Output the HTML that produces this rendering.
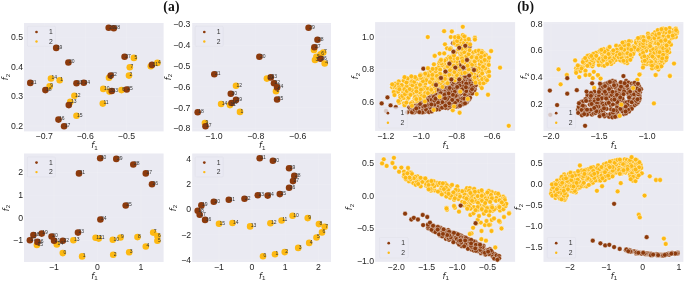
<!DOCTYPE html>
<html><head><meta charset="utf-8"><title>figure</title>
<style>
html,body{margin:0;padding:0;background:#fff;}
svg{display:block}
text{font-family:"Liberation Sans",sans-serif;fill:#262626}
.tk{font-size:8.7px}
.lg{font-size:6.8px;fill:#333}
.pl{font-size:5px;fill:#333}
.ax{font-family:"DejaVu Sans","Liberation Sans",sans-serif;font-style:italic;font-size:8.3px}
.sub{font-family:"Liberation Sans",sans-serif;font-style:normal;font-size:6.2px}
.ttl{font-family:"Liberation Serif",serif;font-weight:bold;font-size:13.6px;letter-spacing:0.15px;fill:#111}
</style></head><body>
<svg width="685" height="282" viewBox="0 0 685 282">
<rect width="685" height="282" fill="#fff"/>
<rect x="24" y="23" width="139.6" height="108.4" fill="#eaeaf2"/>
<line x1="44.2" y1="23" x2="44.2" y2="131.4" stroke="#fff" stroke-opacity="0.2" stroke-width="0.6"/>
<text class="tk" x="44.2" y="139.3" text-anchor="middle">−0.7</text>
<line x1="85.3" y1="23" x2="85.3" y2="131.4" stroke="#fff" stroke-opacity="0.2" stroke-width="0.6"/>
<text class="tk" x="85.3" y="139.3" text-anchor="middle">−0.6</text>
<line x1="126.4" y1="23" x2="126.4" y2="131.4" stroke="#fff" stroke-opacity="0.2" stroke-width="0.6"/>
<text class="tk" x="126.4" y="139.3" text-anchor="middle">−0.5</text>
<line x1="24" y1="37.2" x2="163.6" y2="37.2" stroke="#fff" stroke-opacity="0.2" stroke-width="0.6"/>
<text class="tk" x="23" y="40" text-anchor="end">0.5</text>
<line x1="24" y1="66.8" x2="163.6" y2="66.8" stroke="#fff" stroke-opacity="0.2" stroke-width="0.6"/>
<text class="tk" x="23" y="69.6" text-anchor="end">0.4</text>
<line x1="24" y1="96.4" x2="163.6" y2="96.4" stroke="#fff" stroke-opacity="0.2" stroke-width="0.6"/>
<text class="tk" x="23" y="99.2" text-anchor="end">0.3</text>
<line x1="24" y1="126" x2="163.6" y2="126" stroke="#fff" stroke-opacity="0.2" stroke-width="0.6"/>
<text class="tk" x="23" y="128.8" text-anchor="end">0.2</text>
<text class="ax" x="94.4" y="148.1" text-anchor="middle">f<tspan class="sub" dy="1.6">1</tspan></text>
<text class="ax" transform="translate(8 77) rotate(-90)" text-anchor="middle">f<tspan class="sub" dy="1.6">2</tspan></text>
<rect x="27.4" y="26.3" width="28" height="20" rx="1" fill="#eaeaf2" fill-opacity="0.8" stroke="#d8d8e2" stroke-opacity="0.7" stroke-width="0.4"/>
<circle cx="36.5" cy="32" r="1.35" fill="#8c3a0c"/>
<circle cx="36.5" cy="41.5" r="1.2" fill="#fdb913"/>
<text class="lg" x="49" y="33.9">1</text>
<text class="lg" x="49" y="43.5">2</text>
<circle cx="30.3" cy="82.9" r="3.3" fill="#8c3a0c"/>
<circle cx="51" cy="78.5" r="3.3" fill="#fdb913"/>
<circle cx="59.7" cy="80.2" r="3.3" fill="#fdb913"/>
<circle cx="49.6" cy="86.4" r="3.3" fill="#fdb913"/>
<circle cx="45.4" cy="90.1" r="3.3" fill="#8c3a0c"/>
<circle cx="76.5" cy="83.3" r="3.3" fill="#8c3a0c"/>
<circle cx="83.8" cy="82.7" r="3.3" fill="#8c3a0c"/>
<circle cx="74.4" cy="95.7" r="3.3" fill="#fdb913"/>
<circle cx="70.3" cy="101.9" r="3.3" fill="#fdb913"/>
<circle cx="68.8" cy="105.1" r="3.3" fill="#8c3a0c"/>
<circle cx="58.5" cy="119.6" r="3.3" fill="#8c3a0c"/>
<circle cx="64.1" cy="126.2" r="3.3" fill="#8c3a0c"/>
<circle cx="76.5" cy="115.8" r="3.3" fill="#fdb913"/>
<circle cx="102.8" cy="103.6" r="3.3" fill="#fdb913"/>
<circle cx="103.3" cy="88.9" r="3.3" fill="#fdb913"/>
<circle cx="109.5" cy="91.6" r="3.3" fill="#fdb913"/>
<circle cx="111.8" cy="91" r="3.3" fill="#8c3a0c"/>
<circle cx="121.5" cy="90.1" r="3.3" fill="#fdb913"/>
<circle cx="126.7" cy="89.5" r="3.3" fill="#8c3a0c"/>
<circle cx="109" cy="77.7" r="3.3" fill="#fdb913"/>
<circle cx="110.7" cy="75.6" r="3.3" fill="#8c3a0c"/>
<circle cx="129" cy="75.6" r="3.3" fill="#fdb913"/>
<circle cx="108.7" cy="27.8" r="3.3" fill="#8c3a0c"/>
<circle cx="113.8" cy="28.3" r="3.3" fill="#8c3a0c"/>
<circle cx="56.2" cy="47.9" r="3.3" fill="#8c3a0c"/>
<circle cx="68.4" cy="62.5" r="3.3" fill="#8c3a0c"/>
<circle cx="124.6" cy="56.7" r="3.3" fill="#8c3a0c"/>
<circle cx="133.9" cy="57.9" r="3.3" fill="#fdb913"/>
<circle cx="129.8" cy="67.2" r="3.3" fill="#fdb913"/>
<circle cx="150.8" cy="66.3" r="3.3" fill="#fdb913"/>
<circle cx="152" cy="64.9" r="3.3" fill="#8c3a0c"/>
<circle cx="157.4" cy="62.9" r="3.3" fill="#fdb913"/>
<text class="pl" x="30.9" y="83.7">21</text>
<text class="pl" x="51.6" y="79.3">14</text>
<text class="pl" x="60.3" y="81">1</text>
<text class="pl" x="50.2" y="87.2">9</text>
<text class="pl" x="46" y="90.9">18</text>
<text class="pl" x="77.1" y="84.1">23</text>
<text class="pl" x="84.4" y="83.5">24</text>
<text class="pl" x="75" y="96.5">12</text>
<text class="pl" x="70.9" y="102.7">13</text>
<text class="pl" x="69.4" y="105.9">7</text>
<text class="pl" x="59.1" y="120.4">16</text>
<text class="pl" x="64.7" y="127">17</text>
<text class="pl" x="77.1" y="116.6">15</text>
<text class="pl" x="103.4" y="104.4">11</text>
<text class="pl" x="103.9" y="89.7">10</text>
<text class="pl" x="110.1" y="92.4">3</text>
<text class="pl" x="112.4" y="91.8">33</text>
<text class="pl" x="122.1" y="90.9">6</text>
<text class="pl" x="127.3" y="90.3">25</text>
<text class="pl" x="109.6" y="78.5">8</text>
<text class="pl" x="111.3" y="76.4">22</text>
<text class="pl" x="129.6" y="76.4">2</text>
<text class="pl" x="109.3" y="28.6">29</text>
<text class="pl" x="114.4" y="29.1">28</text>
<text class="pl" x="56.8" y="48.7">19</text>
<text class="pl" x="69" y="63.3">20</text>
<text class="pl" x="125.2" y="57.5">27</text>
<text class="pl" x="134.5" y="58.7">5</text>
<text class="pl" x="130.4" y="68">7</text>
<text class="pl" x="152.6" y="65.7">31</text>
<text class="pl" x="158" y="63.7">4</text>
<rect x="192.2" y="23" width="138.8" height="108.4" fill="#eaeaf2"/>
<line x1="213.9" y1="23" x2="213.9" y2="131.4" stroke="#fff" stroke-opacity="0.2" stroke-width="0.6"/>
<text class="tk" x="213.9" y="139.3" text-anchor="middle">−1.0</text>
<line x1="255.8" y1="23" x2="255.8" y2="131.4" stroke="#fff" stroke-opacity="0.2" stroke-width="0.6"/>
<text class="tk" x="255.8" y="139.3" text-anchor="middle">−0.8</text>
<line x1="297.7" y1="23" x2="297.7" y2="131.4" stroke="#fff" stroke-opacity="0.2" stroke-width="0.6"/>
<text class="tk" x="297.7" y="139.3" text-anchor="middle">−0.6</text>
<line x1="192.2" y1="24.5" x2="331" y2="24.5" stroke="#fff" stroke-opacity="0.2" stroke-width="0.6"/>
<text class="tk" x="190.4" y="27.3" text-anchor="end">−0.3</text>
<line x1="192.2" y1="45.3" x2="331" y2="45.3" stroke="#fff" stroke-opacity="0.2" stroke-width="0.6"/>
<text class="tk" x="190.4" y="48.1" text-anchor="end">−0.4</text>
<line x1="192.2" y1="66.1" x2="331" y2="66.1" stroke="#fff" stroke-opacity="0.2" stroke-width="0.6"/>
<text class="tk" x="190.4" y="68.9" text-anchor="end">−0.5</text>
<line x1="192.2" y1="86.9" x2="331" y2="86.9" stroke="#fff" stroke-opacity="0.2" stroke-width="0.6"/>
<text class="tk" x="190.4" y="89.7" text-anchor="end">−0.6</text>
<line x1="192.2" y1="107.7" x2="331" y2="107.7" stroke="#fff" stroke-opacity="0.2" stroke-width="0.6"/>
<text class="tk" x="190.4" y="110.5" text-anchor="end">−0.7</text>
<line x1="192.2" y1="128.5" x2="331" y2="128.5" stroke="#fff" stroke-opacity="0.2" stroke-width="0.6"/>
<text class="tk" x="190.4" y="131.3" text-anchor="end">−0.8</text>
<text class="ax" x="262.2" y="148.1" text-anchor="middle">f<tspan class="sub" dy="1.6">1</tspan></text>
<text class="ax" transform="translate(170.6 77) rotate(-90)" text-anchor="middle">f<tspan class="sub" dy="1.6">2</tspan></text>
<rect x="195.2" y="26.3" width="28" height="20" rx="1" fill="#eaeaf2" fill-opacity="0.8" stroke="#d8d8e2" stroke-opacity="0.7" stroke-width="0.4"/>
<circle cx="204.3" cy="32" r="1.35" fill="#8c3a0c"/>
<circle cx="204.3" cy="41.5" r="1.2" fill="#fdb913"/>
<text class="lg" x="216.8" y="33.9">1</text>
<text class="lg" x="216.8" y="43.5">2</text>
<circle cx="308.6" cy="27.8" r="3.3" fill="#8c3a0c"/>
<circle cx="317.5" cy="39.7" r="3.3" fill="#8c3a0c"/>
<circle cx="314" cy="50" r="3.3" fill="#fdb913"/>
<circle cx="314.4" cy="47.3" r="3.3" fill="#8c3a0c"/>
<circle cx="323.3" cy="52.5" r="3.3" fill="#fdb913"/>
<circle cx="320.6" cy="54.2" r="3.3" fill="#fdb913"/>
<circle cx="316.4" cy="56.7" r="3.3" fill="#fdb913"/>
<circle cx="315" cy="60" r="3.3" fill="#fdb913"/>
<circle cx="320.6" cy="58.7" r="3.3" fill="#8c3a0c"/>
<circle cx="324.7" cy="63.5" r="3.3" fill="#fdb913"/>
<circle cx="259.4" cy="56.7" r="3.3" fill="#8c3a0c"/>
<circle cx="214.3" cy="74.2" r="3.3" fill="#8c3a0c"/>
<circle cx="266.9" cy="78.6" r="3.3" fill="#fdb913"/>
<circle cx="270.8" cy="77.4" r="3.3" fill="#8c3a0c"/>
<circle cx="236" cy="85.8" r="3.3" fill="#fdb913"/>
<circle cx="230.8" cy="93.7" r="3.3" fill="#8c3a0c"/>
<circle cx="236" cy="99.9" r="3.3" fill="#8c3a0c"/>
<circle cx="230" cy="105.1" r="3.3" fill="#fdb913"/>
<circle cx="231.5" cy="103" r="3.3" fill="#8c3a0c"/>
<circle cx="221.1" cy="104" r="3.3" fill="#fdb913"/>
<circle cx="240" cy="111.9" r="3.3" fill="#fdb913"/>
<circle cx="197.7" cy="112.3" r="3.3" fill="#8c3a0c"/>
<circle cx="204.9" cy="123.1" r="3.3" fill="#fdb913"/>
<circle cx="205.5" cy="126.2" r="3.3" fill="#8c3a0c"/>
<circle cx="274" cy="83.3" r="3.3" fill="#8c3a0c"/>
<circle cx="276" cy="91.2" r="3.3" fill="#fdb913"/>
<circle cx="277.1" cy="87.4" r="3.3" fill="#8c3a0c"/>
<circle cx="277.1" cy="99.5" r="3.3" fill="#8c3a0c"/>
<text class="pl" x="309.2" y="28.6">29</text>
<text class="pl" x="318.1" y="40.5">28</text>
<text class="pl" x="315" y="48.1">27</text>
<text class="pl" x="323.9" y="53.3">7</text>
<text class="pl" x="321.2" y="55">6</text>
<text class="pl" x="317" y="57.5">5</text>
<text class="pl" x="315.6" y="60.8">3</text>
<text class="pl" x="321.2" y="59.5">26</text>
<text class="pl" x="325.3" y="64.3">4</text>
<text class="pl" x="260" y="57.5">20</text>
<text class="pl" x="214.9" y="75">21</text>
<text class="pl" x="267.5" y="79.4">10</text>
<text class="pl" x="271.4" y="78.2">23</text>
<text class="pl" x="236.6" y="86.6">12</text>
<text class="pl" x="231.4" y="94.5">30</text>
<text class="pl" x="236.6" y="100.7">19</text>
<text class="pl" x="230.6" y="105.9">11</text>
<text class="pl" x="232.1" y="103.8">16</text>
<text class="pl" x="221.7" y="104.8">14</text>
<text class="pl" x="240.6" y="112.7">1</text>
<text class="pl" x="198.3" y="113.1">18</text>
<text class="pl" x="205.5" y="123.9">9</text>
<text class="pl" x="206.1" y="127">17</text>
<text class="pl" x="274.6" y="84.1">22</text>
<text class="pl" x="276.6" y="92">2</text>
<text class="pl" x="277.7" y="88.2">24</text>
<text class="pl" x="277.7" y="100.3">25</text>
<rect x="24" y="153.5" width="139.6" height="108.5" fill="#eaeaf2"/>
<line x1="54" y1="153.5" x2="54" y2="262" stroke="#fff" stroke-opacity="0.2" stroke-width="0.6"/>
<text class="tk" x="54" y="269.9" text-anchor="middle">−1</text>
<line x1="97.5" y1="153.5" x2="97.5" y2="262" stroke="#fff" stroke-opacity="0.2" stroke-width="0.6"/>
<text class="tk" x="97.5" y="269.9" text-anchor="middle">0</text>
<line x1="141" y1="153.5" x2="141" y2="262" stroke="#fff" stroke-opacity="0.2" stroke-width="0.6"/>
<text class="tk" x="141" y="269.9" text-anchor="middle">1</text>
<line x1="24" y1="172.5" x2="163.6" y2="172.5" stroke="#fff" stroke-opacity="0.2" stroke-width="0.6"/>
<text class="tk" x="23" y="175.3" text-anchor="end">2</text>
<line x1="24" y1="195.2" x2="163.6" y2="195.2" stroke="#fff" stroke-opacity="0.2" stroke-width="0.6"/>
<text class="tk" x="23" y="198" text-anchor="end">1</text>
<line x1="24" y1="217.8" x2="163.6" y2="217.8" stroke="#fff" stroke-opacity="0.2" stroke-width="0.6"/>
<text class="tk" x="23" y="220.6" text-anchor="end">0</text>
<line x1="24" y1="240.5" x2="163.6" y2="240.5" stroke="#fff" stroke-opacity="0.2" stroke-width="0.6"/>
<text class="tk" x="23" y="243.3" text-anchor="end">−1</text>
<text class="ax" x="94.4" y="278.7" text-anchor="middle">f<tspan class="sub" dy="1.6">1</tspan></text>
<text class="ax" transform="translate(8.6 208) rotate(-90)" text-anchor="middle">f<tspan class="sub" dy="1.6">2</tspan></text>
<rect x="27.4" y="156.9" width="28" height="20" rx="1" fill="#eaeaf2" fill-opacity="0.8" stroke="#d8d8e2" stroke-opacity="0.7" stroke-width="0.4"/>
<circle cx="36.5" cy="162.6" r="1.35" fill="#8c3a0c"/>
<circle cx="36.5" cy="172.1" r="1.2" fill="#fdb913"/>
<text class="lg" x="49" y="164.5">1</text>
<text class="lg" x="49" y="174.1">2</text>
<circle cx="100.2" cy="158.3" r="3.3" fill="#8c3a0c"/>
<circle cx="116.3" cy="158.9" r="3.3" fill="#8c3a0c"/>
<circle cx="133.3" cy="164.5" r="3.3" fill="#8c3a0c"/>
<circle cx="145.8" cy="173.4" r="3.3" fill="#8c3a0c"/>
<circle cx="152" cy="184.2" r="3.3" fill="#8c3a0c"/>
<circle cx="79" cy="173.4" r="3.3" fill="#8c3a0c"/>
<circle cx="125.7" cy="205.5" r="3.3" fill="#8c3a0c"/>
<circle cx="100.4" cy="219.5" r="3.3" fill="#8c3a0c"/>
<circle cx="78" cy="232.6" r="3.3" fill="#8c3a0c"/>
<circle cx="36.9" cy="245" r="3.3" fill="#fdb913"/>
<circle cx="56.8" cy="244.4" r="3.3" fill="#fdb913"/>
<circle cx="73.4" cy="240.2" r="3.3" fill="#fdb913"/>
<circle cx="62.8" cy="240.7" r="3.3" fill="#8c3a0c"/>
<circle cx="54.1" cy="240.7" r="3.3" fill="#8c3a0c"/>
<circle cx="51.6" cy="236.5" r="3.3" fill="#8c3a0c"/>
<circle cx="41.7" cy="233.6" r="3.3" fill="#8c3a0c"/>
<circle cx="33.4" cy="235.1" r="3.3" fill="#8c3a0c"/>
<circle cx="29.9" cy="240.2" r="3.3" fill="#8c3a0c"/>
<circle cx="37.5" cy="241.9" r="3.3" fill="#8c3a0c"/>
<circle cx="62.8" cy="253.1" r="3.3" fill="#fdb913"/>
<circle cx="82.1" cy="256.4" r="3.3" fill="#fdb913"/>
<circle cx="95.6" cy="237.8" r="3.3" fill="#fdb913"/>
<circle cx="98.7" cy="238.6" r="3.3" fill="#fdb913"/>
<circle cx="112.8" cy="239.8" r="3.3" fill="#fdb913"/>
<circle cx="120.5" cy="237.5" r="3.3" fill="#fdb913"/>
<circle cx="137.5" cy="237.1" r="3.3" fill="#fdb913"/>
<circle cx="153.2" cy="232.6" r="3.3" fill="#fdb913"/>
<circle cx="157.4" cy="236.1" r="3.3" fill="#fdb913"/>
<circle cx="157.4" cy="240.7" r="3.3" fill="#fdb913"/>
<circle cx="145.8" cy="246.5" r="3.3" fill="#fdb913"/>
<circle cx="129.2" cy="252.3" r="3.3" fill="#fdb913"/>
<circle cx="113.2" cy="254.8" r="3.3" fill="#fdb913"/>
<text class="pl" x="100.8" y="159.1">30</text>
<text class="pl" x="116.9" y="159.7">29</text>
<text class="pl" x="133.9" y="165.3">28</text>
<text class="pl" x="146.4" y="174.2">27</text>
<text class="pl" x="152.6" y="185">26</text>
<text class="pl" x="79.6" y="174.2">31</text>
<text class="pl" x="126.3" y="206.3">25</text>
<text class="pl" x="101" y="220.3">24</text>
<text class="pl" x="78.6" y="233.4">23</text>
<text class="pl" x="37.5" y="245.8">15</text>
<text class="pl" x="57.4" y="245.2">14</text>
<text class="pl" x="74" y="241">13</text>
<text class="pl" x="63.4" y="241.5">22</text>
<text class="pl" x="54.7" y="241.5">21</text>
<text class="pl" x="52.2" y="237.3">20</text>
<text class="pl" x="42.3" y="234.4">19</text>
<text class="pl" x="34" y="235.9">18</text>
<text class="pl" x="30.5" y="241">17</text>
<text class="pl" x="38.1" y="242.7">16</text>
<text class="pl" x="63.4" y="253.9">0</text>
<text class="pl" x="82.7" y="257.2">1</text>
<text class="pl" x="96.2" y="238.6">12</text>
<text class="pl" x="99.3" y="239.4">11</text>
<text class="pl" x="113.4" y="240.6">10</text>
<text class="pl" x="121.1" y="238.3">9</text>
<text class="pl" x="138.1" y="237.9">8</text>
<text class="pl" x="153.8" y="233.4">7</text>
<text class="pl" x="158" y="236.9">6</text>
<text class="pl" x="158" y="241.5">5</text>
<text class="pl" x="146.4" y="247.3">4</text>
<text class="pl" x="129.8" y="253.1">3</text>
<text class="pl" x="113.8" y="255.6">2</text>
<rect x="192.2" y="153.5" width="138.8" height="108.5" fill="#eaeaf2"/>
<line x1="219" y1="153.5" x2="219" y2="262" stroke="#fff" stroke-opacity="0.2" stroke-width="0.6"/>
<text class="tk" x="219" y="269.9" text-anchor="middle">−1</text>
<line x1="252" y1="153.5" x2="252" y2="262" stroke="#fff" stroke-opacity="0.2" stroke-width="0.6"/>
<text class="tk" x="252" y="269.9" text-anchor="middle">0</text>
<line x1="285.2" y1="153.5" x2="285.2" y2="262" stroke="#fff" stroke-opacity="0.2" stroke-width="0.6"/>
<text class="tk" x="285.2" y="269.9" text-anchor="middle">1</text>
<line x1="318.4" y1="153.5" x2="318.4" y2="262" stroke="#fff" stroke-opacity="0.2" stroke-width="0.6"/>
<text class="tk" x="318.4" y="269.9" text-anchor="middle">2</text>
<line x1="192.2" y1="159.2" x2="331" y2="159.2" stroke="#fff" stroke-opacity="0.2" stroke-width="0.6"/>
<text class="tk" x="191.2" y="162" text-anchor="end">4</text>
<line x1="192.2" y1="184.4" x2="331" y2="184.4" stroke="#fff" stroke-opacity="0.2" stroke-width="0.6"/>
<text class="tk" x="191.2" y="187.2" text-anchor="end">2</text>
<line x1="192.2" y1="209.6" x2="331" y2="209.6" stroke="#fff" stroke-opacity="0.2" stroke-width="0.6"/>
<text class="tk" x="191.2" y="212.4" text-anchor="end">0</text>
<line x1="192.2" y1="234.8" x2="331" y2="234.8" stroke="#fff" stroke-opacity="0.2" stroke-width="0.6"/>
<text class="tk" x="191.2" y="237.6" text-anchor="end">−2</text>
<line x1="192.2" y1="260" x2="331" y2="260" stroke="#fff" stroke-opacity="0.2" stroke-width="0.6"/>
<text class="tk" x="191.2" y="262.8" text-anchor="end">−4</text>
<text class="ax" x="262.2" y="278.7" text-anchor="middle">f<tspan class="sub" dy="1.6">1</tspan></text>
<text class="ax" transform="translate(175.6 208) rotate(-90)" text-anchor="middle">f<tspan class="sub" dy="1.6">2</tspan></text>
<rect x="195.2" y="156.9" width="28" height="20" rx="1" fill="#eaeaf2" fill-opacity="0.8" stroke="#d8d8e2" stroke-opacity="0.7" stroke-width="0.4"/>
<circle cx="204.3" cy="162.6" r="1.35" fill="#8c3a0c"/>
<circle cx="204.3" cy="172.1" r="1.2" fill="#fdb913"/>
<text class="lg" x="216.8" y="164.5">1</text>
<text class="lg" x="216.8" y="174.1">2</text>
<circle cx="259.7" cy="158.3" r="3.3" fill="#8c3a0c"/>
<circle cx="272.9" cy="160.7" r="3.3" fill="#8c3a0c"/>
<circle cx="289.1" cy="168.2" r="3.3" fill="#8c3a0c"/>
<circle cx="294.3" cy="175.9" r="3.3" fill="#8c3a0c"/>
<circle cx="293" cy="181.1" r="3.3" fill="#8c3a0c"/>
<circle cx="289.1" cy="187.7" r="3.3" fill="#8c3a0c"/>
<circle cx="279.8" cy="194.1" r="3.3" fill="#8c3a0c"/>
<circle cx="267.7" cy="195.6" r="3.3" fill="#8c3a0c"/>
<circle cx="257.8" cy="195.2" r="3.3" fill="#8c3a0c"/>
<circle cx="244.5" cy="198.7" r="3.3" fill="#8c3a0c"/>
<circle cx="228.8" cy="199.7" r="3.3" fill="#8c3a0c"/>
<circle cx="213.8" cy="201.8" r="3.3" fill="#8c3a0c"/>
<circle cx="201.4" cy="205.4" r="3.3" fill="#8c3a0c"/>
<circle cx="197.7" cy="210.8" r="3.3" fill="#8c3a0c"/>
<circle cx="199.7" cy="214.7" r="3.3" fill="#8c3a0c"/>
<circle cx="205.1" cy="219.9" r="3.3" fill="#8c3a0c"/>
<circle cx="219" cy="223.7" r="3.3" fill="#fdb913"/>
<circle cx="232.5" cy="223" r="3.3" fill="#fdb913"/>
<circle cx="250.1" cy="226.4" r="3.3" fill="#fdb913"/>
<circle cx="270.4" cy="223.2" r="3.3" fill="#fdb913"/>
<circle cx="281.6" cy="220.5" r="3.3" fill="#fdb913"/>
<circle cx="292.6" cy="215.8" r="3.3" fill="#fdb913"/>
<circle cx="307.7" cy="218.1" r="3.3" fill="#fdb913"/>
<circle cx="318.9" cy="224.1" r="3.3" fill="#fdb913"/>
<circle cx="324.7" cy="226.8" r="3.3" fill="#fdb913"/>
<circle cx="322" cy="232.4" r="3.3" fill="#fdb913"/>
<circle cx="316.5" cy="237.5" r="3.3" fill="#fdb913"/>
<circle cx="309.2" cy="242.9" r="3.3" fill="#fdb913"/>
<circle cx="298.2" cy="247.9" r="3.3" fill="#fdb913"/>
<circle cx="284.7" cy="252.1" r="3.3" fill="#fdb913"/>
<circle cx="275" cy="254.3" r="3.3" fill="#fdb913"/>
<circle cx="263" cy="256.2" r="3.3" fill="#fdb913"/>
<text class="pl" x="260.3" y="159.1">31</text>
<text class="pl" x="273.5" y="161.5">30</text>
<text class="pl" x="289.7" y="169">29</text>
<text class="pl" x="294.9" y="176.7">28</text>
<text class="pl" x="293.6" y="181.9">27</text>
<text class="pl" x="289.7" y="188.5">26</text>
<text class="pl" x="280.4" y="194.9">25</text>
<text class="pl" x="268.3" y="196.4">24</text>
<text class="pl" x="258.4" y="196">23</text>
<text class="pl" x="245.1" y="199.5">22</text>
<text class="pl" x="229.4" y="200.5">21</text>
<text class="pl" x="214.4" y="202.6">20</text>
<text class="pl" x="202" y="206.2">19</text>
<text class="pl" x="198.3" y="211.6">18</text>
<text class="pl" x="200.3" y="215.5">17</text>
<text class="pl" x="205.7" y="220.7">16</text>
<text class="pl" x="219.6" y="224.5">15</text>
<text class="pl" x="233.1" y="223.8">14</text>
<text class="pl" x="250.7" y="227.2">13</text>
<text class="pl" x="271" y="224">12</text>
<text class="pl" x="282.2" y="221.3">11</text>
<text class="pl" x="293.2" y="216.6">10</text>
<text class="pl" x="308.3" y="218.9">9</text>
<text class="pl" x="319.5" y="224.9">8</text>
<text class="pl" x="325.3" y="227.6">7</text>
<text class="pl" x="322.6" y="233.2">6</text>
<text class="pl" x="317.1" y="238.3">5</text>
<text class="pl" x="309.8" y="243.7">4</text>
<text class="pl" x="298.8" y="248.7">3</text>
<text class="pl" x="285.3" y="252.9">2</text>
<text class="pl" x="275.6" y="255.1">1</text>
<text class="pl" x="263.6" y="257">0</text>
<text class="ttl" x="163.3" y="11.2">(a)</text>
<text class="ttl" x="517.2" y="11.2">(b)</text>
<rect x="375.1" y="22.1" width="140" height="108.8" fill="#eaeaf2"/>
<line x1="385.8" y1="22.1" x2="385.8" y2="130.9" stroke="#fff" stroke-opacity="0.2" stroke-width="0.6"/>
<text class="tk" x="385.8" y="138.5" text-anchor="middle">−1.2</text>
<line x1="421.2" y1="22.1" x2="421.2" y2="130.9" stroke="#fff" stroke-opacity="0.2" stroke-width="0.6"/>
<text class="tk" x="421.2" y="138.5" text-anchor="middle">−1.0</text>
<line x1="456.6" y1="22.1" x2="456.6" y2="130.9" stroke="#fff" stroke-opacity="0.2" stroke-width="0.6"/>
<text class="tk" x="456.6" y="138.5" text-anchor="middle">−0.8</text>
<line x1="492" y1="22.1" x2="492" y2="130.9" stroke="#fff" stroke-opacity="0.2" stroke-width="0.6"/>
<text class="tk" x="492" y="138.5" text-anchor="middle">−0.6</text>
<line x1="375.1" y1="37" x2="515.1" y2="37" stroke="#fff" stroke-opacity="0.2" stroke-width="0.6"/>
<text class="tk" x="374.1" y="39.8" text-anchor="end">1.0</text>
<line x1="375.1" y1="69.5" x2="515.1" y2="69.5" stroke="#fff" stroke-opacity="0.2" stroke-width="0.6"/>
<text class="tk" x="374.1" y="72.3" text-anchor="end">0.8</text>
<line x1="375.1" y1="102" x2="515.1" y2="102" stroke="#fff" stroke-opacity="0.2" stroke-width="0.6"/>
<text class="tk" x="374.1" y="104.8" text-anchor="end">0.6</text>
<text class="ax" x="445.7" y="147.6" text-anchor="middle">f<tspan class="sub" dy="1.6">1</tspan></text>
<text class="ax" transform="translate(358 76) rotate(-90)" text-anchor="middle">f<tspan class="sub" dy="1.6">2</tspan></text>
<circle cx="438.67" cy="88.79" r="2.4" fill="#8c3a0c" stroke="#fff" stroke-width="0.4"/>
<circle cx="471.69" cy="83.61" r="2.4" fill="#8c3a0c" stroke="#fff" stroke-width="0.4"/>
<circle cx="442.55" cy="90.31" r="2.4" fill="#8c3a0c" stroke="#fff" stroke-width="0.4"/>
<circle cx="451.09" cy="101.61" r="2.4" fill="#8c3a0c" stroke="#fff" stroke-width="0.4"/>
<circle cx="452.77" cy="91.86" r="2.4" fill="#8c3a0c" stroke="#fff" stroke-width="0.4"/>
<circle cx="437.84" cy="104.33" r="2.4" fill="#8c3a0c" stroke="#fff" stroke-width="0.4"/>
<circle cx="443.34" cy="93.22" r="2.4" fill="#8c3a0c" stroke="#fff" stroke-width="0.4"/>
<circle cx="441.98" cy="94.43" r="2.4" fill="#8c3a0c" stroke="#fff" stroke-width="0.4"/>
<circle cx="465.82" cy="96.93" r="2.4" fill="#8c3a0c" stroke="#fff" stroke-width="0.4"/>
<circle cx="460.64" cy="80.02" r="2.4" fill="#8c3a0c" stroke="#fff" stroke-width="0.4"/>
<circle cx="466.26" cy="79.26" r="2.4" fill="#8c3a0c" stroke="#fff" stroke-width="0.4"/>
<circle cx="475.63" cy="79.86" r="2.4" fill="#8c3a0c" stroke="#fff" stroke-width="0.4"/>
<circle cx="461.5" cy="72.84" r="2.4" fill="#8c3a0c" stroke="#fff" stroke-width="0.4"/>
<circle cx="462.79" cy="67.77" r="2.4" fill="#8c3a0c" stroke="#fff" stroke-width="0.4"/>
<circle cx="446.15" cy="82.61" r="2.4" fill="#8c3a0c" stroke="#fff" stroke-width="0.4"/>
<circle cx="420.35" cy="98.25" r="2.4" fill="#8c3a0c" stroke="#fff" stroke-width="0.4"/>
<circle cx="428.29" cy="106.67" r="2.4" fill="#8c3a0c" stroke="#fff" stroke-width="0.4"/>
<circle cx="466.81" cy="93.3" r="2.4" fill="#8c3a0c" stroke="#fff" stroke-width="0.4"/>
<circle cx="414.02" cy="112.41" r="2.4" fill="#8c3a0c" stroke="#fff" stroke-width="0.4"/>
<circle cx="461.09" cy="76.09" r="2.4" fill="#8c3a0c" stroke="#fff" stroke-width="0.4"/>
<circle cx="474.14" cy="84.6" r="2.4" fill="#8c3a0c" stroke="#fff" stroke-width="0.4"/>
<circle cx="447.22" cy="105.66" r="2.4" fill="#8c3a0c" stroke="#fff" stroke-width="0.4"/>
<circle cx="420.76" cy="110.26" r="2.4" fill="#8c3a0c" stroke="#fff" stroke-width="0.4"/>
<circle cx="468.75" cy="91.19" r="2.4" fill="#8c3a0c" stroke="#fff" stroke-width="0.4"/>
<circle cx="409.71" cy="110.95" r="2.4" fill="#8c3a0c" stroke="#fff" stroke-width="0.4"/>
<circle cx="423.69" cy="96.75" r="2.4" fill="#8c3a0c" stroke="#fff" stroke-width="0.4"/>
<circle cx="424.99" cy="103.3" r="2.4" fill="#8c3a0c" stroke="#fff" stroke-width="0.4"/>
<circle cx="448.75" cy="74.14" r="2.4" fill="#8c3a0c" stroke="#fff" stroke-width="0.4"/>
<circle cx="471.22" cy="69.22" r="2.4" fill="#8c3a0c" stroke="#fff" stroke-width="0.4"/>
<circle cx="432.35" cy="107" r="2.4" fill="#8c3a0c" stroke="#fff" stroke-width="0.4"/>
<circle cx="455.39" cy="90.14" r="2.4" fill="#8c3a0c" stroke="#fff" stroke-width="0.4"/>
<circle cx="440.76" cy="98.18" r="2.4" fill="#8c3a0c" stroke="#fff" stroke-width="0.4"/>
<circle cx="458.6" cy="96.7" r="2.4" fill="#8c3a0c" stroke="#fff" stroke-width="0.4"/>
<circle cx="431.63" cy="95.68" r="2.4" fill="#8c3a0c" stroke="#fff" stroke-width="0.4"/>
<circle cx="436.2" cy="101.48" r="2.4" fill="#8c3a0c" stroke="#fff" stroke-width="0.4"/>
<circle cx="467.44" cy="89.5" r="2.4" fill="#8c3a0c" stroke="#fff" stroke-width="0.4"/>
<circle cx="450.75" cy="79.03" r="2.4" fill="#8c3a0c" stroke="#fff" stroke-width="0.4"/>
<circle cx="447.79" cy="91.49" r="2.4" fill="#8c3a0c" stroke="#fff" stroke-width="0.4"/>
<circle cx="457.97" cy="79.36" r="2.4" fill="#8c3a0c" stroke="#fff" stroke-width="0.4"/>
<circle cx="458.45" cy="89.95" r="2.4" fill="#8c3a0c" stroke="#fff" stroke-width="0.4"/>
<circle cx="455.88" cy="85.35" r="2.4" fill="#8c3a0c" stroke="#fff" stroke-width="0.4"/>
<circle cx="428.07" cy="95.3" r="2.4" fill="#8c3a0c" stroke="#fff" stroke-width="0.4"/>
<circle cx="470.4" cy="94.3" r="2.4" fill="#8c3a0c" stroke="#fff" stroke-width="0.4"/>
<circle cx="437.94" cy="107.04" r="2.4" fill="#8c3a0c" stroke="#fff" stroke-width="0.4"/>
<circle cx="429.89" cy="94.62" r="2.4" fill="#8c3a0c" stroke="#fff" stroke-width="0.4"/>
<circle cx="468.62" cy="79.14" r="2.4" fill="#8c3a0c" stroke="#fff" stroke-width="0.4"/>
<circle cx="450.8" cy="85.16" r="2.4" fill="#8c3a0c" stroke="#fff" stroke-width="0.4"/>
<circle cx="429.08" cy="104.15" r="2.4" fill="#8c3a0c" stroke="#fff" stroke-width="0.4"/>
<circle cx="475.74" cy="82.89" r="2.4" fill="#8c3a0c" stroke="#fff" stroke-width="0.4"/>
<circle cx="468.1" cy="60.28" r="2.4" fill="#8c3a0c" stroke="#fff" stroke-width="0.4"/>
<circle cx="428.63" cy="101.53" r="2.4" fill="#8c3a0c" stroke="#fff" stroke-width="0.4"/>
<circle cx="465.08" cy="71.06" r="2.4" fill="#8c3a0c" stroke="#fff" stroke-width="0.4"/>
<circle cx="451.04" cy="82.56" r="2.4" fill="#8c3a0c" stroke="#fff" stroke-width="0.4"/>
<circle cx="451.1" cy="94.03" r="2.4" fill="#8c3a0c" stroke="#fff" stroke-width="0.4"/>
<circle cx="454.91" cy="68.96" r="2.4" fill="#8c3a0c" stroke="#fff" stroke-width="0.4"/>
<circle cx="456.99" cy="67.85" r="2.4" fill="#8c3a0c" stroke="#fff" stroke-width="0.4"/>
<circle cx="450.01" cy="99.59" r="2.4" fill="#8c3a0c" stroke="#fff" stroke-width="0.4"/>
<circle cx="470.44" cy="62.8" r="2.4" fill="#8c3a0c" stroke="#fff" stroke-width="0.4"/>
<circle cx="433.38" cy="89.28" r="2.4" fill="#8c3a0c" stroke="#fff" stroke-width="0.4"/>
<circle cx="452.59" cy="69.27" r="2.4" fill="#8c3a0c" stroke="#fff" stroke-width="0.4"/>
<circle cx="457.54" cy="103.01" r="2.4" fill="#8c3a0c" stroke="#fff" stroke-width="0.4"/>
<circle cx="451.91" cy="97.47" r="2.4" fill="#8c3a0c" stroke="#fff" stroke-width="0.4"/>
<circle cx="421.93" cy="107.5" r="2.4" fill="#8c3a0c" stroke="#fff" stroke-width="0.4"/>
<circle cx="444.59" cy="101.49" r="2.4" fill="#8c3a0c" stroke="#fff" stroke-width="0.4"/>
<circle cx="429.43" cy="108.05" r="2.4" fill="#8c3a0c" stroke="#fff" stroke-width="0.4"/>
<circle cx="466.9" cy="77.17" r="2.4" fill="#8c3a0c" stroke="#fff" stroke-width="0.4"/>
<circle cx="463.64" cy="61.52" r="2.4" fill="#8c3a0c" stroke="#fff" stroke-width="0.4"/>
<circle cx="430.45" cy="101.33" r="2.4" fill="#8c3a0c" stroke="#fff" stroke-width="0.4"/>
<circle cx="443.16" cy="97.8" r="2.4" fill="#8c3a0c" stroke="#fff" stroke-width="0.4"/>
<circle cx="473.44" cy="62.73" r="2.4" fill="#8c3a0c" stroke="#fff" stroke-width="0.4"/>
<circle cx="427.31" cy="98.09" r="2.4" fill="#8c3a0c" stroke="#fff" stroke-width="0.4"/>
<circle cx="451.72" cy="86.75" r="2.4" fill="#8c3a0c" stroke="#fff" stroke-width="0.4"/>
<circle cx="421.58" cy="104.79" r="2.4" fill="#8c3a0c" stroke="#fff" stroke-width="0.4"/>
<circle cx="474.79" cy="86.83" r="2.4" fill="#8c3a0c" stroke="#fff" stroke-width="0.4"/>
<circle cx="444.51" cy="85.67" r="2.4" fill="#8c3a0c" stroke="#fff" stroke-width="0.4"/>
<circle cx="446.4" cy="85.01" r="2.4" fill="#8c3a0c" stroke="#fff" stroke-width="0.4"/>
<circle cx="444.71" cy="80.76" r="2.4" fill="#8c3a0c" stroke="#fff" stroke-width="0.4"/>
<circle cx="471.77" cy="65.12" r="2.4" fill="#8c3a0c" stroke="#fff" stroke-width="0.4"/>
<circle cx="455.09" cy="75.71" r="2.4" fill="#8c3a0c" stroke="#fff" stroke-width="0.4"/>
<circle cx="431.87" cy="92.09" r="2.4" fill="#8c3a0c" stroke="#fff" stroke-width="0.4"/>
<circle cx="466.97" cy="70.8" r="2.4" fill="#8c3a0c" stroke="#fff" stroke-width="0.4"/>
<circle cx="470.19" cy="75.37" r="2.4" fill="#8c3a0c" stroke="#fff" stroke-width="0.4"/>
<circle cx="469.13" cy="65.37" r="2.4" fill="#8c3a0c" stroke="#fff" stroke-width="0.4"/>
<circle cx="465.25" cy="81.19" r="2.4" fill="#8c3a0c" stroke="#fff" stroke-width="0.4"/>
<circle cx="462.3" cy="64.93" r="2.4" fill="#8c3a0c" stroke="#fff" stroke-width="0.4"/>
<circle cx="435.19" cy="95.69" r="2.4" fill="#8c3a0c" stroke="#fff" stroke-width="0.4"/>
<circle cx="442.4" cy="99.7" r="2.4" fill="#8c3a0c" stroke="#fff" stroke-width="0.4"/>
<circle cx="411.34" cy="110.33" r="2.4" fill="#8c3a0c" stroke="#fff" stroke-width="0.4"/>
<circle cx="439.34" cy="100.06" r="2.4" fill="#8c3a0c" stroke="#fff" stroke-width="0.4"/>
<circle cx="443.07" cy="81.65" r="2.4" fill="#8c3a0c" stroke="#fff" stroke-width="0.4"/>
<circle cx="456.07" cy="104.43" r="2.4" fill="#8c3a0c" stroke="#fff" stroke-width="0.4"/>
<circle cx="448.97" cy="85.74" r="2.4" fill="#8c3a0c" stroke="#fff" stroke-width="0.4"/>
<circle cx="425.08" cy="108.12" r="2.4" fill="#8c3a0c" stroke="#fff" stroke-width="0.4"/>
<circle cx="459.11" cy="100.79" r="2.4" fill="#8c3a0c" stroke="#fff" stroke-width="0.4"/>
<circle cx="455.64" cy="100.2" r="2.4" fill="#8c3a0c" stroke="#fff" stroke-width="0.4"/>
<circle cx="423.25" cy="109.96" r="2.4" fill="#8c3a0c" stroke="#fff" stroke-width="0.4"/>
<circle cx="453.63" cy="76.58" r="2.4" fill="#8c3a0c" stroke="#fff" stroke-width="0.4"/>
<circle cx="453.18" cy="89.33" r="2.4" fill="#8c3a0c" stroke="#fff" stroke-width="0.4"/>
<circle cx="474.7" cy="89.24" r="2.4" fill="#8c3a0c" stroke="#fff" stroke-width="0.4"/>
<circle cx="473.17" cy="81.14" r="2.4" fill="#8c3a0c" stroke="#fff" stroke-width="0.4"/>
<circle cx="434.3" cy="107.36" r="2.4" fill="#8c3a0c" stroke="#fff" stroke-width="0.4"/>
<circle cx="412.15" cy="107.81" r="2.4" fill="#8c3a0c" stroke="#fff" stroke-width="0.4"/>
<circle cx="437.07" cy="84.27" r="2.4" fill="#8c3a0c" stroke="#fff" stroke-width="0.4"/>
<circle cx="475.12" cy="71.4" r="2.4" fill="#8c3a0c" stroke="#fff" stroke-width="0.4"/>
<circle cx="457.59" cy="83.76" r="2.4" fill="#8c3a0c" stroke="#fff" stroke-width="0.4"/>
<circle cx="438" cy="94.73" r="2.4" fill="#8c3a0c" stroke="#fff" stroke-width="0.4"/>
<circle cx="447.76" cy="81.07" r="2.4" fill="#8c3a0c" stroke="#fff" stroke-width="0.4"/>
<circle cx="461.46" cy="87.19" r="2.4" fill="#8c3a0c" stroke="#fff" stroke-width="0.4"/>
<circle cx="458.4" cy="71.11" r="2.4" fill="#8c3a0c" stroke="#fff" stroke-width="0.4"/>
<circle cx="414.97" cy="107.1" r="2.4" fill="#8c3a0c" stroke="#fff" stroke-width="0.4"/>
<circle cx="461.9" cy="92.37" r="2.4" fill="#8c3a0c" stroke="#fff" stroke-width="0.4"/>
<circle cx="459.73" cy="68.44" r="2.4" fill="#8c3a0c" stroke="#fff" stroke-width="0.4"/>
<circle cx="424.43" cy="111.88" r="2.4" fill="#8c3a0c" stroke="#fff" stroke-width="0.4"/>
<circle cx="445.54" cy="92.71" r="2.4" fill="#8c3a0c" stroke="#fff" stroke-width="0.4"/>
<circle cx="459.14" cy="104.12" r="2.4" fill="#8c3a0c" stroke="#fff" stroke-width="0.4"/>
<circle cx="463.64" cy="92.31" r="2.4" fill="#8c3a0c" stroke="#fff" stroke-width="0.4"/>
<circle cx="463.69" cy="78.29" r="2.4" fill="#8c3a0c" stroke="#fff" stroke-width="0.4"/>
<circle cx="461.29" cy="62.18" r="2.4" fill="#8c3a0c" stroke="#fff" stroke-width="0.4"/>
<circle cx="432.05" cy="97.93" r="2.4" fill="#8c3a0c" stroke="#fff" stroke-width="0.4"/>
<circle cx="463.21" cy="74.76" r="2.4" fill="#8c3a0c" stroke="#fff" stroke-width="0.4"/>
<circle cx="465.55" cy="88.95" r="2.4" fill="#8c3a0c" stroke="#fff" stroke-width="0.4"/>
<circle cx="419.36" cy="99.74" r="2.4" fill="#8c3a0c" stroke="#fff" stroke-width="0.4"/>
<circle cx="468.66" cy="73.48" r="2.4" fill="#8c3a0c" stroke="#fff" stroke-width="0.4"/>
<circle cx="445.09" cy="89.21" r="2.4" fill="#8c3a0c" stroke="#fff" stroke-width="0.4"/>
<circle cx="452.43" cy="71.5" r="2.4" fill="#8c3a0c" stroke="#fff" stroke-width="0.4"/>
<circle cx="422.43" cy="100.09" r="2.4" fill="#8c3a0c" stroke="#fff" stroke-width="0.4"/>
<circle cx="441.56" cy="87.55" r="2.4" fill="#8c3a0c" stroke="#fff" stroke-width="0.4"/>
<circle cx="471.05" cy="80.58" r="2.4" fill="#8c3a0c" stroke="#fff" stroke-width="0.4"/>
<circle cx="464.84" cy="94.67" r="2.4" fill="#8c3a0c" stroke="#fff" stroke-width="0.4"/>
<circle cx="466.75" cy="102.32" r="2.4" fill="#8c3a0c" stroke="#fff" stroke-width="0.4"/>
<circle cx="463.16" cy="81.19" r="2.4" fill="#8c3a0c" stroke="#fff" stroke-width="0.4"/>
<circle cx="427.44" cy="111.34" r="2.4" fill="#8c3a0c" stroke="#fff" stroke-width="0.4"/>
<circle cx="447.88" cy="108.01" r="2.4" fill="#8c3a0c" stroke="#fff" stroke-width="0.4"/>
<circle cx="464.2" cy="84.37" r="2.4" fill="#8c3a0c" stroke="#fff" stroke-width="0.4"/>
<circle cx="433.01" cy="101.82" r="2.4" fill="#8c3a0c" stroke="#fff" stroke-width="0.4"/>
<circle cx="456.93" cy="91.33" r="2.4" fill="#8c3a0c" stroke="#fff" stroke-width="0.4"/>
<circle cx="467.85" cy="86.39" r="2.4" fill="#8c3a0c" stroke="#fff" stroke-width="0.4"/>
<circle cx="417.55" cy="100.37" r="2.4" fill="#8c3a0c" stroke="#fff" stroke-width="0.4"/>
<circle cx="457.16" cy="63.34" r="2.4" fill="#8c3a0c" stroke="#fff" stroke-width="0.4"/>
<circle cx="440.61" cy="83.78" r="2.4" fill="#8c3a0c" stroke="#fff" stroke-width="0.4"/>
<circle cx="467.01" cy="74.7" r="2.4" fill="#8c3a0c" stroke="#fff" stroke-width="0.4"/>
<circle cx="418.03" cy="103.76" r="2.4" fill="#8c3a0c" stroke="#fff" stroke-width="0.4"/>
<circle cx="456.7" cy="71.06" r="2.4" fill="#8c3a0c" stroke="#fff" stroke-width="0.4"/>
<circle cx="458.2" cy="76.12" r="2.4" fill="#8c3a0c" stroke="#fff" stroke-width="0.4"/>
<circle cx="464.88" cy="63.08" r="2.4" fill="#8c3a0c" stroke="#fff" stroke-width="0.4"/>
<circle cx="454.44" cy="96.96" r="2.4" fill="#8c3a0c" stroke="#fff" stroke-width="0.4"/>
<circle cx="460.68" cy="103.16" r="2.4" fill="#8c3a0c" stroke="#fff" stroke-width="0.4"/>
<circle cx="470.21" cy="88.15" r="2.4" fill="#8c3a0c" stroke="#fff" stroke-width="0.4"/>
<circle cx="450.9" cy="68.88" r="2.4" fill="#8c3a0c" stroke="#fff" stroke-width="0.4"/>
<circle cx="447.35" cy="96.34" r="2.4" fill="#8c3a0c" stroke="#fff" stroke-width="0.4"/>
<circle cx="415.68" cy="111.55" r="2.4" fill="#8c3a0c" stroke="#fff" stroke-width="0.4"/>
<circle cx="415.59" cy="103.36" r="2.4" fill="#8c3a0c" stroke="#fff" stroke-width="0.4"/>
<circle cx="465.15" cy="68.21" r="2.4" fill="#8c3a0c" stroke="#fff" stroke-width="0.4"/>
<circle cx="453.09" cy="74.92" r="2.4" fill="#8c3a0c" stroke="#fff" stroke-width="0.4"/>
<circle cx="446.76" cy="76.27" r="2.4" fill="#8c3a0c" stroke="#fff" stroke-width="0.4"/>
<circle cx="453.97" cy="65.96" r="2.4" fill="#8c3a0c" stroke="#fff" stroke-width="0.4"/>
<circle cx="474.15" cy="91.01" r="2.4" fill="#8c3a0c" stroke="#fff" stroke-width="0.4"/>
<circle cx="439.89" cy="80.63" r="2.4" fill="#8c3a0c" stroke="#fff" stroke-width="0.4"/>
<circle cx="450.67" cy="95.91" r="2.4" fill="#8c3a0c" stroke="#fff" stroke-width="0.4"/>
<circle cx="460.06" cy="99.34" r="2.4" fill="#8c3a0c" stroke="#fff" stroke-width="0.4"/>
<circle cx="459.63" cy="74.76" r="2.4" fill="#8c3a0c" stroke="#fff" stroke-width="0.4"/>
<circle cx="442.18" cy="79.82" r="2.4" fill="#8c3a0c" stroke="#fff" stroke-width="0.4"/>
<circle cx="453.6" cy="105.66" r="2.4" fill="#8c3a0c" stroke="#fff" stroke-width="0.4"/>
<circle cx="409.18" cy="107.42" r="2.4" fill="#8c3a0c" stroke="#fff" stroke-width="0.4"/>
<circle cx="427.67" cy="108.75" r="2.4" fill="#8c3a0c" stroke="#fff" stroke-width="0.4"/>
<circle cx="420.41" cy="106.41" r="2.4" fill="#8c3a0c" stroke="#fff" stroke-width="0.4"/>
<circle cx="456.92" cy="65.42" r="2.4" fill="#8c3a0c" stroke="#fff" stroke-width="0.4"/>
<circle cx="453.52" cy="101.48" r="2.4" fill="#8c3a0c" stroke="#fff" stroke-width="0.4"/>
<circle cx="433.08" cy="94.41" r="2.4" fill="#8c3a0c" stroke="#fff" stroke-width="0.4"/>
<circle cx="437.82" cy="87.06" r="2.4" fill="#8c3a0c" stroke="#fff" stroke-width="0.4"/>
<circle cx="433.93" cy="109.11" r="2.4" fill="#8c3a0c" stroke="#fff" stroke-width="0.4"/>
<circle cx="442.39" cy="104.5" r="2.4" fill="#8c3a0c" stroke="#fff" stroke-width="0.4"/>
<circle cx="473.61" cy="67.57" r="2.4" fill="#8c3a0c" stroke="#fff" stroke-width="0.4"/>
<circle cx="449.57" cy="70.94" r="2.4" fill="#8c3a0c" stroke="#fff" stroke-width="0.4"/>
<circle cx="462.06" cy="101.51" r="2.4" fill="#8c3a0c" stroke="#fff" stroke-width="0.4"/>
<circle cx="448.78" cy="97.31" r="2.4" fill="#8c3a0c" stroke="#fff" stroke-width="0.4"/>
<circle cx="446.82" cy="87.88" r="2.4" fill="#8c3a0c" stroke="#fff" stroke-width="0.4"/>
<circle cx="462.41" cy="71.09" r="2.4" fill="#8c3a0c" stroke="#fff" stroke-width="0.4"/>
<circle cx="465.16" cy="101.27" r="2.4" fill="#8c3a0c" stroke="#fff" stroke-width="0.4"/>
<circle cx="439.31" cy="109.28" r="2.4" fill="#8c3a0c" stroke="#fff" stroke-width="0.4"/>
<circle cx="469.05" cy="83.44" r="2.4" fill="#8c3a0c" stroke="#fff" stroke-width="0.4"/>
<circle cx="434.51" cy="104.37" r="2.4" fill="#8c3a0c" stroke="#fff" stroke-width="0.4"/>
<circle cx="455.39" cy="77.95" r="2.4" fill="#8c3a0c" stroke="#fff" stroke-width="0.4"/>
<circle cx="457.06" cy="72.77" r="2.4" fill="#8c3a0c" stroke="#fff" stroke-width="0.4"/>
<circle cx="472.56" cy="77.79" r="2.4" fill="#8c3a0c" stroke="#fff" stroke-width="0.4"/>
<circle cx="457.78" cy="94.64" r="2.4" fill="#8c3a0c" stroke="#fff" stroke-width="0.4"/>
<circle cx="446.62" cy="102.48" r="2.4" fill="#8c3a0c" stroke="#fff" stroke-width="0.4"/>
<circle cx="475.29" cy="74.4" r="2.4" fill="#8c3a0c" stroke="#fff" stroke-width="0.4"/>
<circle cx="456.1" cy="88.43" r="2.4" fill="#8c3a0c" stroke="#fff" stroke-width="0.4"/>
<circle cx="448.01" cy="83.79" r="2.4" fill="#8c3a0c" stroke="#fff" stroke-width="0.4"/>
<circle cx="425.33" cy="94.74" r="2.4" fill="#8c3a0c" stroke="#fff" stroke-width="0.4"/>
<circle cx="450.91" cy="92.14" r="2.4" fill="#8c3a0c" stroke="#fff" stroke-width="0.4"/>
<circle cx="454.61" cy="70.9" r="2.4" fill="#8c3a0c" stroke="#fff" stroke-width="0.4"/>
<circle cx="474.82" cy="76.34" r="2.4" fill="#8c3a0c" stroke="#fff" stroke-width="0.4"/>
<circle cx="428.94" cy="97.38" r="2.4" fill="#8c3a0c" stroke="#fff" stroke-width="0.4"/>
<circle cx="455.68" cy="95.76" r="2.4" fill="#8c3a0c" stroke="#fff" stroke-width="0.4"/>
<circle cx="459.43" cy="87.37" r="2.4" fill="#8c3a0c" stroke="#fff" stroke-width="0.4"/>
<circle cx="461.05" cy="84.44" r="2.4" fill="#8c3a0c" stroke="#fff" stroke-width="0.4"/>
<circle cx="418.38" cy="105.65" r="2.4" fill="#8c3a0c" stroke="#fff" stroke-width="0.4"/>
<circle cx="455.13" cy="81.06" r="2.4" fill="#8c3a0c" stroke="#fff" stroke-width="0.4"/>
<circle cx="463.03" cy="104.13" r="2.4" fill="#8c3a0c" stroke="#fff" stroke-width="0.4"/>
<circle cx="472.35" cy="71.83" r="2.4" fill="#8c3a0c" stroke="#fff" stroke-width="0.4"/>
<circle cx="450.77" cy="73.07" r="2.4" fill="#8c3a0c" stroke="#fff" stroke-width="0.4"/>
<circle cx="462.46" cy="98.45" r="2.4" fill="#8c3a0c" stroke="#fff" stroke-width="0.4"/>
<circle cx="429.46" cy="99.48" r="2.4" fill="#8c3a0c" stroke="#fff" stroke-width="0.4"/>
<circle cx="450.14" cy="106.82" r="2.4" fill="#8c3a0c" stroke="#fff" stroke-width="0.4"/>
<circle cx="455.29" cy="82.93" r="2.4" fill="#8c3a0c" stroke="#fff" stroke-width="0.4"/>
<circle cx="449.05" cy="89.5" r="2.4" fill="#8c3a0c" stroke="#fff" stroke-width="0.4"/>
<circle cx="462.84" cy="86.14" r="2.4" fill="#8c3a0c" stroke="#fff" stroke-width="0.4"/>
<circle cx="467.91" cy="97.14" r="2.4" fill="#8c3a0c" stroke="#fff" stroke-width="0.4"/>
<circle cx="467.59" cy="68.78" r="2.4" fill="#8c3a0c" stroke="#fff" stroke-width="0.4"/>
<circle cx="426.57" cy="93.4" r="2.4" fill="#8c3a0c" stroke="#fff" stroke-width="0.4"/>
<circle cx="466.85" cy="100.39" r="2.4" fill="#8c3a0c" stroke="#fff" stroke-width="0.4"/>
<circle cx="445.45" cy="107.81" r="2.4" fill="#8c3a0c" stroke="#fff" stroke-width="0.4"/>
<circle cx="412.03" cy="112.33" r="2.4" fill="#8c3a0c" stroke="#fff" stroke-width="0.4"/>
<circle cx="427.05" cy="105" r="2.4" fill="#8c3a0c" stroke="#fff" stroke-width="0.4"/>
<circle cx="469.68" cy="71.84" r="2.4" fill="#8c3a0c" stroke="#fff" stroke-width="0.4"/>
<circle cx="422.26" cy="112.44" r="2.4" fill="#8c3a0c" stroke="#fff" stroke-width="0.4"/>
<circle cx="458.93" cy="62.59" r="2.4" fill="#8c3a0c" stroke="#fff" stroke-width="0.4"/>
<circle cx="466.55" cy="63.74" r="2.4" fill="#8c3a0c" stroke="#fff" stroke-width="0.4"/>
<circle cx="466.51" cy="66.52" r="2.4" fill="#8c3a0c" stroke="#fff" stroke-width="0.4"/>
<circle cx="435.45" cy="91.67" r="2.4" fill="#8c3a0c" stroke="#fff" stroke-width="0.4"/>
<circle cx="452.01" cy="104.62" r="2.4" fill="#8c3a0c" stroke="#fff" stroke-width="0.4"/>
<circle cx="442.07" cy="107.71" r="2.4" fill="#8c3a0c" stroke="#fff" stroke-width="0.4"/>
<circle cx="465.21" cy="76.05" r="2.4" fill="#8c3a0c" stroke="#fff" stroke-width="0.4"/>
<circle cx="458.58" cy="81.01" r="2.4" fill="#8c3a0c" stroke="#fff" stroke-width="0.4"/>
<circle cx="461.7" cy="82.23" r="2.4" fill="#8c3a0c" stroke="#fff" stroke-width="0.4"/>
<circle cx="438.34" cy="82.03" r="2.4" fill="#8c3a0c" stroke="#fff" stroke-width="0.4"/>
<circle cx="444.54" cy="104.16" r="2.4" fill="#8c3a0c" stroke="#fff" stroke-width="0.4"/>
<circle cx="425.29" cy="98.17" r="2.4" fill="#8c3a0c" stroke="#fff" stroke-width="0.4"/>
<circle cx="447.25" cy="72.14" r="2.4" fill="#8c3a0c" stroke="#fff" stroke-width="0.4"/>
<circle cx="437.29" cy="91.97" r="2.4" fill="#8c3a0c" stroke="#fff" stroke-width="0.4"/>
<circle cx="460.54" cy="90.03" r="2.4" fill="#8c3a0c" stroke="#fff" stroke-width="0.4"/>
<circle cx="449.66" cy="87.91" r="2.4" fill="#8c3a0c" stroke="#fff" stroke-width="0.4"/>
<circle cx="414.72" cy="109.73" r="2.4" fill="#8c3a0c" stroke="#fff" stroke-width="0.4"/>
<circle cx="443.87" cy="77.48" r="2.4" fill="#8c3a0c" stroke="#fff" stroke-width="0.4"/>
<circle cx="423.41" cy="106.5" r="2.4" fill="#8c3a0c" stroke="#fff" stroke-width="0.4"/>
<circle cx="440.31" cy="103.01" r="2.4" fill="#8c3a0c" stroke="#fff" stroke-width="0.4"/>
<circle cx="430.93" cy="109.19" r="2.4" fill="#8c3a0c" stroke="#fff" stroke-width="0.4"/>
<circle cx="473.45" cy="82.96" r="2.4" fill="#8c3a0c" stroke="#fff" stroke-width="0.4"/>
<circle cx="426.11" cy="109.64" r="2.4" fill="#8c3a0c" stroke="#fff" stroke-width="0.4"/>
<circle cx="471.69" cy="85.71" r="2.4" fill="#8c3a0c" stroke="#fff" stroke-width="0.4"/>
<circle cx="446.79" cy="74.19" r="2.4" fill="#8c3a0c" stroke="#fff" stroke-width="0.4"/>
<circle cx="439.18" cy="91.17" r="2.4" fill="#8c3a0c" stroke="#fff" stroke-width="0.4"/>
<circle cx="466.22" cy="83.58" r="2.4" fill="#8c3a0c" stroke="#fff" stroke-width="0.4"/>
<circle cx="422.38" cy="101.95" r="2.4" fill="#8c3a0c" stroke="#fff" stroke-width="0.4"/>
<circle cx="436.19" cy="87.71" r="2.4" fill="#8c3a0c" stroke="#fff" stroke-width="0.4"/>
<circle cx="473.32" cy="73.62" r="2.4" fill="#8c3a0c" stroke="#fff" stroke-width="0.4"/>
<circle cx="431.3" cy="88.76" r="2.4" fill="#8c3a0c" stroke="#fff" stroke-width="0.4"/>
<circle cx="440.73" cy="93.27" r="2.4" fill="#8c3a0c" stroke="#fff" stroke-width="0.4"/>
<circle cx="472.28" cy="93.44" r="2.4" fill="#8c3a0c" stroke="#fff" stroke-width="0.4"/>
<circle cx="474.13" cy="64.71" r="2.4" fill="#8c3a0c" stroke="#fff" stroke-width="0.4"/>
<circle cx="460.69" cy="93.62" r="2.4" fill="#8c3a0c" stroke="#fff" stroke-width="0.4"/>
<circle cx="447.12" cy="98.93" r="2.4" fill="#8c3a0c" stroke="#fff" stroke-width="0.4"/>
<circle cx="435.21" cy="93.73" r="2.4" fill="#8c3a0c" stroke="#fff" stroke-width="0.4"/>
<circle cx="454.69" cy="91.86" r="2.4" fill="#8c3a0c" stroke="#fff" stroke-width="0.4"/>
<circle cx="429.09" cy="112.1" r="2.4" fill="#8c3a0c" stroke="#fff" stroke-width="0.4"/>
<circle cx="425.02" cy="101.52" r="2.4" fill="#8c3a0c" stroke="#fff" stroke-width="0.4"/>
<circle cx="438.86" cy="84.05" r="2.4" fill="#8c3a0c" stroke="#fff" stroke-width="0.4"/>
<circle cx="452.9" cy="94.78" r="2.4" fill="#8c3a0c" stroke="#fff" stroke-width="0.4"/>
<circle cx="431.68" cy="99.74" r="2.4" fill="#8c3a0c" stroke="#fff" stroke-width="0.4"/>
<circle cx="417.52" cy="111.03" r="2.4" fill="#8c3a0c" stroke="#fff" stroke-width="0.4"/>
<circle cx="449.01" cy="105.43" r="2.4" fill="#8c3a0c" stroke="#fff" stroke-width="0.4"/>
<circle cx="469.1" cy="99.47" r="2.4" fill="#8c3a0c" stroke="#fff" stroke-width="0.4"/>
<circle cx="444.02" cy="87.32" r="2.4" fill="#8c3a0c" stroke="#fff" stroke-width="0.4"/>
<circle cx="459.12" cy="83" r="2.4" fill="#8c3a0c" stroke="#fff" stroke-width="0.4"/>
<circle cx="437.49" cy="99.93" r="2.4" fill="#8c3a0c" stroke="#fff" stroke-width="0.4"/>
<circle cx="446.42" cy="79.06" r="2.4" fill="#8c3a0c" stroke="#fff" stroke-width="0.4"/>
<circle cx="433.88" cy="87.2" r="2.4" fill="#8c3a0c" stroke="#fff" stroke-width="0.4"/>
<circle cx="412.47" cy="105.56" r="2.4" fill="#8c3a0c" stroke="#fff" stroke-width="0.4"/>
<circle cx="466.25" cy="91.09" r="2.4" fill="#8c3a0c" stroke="#fff" stroke-width="0.4"/>
<circle cx="433.84" cy="96.94" r="2.4" fill="#8c3a0c" stroke="#fff" stroke-width="0.4"/>
<circle cx="429.6" cy="91.38" r="2.4" fill="#8c3a0c" stroke="#fff" stroke-width="0.4"/>
<circle cx="449.24" cy="103.33" r="2.4" fill="#8c3a0c" stroke="#fff" stroke-width="0.4"/>
<circle cx="427.09" cy="100.59" r="2.4" fill="#8c3a0c" stroke="#fff" stroke-width="0.4"/>
<circle cx="442.66" cy="86.07" r="2.4" fill="#8c3a0c" stroke="#fff" stroke-width="0.4"/>
<circle cx="442.4" cy="102.22" r="2.4" fill="#8c3a0c" stroke="#fff" stroke-width="0.4"/>
<circle cx="452.64" cy="83.85" r="2.4" fill="#8c3a0c" stroke="#fff" stroke-width="0.4"/>
<circle cx="431.75" cy="111.47" r="2.4" fill="#8c3a0c" stroke="#fff" stroke-width="0.4"/>
<circle cx="407.21" cy="112.29" r="2.4" fill="#8c3a0c" stroke="#fff" stroke-width="0.4"/>
<circle cx="457.4" cy="100.69" r="2.4" fill="#8c3a0c" stroke="#fff" stroke-width="0.4"/>
<circle cx="459.59" cy="85.67" r="2.4" fill="#8c3a0c" stroke="#fff" stroke-width="0.4"/>
<circle cx="459.64" cy="91.89" r="2.4" fill="#8c3a0c" stroke="#fff" stroke-width="0.4"/>
<circle cx="458.34" cy="106.34" r="2.4" fill="#8c3a0c" stroke="#fff" stroke-width="0.4"/>
<circle cx="449.44" cy="77.23" r="2.4" fill="#8c3a0c" stroke="#fff" stroke-width="0.4"/>
<circle cx="465.85" cy="60.3" r="2.4" fill="#8c3a0c" stroke="#fff" stroke-width="0.4"/>
<circle cx="470" cy="97.79" r="2.4" fill="#8c3a0c" stroke="#fff" stroke-width="0.4"/>
<circle cx="457.2" cy="86.99" r="2.4" fill="#8c3a0c" stroke="#fff" stroke-width="0.4"/>
<circle cx="437.91" cy="102.44" r="2.4" fill="#8c3a0c" stroke="#fff" stroke-width="0.4"/>
<circle cx="472.93" cy="69.47" r="2.4" fill="#8c3a0c" stroke="#fff" stroke-width="0.4"/>
<circle cx="448.57" cy="93.39" r="2.4" fill="#8c3a0c" stroke="#fff" stroke-width="0.4"/>
<circle cx="464.25" cy="98.67" r="2.4" fill="#8c3a0c" stroke="#fff" stroke-width="0.4"/>
<circle cx="462.23" cy="89.34" r="2.4" fill="#8c3a0c" stroke="#fff" stroke-width="0.4"/>
<circle cx="425.07" cy="105.82" r="2.4" fill="#8c3a0c" stroke="#fff" stroke-width="0.4"/>
<circle cx="439.48" cy="95.87" r="2.4" fill="#8c3a0c" stroke="#fff" stroke-width="0.4"/>
<circle cx="422.07" cy="98.33" r="2.4" fill="#8c3a0c" stroke="#fff" stroke-width="0.4"/>
<circle cx="475.75" cy="85.25" r="2.4" fill="#8c3a0c" stroke="#fff" stroke-width="0.4"/>
<circle cx="469.2" cy="67.75" r="2.4" fill="#8c3a0c" stroke="#fff" stroke-width="0.4"/>
<circle cx="445.32" cy="105.7" r="2.4" fill="#8c3a0c" stroke="#fff" stroke-width="0.4"/>
<circle cx="464.29" cy="73.16" r="2.4" fill="#8c3a0c" stroke="#fff" stroke-width="0.4"/>
<circle cx="476.69" cy="76.34" r="2.4" fill="#8c3a0c" stroke="#fff" stroke-width="0.4"/>
<circle cx="434.39" cy="100.5" r="2.4" fill="#8c3a0c" stroke="#fff" stroke-width="0.4"/>
<circle cx="458.72" cy="66.58" r="2.4" fill="#8c3a0c" stroke="#fff" stroke-width="0.4"/>
<circle cx="474.52" cy="78.23" r="2.4" fill="#8c3a0c" stroke="#fff" stroke-width="0.4"/>
<circle cx="460.71" cy="70.88" r="2.4" fill="#8c3a0c" stroke="#fff" stroke-width="0.4"/>
<circle cx="452.19" cy="80.61" r="2.4" fill="#8c3a0c" stroke="#fff" stroke-width="0.4"/>
<circle cx="465.94" cy="87.23" r="2.4" fill="#8c3a0c" stroke="#fff" stroke-width="0.4"/>
<circle cx="449.5" cy="81.61" r="2.4" fill="#8c3a0c" stroke="#fff" stroke-width="0.4"/>
<circle cx="455.78" cy="106.72" r="2.4" fill="#8c3a0c" stroke="#fff" stroke-width="0.4"/>
<circle cx="436.38" cy="109.53" r="2.4" fill="#8c3a0c" stroke="#fff" stroke-width="0.4"/>
<circle cx="431.35" cy="104.48" r="2.4" fill="#8c3a0c" stroke="#fff" stroke-width="0.4"/>
<circle cx="444.45" cy="94.85" r="2.4" fill="#8c3a0c" stroke="#fff" stroke-width="0.4"/>
<circle cx="445.11" cy="98.3" r="2.4" fill="#8c3a0c" stroke="#fff" stroke-width="0.4"/>
<circle cx="472.87" cy="87.67" r="2.4" fill="#8c3a0c" stroke="#fff" stroke-width="0.4"/>
<circle cx="419.27" cy="101.88" r="2.4" fill="#8c3a0c" stroke="#fff" stroke-width="0.4"/>
<circle cx="453.68" cy="82.11" r="2.4" fill="#8c3a0c" stroke="#fff" stroke-width="0.4"/>
<circle cx="460.14" cy="64.59" r="2.4" fill="#8c3a0c" stroke="#fff" stroke-width="0.4"/>
<circle cx="454.99" cy="102.81" r="2.4" fill="#8c3a0c" stroke="#fff" stroke-width="0.4"/>
<circle cx="436.9" cy="89.8" r="2.4" fill="#8c3a0c" stroke="#fff" stroke-width="0.4"/>
<circle cx="466.39" cy="72.77" r="2.4" fill="#8c3a0c" stroke="#fff" stroke-width="0.4"/>
<circle cx="451.1" cy="76.84" r="2.4" fill="#8c3a0c" stroke="#fff" stroke-width="0.4"/>
<circle cx="418.19" cy="107.94" r="2.4" fill="#8c3a0c" stroke="#fff" stroke-width="0.4"/>
<circle cx="464.14" cy="59.28" r="2.4" fill="#8c3a0c" stroke="#fff" stroke-width="0.4"/>
<circle cx="458.95" cy="77.65" r="2.4" fill="#8c3a0c" stroke="#fff" stroke-width="0.4"/>
<circle cx="452.36" cy="67.19" r="2.4" fill="#8c3a0c" stroke="#fff" stroke-width="0.4"/>
<circle cx="452.26" cy="99.89" r="2.4" fill="#8c3a0c" stroke="#fff" stroke-width="0.4"/>
<circle cx="474.96" cy="66.45" r="2.4" fill="#8c3a0c" stroke="#fff" stroke-width="0.4"/>
<circle cx="416.22" cy="108.44" r="2.4" fill="#8c3a0c" stroke="#fff" stroke-width="0.4"/>
<circle cx="453.64" cy="78.57" r="2.4" fill="#8c3a0c" stroke="#fff" stroke-width="0.4"/>
<circle cx="470.86" cy="90.87" r="2.4" fill="#8c3a0c" stroke="#fff" stroke-width="0.4"/>
<circle cx="410.96" cy="106.54" r="2.4" fill="#8c3a0c" stroke="#fff" stroke-width="0.4"/>
<circle cx="465.02" cy="103.4" r="2.4" fill="#8c3a0c" stroke="#fff" stroke-width="0.4"/>
<circle cx="413.65" cy="103.66" r="2.4" fill="#8c3a0c" stroke="#fff" stroke-width="0.4"/>
<circle cx="435.57" cy="98.73" r="2.4" fill="#8c3a0c" stroke="#fff" stroke-width="0.4"/>
<circle cx="470.98" cy="66.85" r="2.4" fill="#8c3a0c" stroke="#fff" stroke-width="0.4"/>
<circle cx="471.98" cy="89.18" r="2.4" fill="#8c3a0c" stroke="#fff" stroke-width="0.4"/>
<circle cx="419.36" cy="112.17" r="2.4" fill="#8c3a0c" stroke="#fff" stroke-width="0.4"/>
<circle cx="475.49" cy="68.79" r="2.4" fill="#8c3a0c" stroke="#fff" stroke-width="0.4"/>
<circle cx="460.05" cy="105.79" r="2.4" fill="#8c3a0c" stroke="#fff" stroke-width="0.4"/>
<circle cx="420.01" cy="104.01" r="2.4" fill="#8c3a0c" stroke="#fff" stroke-width="0.4"/>
<circle cx="423.34" cy="68.71" r="2.4" fill="#8c3a0c" stroke="#fff" stroke-width="0.4"/>
<circle cx="381.67" cy="103.44" r="2.4" fill="#8c3a0c" stroke="#fff" stroke-width="0.4"/>
<circle cx="387.47" cy="97.42" r="2.4" fill="#8c3a0c" stroke="#fff" stroke-width="0.4"/>
<circle cx="390.58" cy="105.51" r="2.4" fill="#8c3a0c" stroke="#fff" stroke-width="0.4"/>
<circle cx="395.77" cy="107.17" r="2.4" fill="#8c3a0c" stroke="#fff" stroke-width="0.4"/>
<circle cx="386.02" cy="110.9" r="2.4" fill="#8c3a0c" stroke="#fff" stroke-width="0.4"/>
<circle cx="459.12" cy="40.25" r="2.4" fill="#8c3a0c" stroke="#fff" stroke-width="0.4"/>
<circle cx="464.96" cy="46.82" r="2.4" fill="#8c3a0c" stroke="#fff" stroke-width="0.4"/>
<circle cx="455.47" cy="52.22" r="2.4" fill="#8c3a0c" stroke="#fff" stroke-width="0.4"/>
<circle cx="460.58" cy="54.41" r="2.4" fill="#8c3a0c" stroke="#fff" stroke-width="0.4"/>
<circle cx="453.1" cy="43.19" r="2.4" fill="#8c3a0c" stroke="#fff" stroke-width="0.4"/>
<circle cx="463.23" cy="44.78" r="2.4" fill="#8c3a0c" stroke="#fff" stroke-width="0.4"/>
<circle cx="468.74" cy="40.34" r="2.4" fill="#8c3a0c" stroke="#fff" stroke-width="0.4"/>
<circle cx="469.74" cy="46.4" r="2.4" fill="#8c3a0c" stroke="#fff" stroke-width="0.4"/>
<circle cx="457.39" cy="38.71" r="2.4" fill="#8c3a0c" stroke="#fff" stroke-width="0.4"/>
<circle cx="483.14" cy="70.57" r="2.4" fill="#fdb913" stroke="#fff" stroke-width="0.4"/>
<circle cx="445.06" cy="74.06" r="2.4" fill="#fdb913" stroke="#fff" stroke-width="0.4"/>
<circle cx="431.46" cy="70.59" r="2.4" fill="#fdb913" stroke="#fff" stroke-width="0.4"/>
<circle cx="423.25" cy="87.2" r="2.4" fill="#fdb913" stroke="#fff" stroke-width="0.4"/>
<circle cx="472.27" cy="62.64" r="2.4" fill="#fdb913" stroke="#fff" stroke-width="0.4"/>
<circle cx="413.42" cy="79.89" r="2.4" fill="#fdb913" stroke="#fff" stroke-width="0.4"/>
<circle cx="479.99" cy="69.6" r="2.4" fill="#fdb913" stroke="#fff" stroke-width="0.4"/>
<circle cx="431.33" cy="87.01" r="2.4" fill="#fdb913" stroke="#fff" stroke-width="0.4"/>
<circle cx="459.82" cy="70.13" r="2.4" fill="#fdb913" stroke="#fff" stroke-width="0.4"/>
<circle cx="409.67" cy="78.8" r="2.4" fill="#fdb913" stroke="#fff" stroke-width="0.4"/>
<circle cx="477.16" cy="79.91" r="2.4" fill="#fdb913" stroke="#fff" stroke-width="0.4"/>
<circle cx="445.11" cy="62.32" r="2.4" fill="#fdb913" stroke="#fff" stroke-width="0.4"/>
<circle cx="421.96" cy="76.43" r="2.4" fill="#fdb913" stroke="#fff" stroke-width="0.4"/>
<circle cx="484.79" cy="65.21" r="2.4" fill="#fdb913" stroke="#fff" stroke-width="0.4"/>
<circle cx="414.48" cy="91.48" r="2.4" fill="#fdb913" stroke="#fff" stroke-width="0.4"/>
<circle cx="484.39" cy="63.2" r="2.4" fill="#fdb913" stroke="#fff" stroke-width="0.4"/>
<circle cx="446.33" cy="63.77" r="2.4" fill="#fdb913" stroke="#fff" stroke-width="0.4"/>
<circle cx="415" cy="95.11" r="2.4" fill="#fdb913" stroke="#fff" stroke-width="0.4"/>
<circle cx="439.45" cy="81.59" r="2.4" fill="#fdb913" stroke="#fff" stroke-width="0.4"/>
<circle cx="403.04" cy="91.46" r="2.4" fill="#fdb913" stroke="#fff" stroke-width="0.4"/>
<circle cx="441.39" cy="80.79" r="2.4" fill="#fdb913" stroke="#fff" stroke-width="0.4"/>
<circle cx="488.29" cy="61.03" r="2.4" fill="#fdb913" stroke="#fff" stroke-width="0.4"/>
<circle cx="423.78" cy="82.58" r="2.4" fill="#fdb913" stroke="#fff" stroke-width="0.4"/>
<circle cx="456.93" cy="67.11" r="2.4" fill="#fdb913" stroke="#fff" stroke-width="0.4"/>
<circle cx="430.89" cy="77.92" r="2.4" fill="#fdb913" stroke="#fff" stroke-width="0.4"/>
<circle cx="483.58" cy="52.78" r="2.4" fill="#fdb913" stroke="#fff" stroke-width="0.4"/>
<circle cx="479.69" cy="81.2" r="2.4" fill="#fdb913" stroke="#fff" stroke-width="0.4"/>
<circle cx="482.25" cy="71.86" r="2.4" fill="#fdb913" stroke="#fff" stroke-width="0.4"/>
<circle cx="413.91" cy="86.34" r="2.4" fill="#fdb913" stroke="#fff" stroke-width="0.4"/>
<circle cx="424.46" cy="79" r="2.4" fill="#fdb913" stroke="#fff" stroke-width="0.4"/>
<circle cx="433.88" cy="73.22" r="2.4" fill="#fdb913" stroke="#fff" stroke-width="0.4"/>
<circle cx="399.16" cy="102.69" r="2.4" fill="#fdb913" stroke="#fff" stroke-width="0.4"/>
<circle cx="443.3" cy="66.05" r="2.4" fill="#fdb913" stroke="#fff" stroke-width="0.4"/>
<circle cx="445.97" cy="83.12" r="2.4" fill="#fdb913" stroke="#fff" stroke-width="0.4"/>
<circle cx="408.02" cy="89.43" r="2.4" fill="#fdb913" stroke="#fff" stroke-width="0.4"/>
<circle cx="392.19" cy="87.24" r="2.4" fill="#fdb913" stroke="#fff" stroke-width="0.4"/>
<circle cx="470.71" cy="58.73" r="2.4" fill="#fdb913" stroke="#fff" stroke-width="0.4"/>
<circle cx="438.35" cy="85.24" r="2.4" fill="#fdb913" stroke="#fff" stroke-width="0.4"/>
<circle cx="398.76" cy="81.49" r="2.4" fill="#fdb913" stroke="#fff" stroke-width="0.4"/>
<circle cx="482.16" cy="54.9" r="2.4" fill="#fdb913" stroke="#fff" stroke-width="0.4"/>
<circle cx="438.74" cy="74.64" r="2.4" fill="#fdb913" stroke="#fff" stroke-width="0.4"/>
<circle cx="451.28" cy="68.92" r="2.4" fill="#fdb913" stroke="#fff" stroke-width="0.4"/>
<circle cx="434.84" cy="78.85" r="2.4" fill="#fdb913" stroke="#fff" stroke-width="0.4"/>
<circle cx="427.42" cy="77.14" r="2.4" fill="#fdb913" stroke="#fff" stroke-width="0.4"/>
<circle cx="448.91" cy="56.94" r="2.4" fill="#fdb913" stroke="#fff" stroke-width="0.4"/>
<circle cx="456.97" cy="63.85" r="2.4" fill="#fdb913" stroke="#fff" stroke-width="0.4"/>
<circle cx="438.71" cy="66.89" r="2.4" fill="#fdb913" stroke="#fff" stroke-width="0.4"/>
<circle cx="468.32" cy="72.39" r="2.4" fill="#fdb913" stroke="#fff" stroke-width="0.4"/>
<circle cx="400.45" cy="99.8" r="2.4" fill="#fdb913" stroke="#fff" stroke-width="0.4"/>
<circle cx="460.91" cy="57.3" r="2.4" fill="#fdb913" stroke="#fff" stroke-width="0.4"/>
<circle cx="451.6" cy="74.89" r="2.4" fill="#fdb913" stroke="#fff" stroke-width="0.4"/>
<circle cx="403.96" cy="103.47" r="2.4" fill="#fdb913" stroke="#fff" stroke-width="0.4"/>
<circle cx="460.29" cy="53.13" r="2.4" fill="#fdb913" stroke="#fff" stroke-width="0.4"/>
<circle cx="480.61" cy="86.12" r="2.4" fill="#fdb913" stroke="#fff" stroke-width="0.4"/>
<circle cx="408.98" cy="95.42" r="2.4" fill="#fdb913" stroke="#fff" stroke-width="0.4"/>
<circle cx="485.32" cy="82.11" r="2.4" fill="#fdb913" stroke="#fff" stroke-width="0.4"/>
<circle cx="443.31" cy="74.68" r="2.4" fill="#fdb913" stroke="#fff" stroke-width="0.4"/>
<circle cx="475.84" cy="51.51" r="2.4" fill="#fdb913" stroke="#fff" stroke-width="0.4"/>
<circle cx="411.52" cy="79.62" r="2.4" fill="#fdb913" stroke="#fff" stroke-width="0.4"/>
<circle cx="394.5" cy="87.45" r="2.4" fill="#fdb913" stroke="#fff" stroke-width="0.4"/>
<circle cx="402.02" cy="88.96" r="2.4" fill="#fdb913" stroke="#fff" stroke-width="0.4"/>
<circle cx="477.57" cy="53.42" r="2.4" fill="#fdb913" stroke="#fff" stroke-width="0.4"/>
<circle cx="440.33" cy="77.18" r="2.4" fill="#fdb913" stroke="#fff" stroke-width="0.4"/>
<circle cx="461.98" cy="73.26" r="2.4" fill="#fdb913" stroke="#fff" stroke-width="0.4"/>
<circle cx="474.17" cy="79.61" r="2.4" fill="#fdb913" stroke="#fff" stroke-width="0.4"/>
<circle cx="395.88" cy="91.61" r="2.4" fill="#fdb913" stroke="#fff" stroke-width="0.4"/>
<circle cx="433.08" cy="76.38" r="2.4" fill="#fdb913" stroke="#fff" stroke-width="0.4"/>
<circle cx="434.48" cy="91.21" r="2.4" fill="#fdb913" stroke="#fff" stroke-width="0.4"/>
<circle cx="480.38" cy="75.65" r="2.4" fill="#fdb913" stroke="#fff" stroke-width="0.4"/>
<circle cx="407.49" cy="99.01" r="2.4" fill="#fdb913" stroke="#fff" stroke-width="0.4"/>
<circle cx="473.04" cy="61.2" r="2.4" fill="#fdb913" stroke="#fff" stroke-width="0.4"/>
<circle cx="426.29" cy="94.18" r="2.4" fill="#fdb913" stroke="#fff" stroke-width="0.4"/>
<circle cx="473.78" cy="72.37" r="2.4" fill="#fdb913" stroke="#fff" stroke-width="0.4"/>
<circle cx="432.65" cy="88.97" r="2.4" fill="#fdb913" stroke="#fff" stroke-width="0.4"/>
<circle cx="410.44" cy="84.24" r="2.4" fill="#fdb913" stroke="#fff" stroke-width="0.4"/>
<circle cx="462.91" cy="62.46" r="2.4" fill="#fdb913" stroke="#fff" stroke-width="0.4"/>
<circle cx="448.4" cy="79.47" r="2.4" fill="#fdb913" stroke="#fff" stroke-width="0.4"/>
<circle cx="455.8" cy="58.99" r="2.4" fill="#fdb913" stroke="#fff" stroke-width="0.4"/>
<circle cx="476.61" cy="73.19" r="2.4" fill="#fdb913" stroke="#fff" stroke-width="0.4"/>
<circle cx="396.85" cy="87.82" r="2.4" fill="#fdb913" stroke="#fff" stroke-width="0.4"/>
<circle cx="440.46" cy="84.93" r="2.4" fill="#fdb913" stroke="#fff" stroke-width="0.4"/>
<circle cx="403.22" cy="86.36" r="2.4" fill="#fdb913" stroke="#fff" stroke-width="0.4"/>
<circle cx="453.61" cy="54.03" r="2.4" fill="#fdb913" stroke="#fff" stroke-width="0.4"/>
<circle cx="466.37" cy="55.01" r="2.4" fill="#fdb913" stroke="#fff" stroke-width="0.4"/>
<circle cx="469.04" cy="66.7" r="2.4" fill="#fdb913" stroke="#fff" stroke-width="0.4"/>
<circle cx="454.92" cy="80.32" r="2.4" fill="#fdb913" stroke="#fff" stroke-width="0.4"/>
<circle cx="440.72" cy="83.35" r="2.4" fill="#fdb913" stroke="#fff" stroke-width="0.4"/>
<circle cx="435.82" cy="71.2" r="2.4" fill="#fdb913" stroke="#fff" stroke-width="0.4"/>
<circle cx="470.87" cy="56.17" r="2.4" fill="#fdb913" stroke="#fff" stroke-width="0.4"/>
<circle cx="425.31" cy="83.66" r="2.4" fill="#fdb913" stroke="#fff" stroke-width="0.4"/>
<circle cx="429.95" cy="71.5" r="2.4" fill="#fdb913" stroke="#fff" stroke-width="0.4"/>
<circle cx="440.69" cy="75.24" r="2.4" fill="#fdb913" stroke="#fff" stroke-width="0.4"/>
<circle cx="394.83" cy="93.21" r="2.4" fill="#fdb913" stroke="#fff" stroke-width="0.4"/>
<circle cx="426.29" cy="80.19" r="2.4" fill="#fdb913" stroke="#fff" stroke-width="0.4"/>
<circle cx="466.47" cy="72.44" r="2.4" fill="#fdb913" stroke="#fff" stroke-width="0.4"/>
<circle cx="445.2" cy="68.05" r="2.4" fill="#fdb913" stroke="#fff" stroke-width="0.4"/>
<circle cx="475.91" cy="67.37" r="2.4" fill="#fdb913" stroke="#fff" stroke-width="0.4"/>
<circle cx="481.78" cy="51.2" r="2.4" fill="#fdb913" stroke="#fff" stroke-width="0.4"/>
<circle cx="487.55" cy="69.29" r="2.4" fill="#fdb913" stroke="#fff" stroke-width="0.4"/>
<circle cx="395.25" cy="83.75" r="2.4" fill="#fdb913" stroke="#fff" stroke-width="0.4"/>
<circle cx="437.96" cy="82.51" r="2.4" fill="#fdb913" stroke="#fff" stroke-width="0.4"/>
<circle cx="466.28" cy="63.79" r="2.4" fill="#fdb913" stroke="#fff" stroke-width="0.4"/>
<circle cx="474.74" cy="58.96" r="2.4" fill="#fdb913" stroke="#fff" stroke-width="0.4"/>
<circle cx="447.9" cy="64.05" r="2.4" fill="#fdb913" stroke="#fff" stroke-width="0.4"/>
<circle cx="442.47" cy="86.95" r="2.4" fill="#fdb913" stroke="#fff" stroke-width="0.4"/>
<circle cx="432.18" cy="92.08" r="2.4" fill="#fdb913" stroke="#fff" stroke-width="0.4"/>
<circle cx="451.8" cy="64.27" r="2.4" fill="#fdb913" stroke="#fff" stroke-width="0.4"/>
<circle cx="471.16" cy="70.67" r="2.4" fill="#fdb913" stroke="#fff" stroke-width="0.4"/>
<circle cx="418.8" cy="93.95" r="2.4" fill="#fdb913" stroke="#fff" stroke-width="0.4"/>
<circle cx="479.31" cy="51.7" r="2.4" fill="#fdb913" stroke="#fff" stroke-width="0.4"/>
<circle cx="451.35" cy="58.6" r="2.4" fill="#fdb913" stroke="#fff" stroke-width="0.4"/>
<circle cx="445.6" cy="65.72" r="2.4" fill="#fdb913" stroke="#fff" stroke-width="0.4"/>
<circle cx="488.02" cy="76.13" r="2.4" fill="#fdb913" stroke="#fff" stroke-width="0.4"/>
<circle cx="475.56" cy="82.67" r="2.4" fill="#fdb913" stroke="#fff" stroke-width="0.4"/>
<circle cx="438.08" cy="79.69" r="2.4" fill="#fdb913" stroke="#fff" stroke-width="0.4"/>
<circle cx="423.46" cy="97.78" r="2.4" fill="#fdb913" stroke="#fff" stroke-width="0.4"/>
<circle cx="404.56" cy="105.4" r="2.4" fill="#fdb913" stroke="#fff" stroke-width="0.4"/>
<circle cx="425.42" cy="74.63" r="2.4" fill="#fdb913" stroke="#fff" stroke-width="0.4"/>
<circle cx="451.97" cy="67.42" r="2.4" fill="#fdb913" stroke="#fff" stroke-width="0.4"/>
<circle cx="477.65" cy="55.89" r="2.4" fill="#fdb913" stroke="#fff" stroke-width="0.4"/>
<circle cx="410.39" cy="81.81" r="2.4" fill="#fdb913" stroke="#fff" stroke-width="0.4"/>
<circle cx="398.08" cy="91.75" r="2.4" fill="#fdb913" stroke="#fff" stroke-width="0.4"/>
<circle cx="469.61" cy="61.79" r="2.4" fill="#fdb913" stroke="#fff" stroke-width="0.4"/>
<circle cx="397.9" cy="84.31" r="2.4" fill="#fdb913" stroke="#fff" stroke-width="0.4"/>
<circle cx="478.55" cy="59.99" r="2.4" fill="#fdb913" stroke="#fff" stroke-width="0.4"/>
<circle cx="481.4" cy="65.29" r="2.4" fill="#fdb913" stroke="#fff" stroke-width="0.4"/>
<circle cx="466.55" cy="60.78" r="2.4" fill="#fdb913" stroke="#fff" stroke-width="0.4"/>
<circle cx="400.16" cy="95.72" r="2.4" fill="#fdb913" stroke="#fff" stroke-width="0.4"/>
<circle cx="437.47" cy="77.76" r="2.4" fill="#fdb913" stroke="#fff" stroke-width="0.4"/>
<circle cx="480.14" cy="83.28" r="2.4" fill="#fdb913" stroke="#fff" stroke-width="0.4"/>
<circle cx="464.98" cy="62.37" r="2.4" fill="#fdb913" stroke="#fff" stroke-width="0.4"/>
<circle cx="429.78" cy="75.98" r="2.4" fill="#fdb913" stroke="#fff" stroke-width="0.4"/>
<circle cx="400.5" cy="97.48" r="2.4" fill="#fdb913" stroke="#fff" stroke-width="0.4"/>
<circle cx="486.15" cy="70.24" r="2.4" fill="#fdb913" stroke="#fff" stroke-width="0.4"/>
<circle cx="424.7" cy="91.65" r="2.4" fill="#fdb913" stroke="#fff" stroke-width="0.4"/>
<circle cx="447.5" cy="83.15" r="2.4" fill="#fdb913" stroke="#fff" stroke-width="0.4"/>
<circle cx="442.92" cy="80.79" r="2.4" fill="#fdb913" stroke="#fff" stroke-width="0.4"/>
<circle cx="436.05" cy="68.79" r="2.4" fill="#fdb913" stroke="#fff" stroke-width="0.4"/>
<circle cx="454.96" cy="52.47" r="2.4" fill="#fdb913" stroke="#fff" stroke-width="0.4"/>
<circle cx="462.9" cy="55.69" r="2.4" fill="#fdb913" stroke="#fff" stroke-width="0.4"/>
<circle cx="412.89" cy="93.26" r="2.4" fill="#fdb913" stroke="#fff" stroke-width="0.4"/>
<circle cx="484.33" cy="77.67" r="2.4" fill="#fdb913" stroke="#fff" stroke-width="0.4"/>
<circle cx="434.85" cy="83.02" r="2.4" fill="#fdb913" stroke="#fff" stroke-width="0.4"/>
<circle cx="445.2" cy="76.17" r="2.4" fill="#fdb913" stroke="#fff" stroke-width="0.4"/>
<circle cx="468.78" cy="64.08" r="2.4" fill="#fdb913" stroke="#fff" stroke-width="0.4"/>
<circle cx="434.85" cy="87.84" r="2.4" fill="#fdb913" stroke="#fff" stroke-width="0.4"/>
<circle cx="479.74" cy="64.25" r="2.4" fill="#fdb913" stroke="#fff" stroke-width="0.4"/>
<circle cx="418.38" cy="78.69" r="2.4" fill="#fdb913" stroke="#fff" stroke-width="0.4"/>
<circle cx="440.16" cy="69.66" r="2.4" fill="#fdb913" stroke="#fff" stroke-width="0.4"/>
<circle cx="403.62" cy="80.76" r="2.4" fill="#fdb913" stroke="#fff" stroke-width="0.4"/>
<circle cx="475.2" cy="71.38" r="2.4" fill="#fdb913" stroke="#fff" stroke-width="0.4"/>
<circle cx="417.1" cy="96.41" r="2.4" fill="#fdb913" stroke="#fff" stroke-width="0.4"/>
<circle cx="407.5" cy="81.55" r="2.4" fill="#fdb913" stroke="#fff" stroke-width="0.4"/>
<circle cx="420.86" cy="83.52" r="2.4" fill="#fdb913" stroke="#fff" stroke-width="0.4"/>
<circle cx="425.15" cy="87.46" r="2.4" fill="#fdb913" stroke="#fff" stroke-width="0.4"/>
<circle cx="468.22" cy="56.94" r="2.4" fill="#fdb913" stroke="#fff" stroke-width="0.4"/>
<circle cx="418.57" cy="87.41" r="2.4" fill="#fdb913" stroke="#fff" stroke-width="0.4"/>
<circle cx="433.57" cy="86.23" r="2.4" fill="#fdb913" stroke="#fff" stroke-width="0.4"/>
<circle cx="446.53" cy="59.25" r="2.4" fill="#fdb913" stroke="#fff" stroke-width="0.4"/>
<circle cx="457.95" cy="78.21" r="2.4" fill="#fdb913" stroke="#fff" stroke-width="0.4"/>
<circle cx="481.47" cy="68.34" r="2.4" fill="#fdb913" stroke="#fff" stroke-width="0.4"/>
<circle cx="438.7" cy="76.34" r="2.4" fill="#fdb913" stroke="#fff" stroke-width="0.4"/>
<circle cx="406.71" cy="86.37" r="2.4" fill="#fdb913" stroke="#fff" stroke-width="0.4"/>
<circle cx="451.84" cy="56.74" r="2.4" fill="#fdb913" stroke="#fff" stroke-width="0.4"/>
<circle cx="474.54" cy="63.78" r="2.4" fill="#fdb913" stroke="#fff" stroke-width="0.4"/>
<circle cx="430.2" cy="88.4" r="2.4" fill="#fdb913" stroke="#fff" stroke-width="0.4"/>
<circle cx="467.8" cy="59.9" r="2.4" fill="#fdb913" stroke="#fff" stroke-width="0.4"/>
<circle cx="473.21" cy="52.41" r="2.4" fill="#fdb913" stroke="#fff" stroke-width="0.4"/>
<circle cx="432.61" cy="82.58" r="2.4" fill="#fdb913" stroke="#fff" stroke-width="0.4"/>
<circle cx="393.72" cy="92.01" r="2.4" fill="#fdb913" stroke="#fff" stroke-width="0.4"/>
<circle cx="419.76" cy="97.03" r="2.4" fill="#fdb913" stroke="#fff" stroke-width="0.4"/>
<circle cx="456.66" cy="61.48" r="2.4" fill="#fdb913" stroke="#fff" stroke-width="0.4"/>
<circle cx="487.59" cy="72.22" r="2.4" fill="#fdb913" stroke="#fff" stroke-width="0.4"/>
<circle cx="422.79" cy="89.3" r="2.4" fill="#fdb913" stroke="#fff" stroke-width="0.4"/>
<circle cx="449.45" cy="75.04" r="2.4" fill="#fdb913" stroke="#fff" stroke-width="0.4"/>
<circle cx="466.7" cy="58.02" r="2.4" fill="#fdb913" stroke="#fff" stroke-width="0.4"/>
<circle cx="443.05" cy="61.55" r="2.4" fill="#fdb913" stroke="#fff" stroke-width="0.4"/>
<circle cx="483.64" cy="61.54" r="2.4" fill="#fdb913" stroke="#fff" stroke-width="0.4"/>
<circle cx="414.78" cy="89.47" r="2.4" fill="#fdb913" stroke="#fff" stroke-width="0.4"/>
<circle cx="453.28" cy="70.3" r="2.4" fill="#fdb913" stroke="#fff" stroke-width="0.4"/>
<circle cx="481.4" cy="70.19" r="2.4" fill="#fdb913" stroke="#fff" stroke-width="0.4"/>
<circle cx="481.73" cy="61.6" r="2.4" fill="#fdb913" stroke="#fff" stroke-width="0.4"/>
<circle cx="408.7" cy="92.34" r="2.4" fill="#fdb913" stroke="#fff" stroke-width="0.4"/>
<circle cx="468.65" cy="69.4" r="2.4" fill="#fdb913" stroke="#fff" stroke-width="0.4"/>
<circle cx="482.28" cy="57.76" r="2.4" fill="#fdb913" stroke="#fff" stroke-width="0.4"/>
<circle cx="416.2" cy="83.72" r="2.4" fill="#fdb913" stroke="#fff" stroke-width="0.4"/>
<circle cx="422.8" cy="81.21" r="2.4" fill="#fdb913" stroke="#fff" stroke-width="0.4"/>
<circle cx="444.99" cy="78.88" r="2.4" fill="#fdb913" stroke="#fff" stroke-width="0.4"/>
<circle cx="453.64" cy="60.95" r="2.4" fill="#fdb913" stroke="#fff" stroke-width="0.4"/>
<circle cx="423.77" cy="94.28" r="2.4" fill="#fdb913" stroke="#fff" stroke-width="0.4"/>
<circle cx="426.53" cy="91.71" r="2.4" fill="#fdb913" stroke="#fff" stroke-width="0.4"/>
<circle cx="432.63" cy="68.94" r="2.4" fill="#fdb913" stroke="#fff" stroke-width="0.4"/>
<circle cx="464.8" cy="56.84" r="2.4" fill="#fdb913" stroke="#fff" stroke-width="0.4"/>
<circle cx="461.39" cy="54.79" r="2.4" fill="#fdb913" stroke="#fff" stroke-width="0.4"/>
<circle cx="479.18" cy="54.67" r="2.4" fill="#fdb913" stroke="#fff" stroke-width="0.4"/>
<circle cx="474.13" cy="73.84" r="2.4" fill="#fdb913" stroke="#fff" stroke-width="0.4"/>
<circle cx="456.29" cy="77.08" r="2.4" fill="#fdb913" stroke="#fff" stroke-width="0.4"/>
<circle cx="414.87" cy="101.32" r="2.4" fill="#fdb913" stroke="#fff" stroke-width="0.4"/>
<circle cx="483.57" cy="83.19" r="2.4" fill="#fdb913" stroke="#fff" stroke-width="0.4"/>
<circle cx="412.15" cy="81.29" r="2.4" fill="#fdb913" stroke="#fff" stroke-width="0.4"/>
<circle cx="457.8" cy="73.62" r="2.4" fill="#fdb913" stroke="#fff" stroke-width="0.4"/>
<circle cx="403.56" cy="97.93" r="2.4" fill="#fdb913" stroke="#fff" stroke-width="0.4"/>
<circle cx="444.07" cy="63.96" r="2.4" fill="#fdb913" stroke="#fff" stroke-width="0.4"/>
<circle cx="394.5" cy="95.09" r="2.4" fill="#fdb913" stroke="#fff" stroke-width="0.4"/>
<circle cx="412.4" cy="102.13" r="2.4" fill="#fdb913" stroke="#fff" stroke-width="0.4"/>
<circle cx="470.24" cy="63.46" r="2.4" fill="#fdb913" stroke="#fff" stroke-width="0.4"/>
<circle cx="444.52" cy="60.53" r="2.4" fill="#fdb913" stroke="#fff" stroke-width="0.4"/>
<circle cx="415.18" cy="85.06" r="2.4" fill="#fdb913" stroke="#fff" stroke-width="0.4"/>
<circle cx="407.52" cy="78.46" r="2.4" fill="#fdb913" stroke="#fff" stroke-width="0.4"/>
<circle cx="412.34" cy="85.38" r="2.4" fill="#fdb913" stroke="#fff" stroke-width="0.4"/>
<circle cx="427.41" cy="73.56" r="2.4" fill="#fdb913" stroke="#fff" stroke-width="0.4"/>
<circle cx="453.77" cy="65.72" r="2.4" fill="#fdb913" stroke="#fff" stroke-width="0.4"/>
<circle cx="429.74" cy="92.01" r="2.4" fill="#fdb913" stroke="#fff" stroke-width="0.4"/>
<circle cx="417.01" cy="100.78" r="2.4" fill="#fdb913" stroke="#fff" stroke-width="0.4"/>
<circle cx="420.01" cy="84.81" r="2.4" fill="#fdb913" stroke="#fff" stroke-width="0.4"/>
<circle cx="394.18" cy="85.73" r="2.4" fill="#fdb913" stroke="#fff" stroke-width="0.4"/>
<circle cx="416.22" cy="88.14" r="2.4" fill="#fdb913" stroke="#fff" stroke-width="0.4"/>
<circle cx="407.52" cy="96.38" r="2.4" fill="#fdb913" stroke="#fff" stroke-width="0.4"/>
<circle cx="472.09" cy="64.68" r="2.4" fill="#fdb913" stroke="#fff" stroke-width="0.4"/>
<circle cx="419.95" cy="92.39" r="2.4" fill="#fdb913" stroke="#fff" stroke-width="0.4"/>
<circle cx="440.03" cy="73.71" r="2.4" fill="#fdb913" stroke="#fff" stroke-width="0.4"/>
<circle cx="401.67" cy="85.08" r="2.4" fill="#fdb913" stroke="#fff" stroke-width="0.4"/>
<circle cx="399.11" cy="87.41" r="2.4" fill="#fdb913" stroke="#fff" stroke-width="0.4"/>
<circle cx="398.42" cy="101.13" r="2.4" fill="#fdb913" stroke="#fff" stroke-width="0.4"/>
<circle cx="471.59" cy="75.8" r="2.4" fill="#fdb913" stroke="#fff" stroke-width="0.4"/>
<circle cx="427.88" cy="88.92" r="2.4" fill="#fdb913" stroke="#fff" stroke-width="0.4"/>
<circle cx="428.23" cy="75.25" r="2.4" fill="#fdb913" stroke="#fff" stroke-width="0.4"/>
<circle cx="474.69" cy="77.35" r="2.4" fill="#fdb913" stroke="#fff" stroke-width="0.4"/>
<circle cx="450.89" cy="61.55" r="2.4" fill="#fdb913" stroke="#fff" stroke-width="0.4"/>
<circle cx="442.07" cy="65.04" r="2.4" fill="#fdb913" stroke="#fff" stroke-width="0.4"/>
<circle cx="406.4" cy="82.61" r="2.4" fill="#fdb913" stroke="#fff" stroke-width="0.4"/>
<circle cx="432.23" cy="78.82" r="2.4" fill="#fdb913" stroke="#fff" stroke-width="0.4"/>
<circle cx="399.39" cy="89.24" r="2.4" fill="#fdb913" stroke="#fff" stroke-width="0.4"/>
<circle cx="436.89" cy="75.9" r="2.4" fill="#fdb913" stroke="#fff" stroke-width="0.4"/>
<circle cx="414.24" cy="81.85" r="2.4" fill="#fdb913" stroke="#fff" stroke-width="0.4"/>
<circle cx="425.2" cy="93.15" r="2.4" fill="#fdb913" stroke="#fff" stroke-width="0.4"/>
<circle cx="415.13" cy="77.8" r="2.4" fill="#fdb913" stroke="#fff" stroke-width="0.4"/>
<circle cx="467.54" cy="65.7" r="2.4" fill="#fdb913" stroke="#fff" stroke-width="0.4"/>
<circle cx="411.77" cy="90.07" r="2.4" fill="#fdb913" stroke="#fff" stroke-width="0.4"/>
<circle cx="407.25" cy="93.96" r="2.4" fill="#fdb913" stroke="#fff" stroke-width="0.4"/>
<circle cx="439.22" cy="63.22" r="2.4" fill="#fdb913" stroke="#fff" stroke-width="0.4"/>
<circle cx="416.46" cy="78.63" r="2.4" fill="#fdb913" stroke="#fff" stroke-width="0.4"/>
<circle cx="474.29" cy="69.65" r="2.4" fill="#fdb913" stroke="#fff" stroke-width="0.4"/>
<circle cx="451.78" cy="78.63" r="2.4" fill="#fdb913" stroke="#fff" stroke-width="0.4"/>
<circle cx="472.67" cy="56.39" r="2.4" fill="#fdb913" stroke="#fff" stroke-width="0.4"/>
<circle cx="485.16" cy="68.34" r="2.4" fill="#fdb913" stroke="#fff" stroke-width="0.4"/>
<circle cx="404.5" cy="89.23" r="2.4" fill="#fdb913" stroke="#fff" stroke-width="0.4"/>
<circle cx="454.77" cy="72.81" r="2.4" fill="#fdb913" stroke="#fff" stroke-width="0.4"/>
<circle cx="488.74" cy="64.92" r="2.4" fill="#fdb913" stroke="#fff" stroke-width="0.4"/>
<circle cx="402.33" cy="95.97" r="2.4" fill="#fdb913" stroke="#fff" stroke-width="0.4"/>
<circle cx="410.84" cy="103.39" r="2.4" fill="#fdb913" stroke="#fff" stroke-width="0.4"/>
<circle cx="432.37" cy="74.83" r="2.4" fill="#fdb913" stroke="#fff" stroke-width="0.4"/>
<circle cx="441.37" cy="63.32" r="2.4" fill="#fdb913" stroke="#fff" stroke-width="0.4"/>
<circle cx="482.25" cy="79.05" r="2.4" fill="#fdb913" stroke="#fff" stroke-width="0.4"/>
<circle cx="414.53" cy="98.6" r="2.4" fill="#fdb913" stroke="#fff" stroke-width="0.4"/>
<circle cx="421.87" cy="95.96" r="2.4" fill="#fdb913" stroke="#fff" stroke-width="0.4"/>
<circle cx="478.39" cy="71.25" r="2.4" fill="#fdb913" stroke="#fff" stroke-width="0.4"/>
<circle cx="447.8" cy="66.57" r="2.4" fill="#fdb913" stroke="#fff" stroke-width="0.4"/>
<circle cx="482.21" cy="73.44" r="2.4" fill="#fdb913" stroke="#fff" stroke-width="0.4"/>
<circle cx="406.38" cy="102.62" r="2.4" fill="#fdb913" stroke="#fff" stroke-width="0.4"/>
<circle cx="471.34" cy="73.83" r="2.4" fill="#fdb913" stroke="#fff" stroke-width="0.4"/>
<circle cx="456.83" cy="75.14" r="2.4" fill="#fdb913" stroke="#fff" stroke-width="0.4"/>
<circle cx="432.94" cy="84.26" r="2.4" fill="#fdb913" stroke="#fff" stroke-width="0.4"/>
<circle cx="421.02" cy="89.64" r="2.4" fill="#fdb913" stroke="#fff" stroke-width="0.4"/>
<circle cx="408.58" cy="97.64" r="2.4" fill="#fdb913" stroke="#fff" stroke-width="0.4"/>
<circle cx="439.37" cy="78.64" r="2.4" fill="#fdb913" stroke="#fff" stroke-width="0.4"/>
<circle cx="485.77" cy="54.9" r="2.4" fill="#fdb913" stroke="#fff" stroke-width="0.4"/>
<circle cx="461.43" cy="50.72" r="2.4" fill="#fdb913" stroke="#fff" stroke-width="0.4"/>
<circle cx="488.97" cy="71.63" r="2.4" fill="#fdb913" stroke="#fff" stroke-width="0.4"/>
<circle cx="429.94" cy="82.27" r="2.4" fill="#fdb913" stroke="#fff" stroke-width="0.4"/>
<circle cx="404.9" cy="94.15" r="2.4" fill="#fdb913" stroke="#fff" stroke-width="0.4"/>
<circle cx="410.55" cy="94.85" r="2.4" fill="#fdb913" stroke="#fff" stroke-width="0.4"/>
<circle cx="406.81" cy="91.05" r="2.4" fill="#fdb913" stroke="#fff" stroke-width="0.4"/>
<circle cx="427.88" cy="93.15" r="2.4" fill="#fdb913" stroke="#fff" stroke-width="0.4"/>
<circle cx="416.41" cy="91.43" r="2.4" fill="#fdb913" stroke="#fff" stroke-width="0.4"/>
<circle cx="462.29" cy="52.82" r="2.4" fill="#fdb913" stroke="#fff" stroke-width="0.4"/>
<circle cx="465.57" cy="50.33" r="2.4" fill="#fdb913" stroke="#fff" stroke-width="0.4"/>
<circle cx="450.4" cy="79.3" r="2.4" fill="#fdb913" stroke="#fff" stroke-width="0.4"/>
<circle cx="449.97" cy="70.26" r="2.4" fill="#fdb913" stroke="#fff" stroke-width="0.4"/>
<circle cx="478.87" cy="68.42" r="2.4" fill="#fdb913" stroke="#fff" stroke-width="0.4"/>
<circle cx="409.68" cy="89.08" r="2.4" fill="#fdb913" stroke="#fff" stroke-width="0.4"/>
<circle cx="464.82" cy="72.81" r="2.4" fill="#fdb913" stroke="#fff" stroke-width="0.4"/>
<circle cx="415.03" cy="97.04" r="2.4" fill="#fdb913" stroke="#fff" stroke-width="0.4"/>
<circle cx="486.58" cy="60.25" r="2.4" fill="#fdb913" stroke="#fff" stroke-width="0.4"/>
<circle cx="431.3" cy="89.78" r="2.4" fill="#fdb913" stroke="#fff" stroke-width="0.4"/>
<circle cx="419.91" cy="98.82" r="2.4" fill="#fdb913" stroke="#fff" stroke-width="0.4"/>
<circle cx="476.36" cy="70.22" r="2.4" fill="#fdb913" stroke="#fff" stroke-width="0.4"/>
<circle cx="424.21" cy="96.32" r="2.4" fill="#fdb913" stroke="#fff" stroke-width="0.4"/>
<circle cx="484.06" cy="55.51" r="2.4" fill="#fdb913" stroke="#fff" stroke-width="0.4"/>
<circle cx="416.28" cy="99.08" r="2.4" fill="#fdb913" stroke="#fff" stroke-width="0.4"/>
<circle cx="453.75" cy="57.97" r="2.4" fill="#fdb913" stroke="#fff" stroke-width="0.4"/>
<circle cx="474.76" cy="61.44" r="2.4" fill="#fdb913" stroke="#fff" stroke-width="0.4"/>
<circle cx="420.93" cy="77.75" r="2.4" fill="#fdb913" stroke="#fff" stroke-width="0.4"/>
<circle cx="485.61" cy="79.11" r="2.4" fill="#fdb913" stroke="#fff" stroke-width="0.4"/>
<circle cx="483.14" cy="66.77" r="2.4" fill="#fdb913" stroke="#fff" stroke-width="0.4"/>
<circle cx="462.77" cy="26.82" r="2.4" fill="#fdb913" stroke="#fff" stroke-width="0.4"/>
<circle cx="444.09" cy="31.2" r="2.4" fill="#fdb913" stroke="#fff" stroke-width="0.4"/>
<circle cx="451.82" cy="31.49" r="2.4" fill="#fdb913" stroke="#fff" stroke-width="0.4"/>
<circle cx="427.74" cy="37.04" r="2.4" fill="#fdb913" stroke="#fff" stroke-width="0.4"/>
<circle cx="450.8" cy="37.04" r="2.4" fill="#fdb913" stroke="#fff" stroke-width="0.4"/>
<circle cx="458.1" cy="36.16" r="2.4" fill="#fdb913" stroke="#fff" stroke-width="0.4"/>
<circle cx="462.77" cy="35.14" r="2.4" fill="#fdb913" stroke="#fff" stroke-width="0.4"/>
<circle cx="464.96" cy="36.6" r="2.4" fill="#fdb913" stroke="#fff" stroke-width="0.4"/>
<circle cx="474.89" cy="37.77" r="2.4" fill="#fdb913" stroke="#fff" stroke-width="0.4"/>
<circle cx="474.89" cy="39.52" r="2.4" fill="#fdb913" stroke="#fff" stroke-width="0.4"/>
<circle cx="455.18" cy="40.98" r="2.4" fill="#fdb913" stroke="#fff" stroke-width="0.4"/>
<circle cx="464.23" cy="40.69" r="2.4" fill="#fdb913" stroke="#fff" stroke-width="0.4"/>
<circle cx="468.61" cy="43.46" r="2.4" fill="#fdb913" stroke="#fff" stroke-width="0.4"/>
<circle cx="444.96" cy="44.34" r="2.4" fill="#fdb913" stroke="#fff" stroke-width="0.4"/>
<circle cx="456.2" cy="44.92" r="2.4" fill="#fdb913" stroke="#fff" stroke-width="0.4"/>
<circle cx="460.58" cy="44.63" r="2.4" fill="#fdb913" stroke="#fff" stroke-width="0.4"/>
<circle cx="447.01" cy="48.28" r="2.4" fill="#fdb913" stroke="#fff" stroke-width="0.4"/>
<circle cx="450.66" cy="48.28" r="2.4" fill="#fdb913" stroke="#fff" stroke-width="0.4"/>
<circle cx="458.39" cy="49.3" r="2.4" fill="#fdb913" stroke="#fff" stroke-width="0.4"/>
<circle cx="462.77" cy="49.01" r="2.4" fill="#fdb913" stroke="#fff" stroke-width="0.4"/>
<circle cx="464.23" cy="52.22" r="2.4" fill="#fdb913" stroke="#fff" stroke-width="0.4"/>
<circle cx="434.6" cy="56.01" r="2.4" fill="#fdb913" stroke="#fff" stroke-width="0.4"/>
<circle cx="441.31" cy="59.96" r="2.4" fill="#fdb913" stroke="#fff" stroke-width="0.4"/>
<circle cx="450.36" cy="57.77" r="2.4" fill="#fdb913" stroke="#fff" stroke-width="0.4"/>
<circle cx="475.91" cy="51.2" r="2.4" fill="#fdb913" stroke="#fff" stroke-width="0.4"/>
<circle cx="478.83" cy="50.76" r="2.4" fill="#fdb913" stroke="#fff" stroke-width="0.4"/>
<circle cx="481.75" cy="52.66" r="2.4" fill="#fdb913" stroke="#fff" stroke-width="0.4"/>
<circle cx="490.95" cy="50.91" r="2.4" fill="#fdb913" stroke="#fff" stroke-width="0.4"/>
<circle cx="489.05" cy="57.77" r="2.4" fill="#fdb913" stroke="#fff" stroke-width="0.4"/>
<circle cx="471.53" cy="57.04" r="2.4" fill="#fdb913" stroke="#fff" stroke-width="0.4"/>
<circle cx="476.64" cy="57.77" r="2.4" fill="#fdb913" stroke="#fff" stroke-width="0.4"/>
<circle cx="481.02" cy="57.04" r="2.4" fill="#fdb913" stroke="#fff" stroke-width="0.4"/>
<circle cx="484.67" cy="59.96" r="2.4" fill="#fdb913" stroke="#fff" stroke-width="0.4"/>
<circle cx="466.42" cy="56.31" r="2.4" fill="#fdb913" stroke="#fff" stroke-width="0.4"/>
<circle cx="468.61" cy="54.12" r="2.4" fill="#fdb913" stroke="#fff" stroke-width="0.4"/>
<circle cx="454.01" cy="55.58" r="2.4" fill="#fdb913" stroke="#fff" stroke-width="0.4"/>
<circle cx="457.66" cy="58.5" r="2.4" fill="#fdb913" stroke="#fff" stroke-width="0.4"/>
<circle cx="462.04" cy="58.5" r="2.4" fill="#fdb913" stroke="#fff" stroke-width="0.4"/>
<circle cx="461.96" cy="48.72" r="2.4" fill="#fdb913" stroke="#fff" stroke-width="0.4"/>
<circle cx="463.63" cy="42.92" r="2.4" fill="#fdb913" stroke="#fff" stroke-width="0.4"/>
<circle cx="467.58" cy="43.25" r="2.4" fill="#fdb913" stroke="#fff" stroke-width="0.4"/>
<circle cx="454.37" cy="43.19" r="2.4" fill="#fdb913" stroke="#fff" stroke-width="0.4"/>
<circle cx="465.56" cy="39.44" r="2.4" fill="#fdb913" stroke="#fff" stroke-width="0.4"/>
<circle cx="455.06" cy="37.22" r="2.4" fill="#fdb913" stroke="#fff" stroke-width="0.4"/>
<circle cx="459.63" cy="42.11" r="2.4" fill="#fdb913" stroke="#fff" stroke-width="0.4"/>
<circle cx="469.55" cy="50.09" r="2.4" fill="#fdb913" stroke="#fff" stroke-width="0.4"/>
<circle cx="464.16" cy="36.44" r="2.4" fill="#fdb913" stroke="#fff" stroke-width="0.4"/>
<circle cx="457.86" cy="45.34" r="2.4" fill="#fdb913" stroke="#fff" stroke-width="0.4"/>
<circle cx="460.48" cy="39.14" r="2.4" fill="#fdb913" stroke="#fff" stroke-width="0.4"/>
<circle cx="468.68" cy="39.11" r="2.4" fill="#fdb913" stroke="#fff" stroke-width="0.4"/>
<circle cx="470.07" cy="44.44" r="2.4" fill="#fdb913" stroke="#fff" stroke-width="0.4"/>
<circle cx="457.11" cy="41.04" r="2.4" fill="#fdb913" stroke="#fff" stroke-width="0.4"/>
<circle cx="465.62" cy="47.63" r="2.4" fill="#fdb913" stroke="#fff" stroke-width="0.4"/>
<circle cx="458.5" cy="37.36" r="2.4" fill="#fdb913" stroke="#fff" stroke-width="0.4"/>
<circle cx="433.93" cy="64.33" r="2.4" fill="#fdb913" stroke="#fff" stroke-width="0.4"/>
<circle cx="425.18" cy="73.63" r="2.4" fill="#fdb913" stroke="#fff" stroke-width="0.4"/>
<circle cx="439.96" cy="61.45" r="2.4" fill="#fdb913" stroke="#fff" stroke-width="0.4"/>
<circle cx="420.69" cy="74.75" r="2.4" fill="#fdb913" stroke="#fff" stroke-width="0.4"/>
<circle cx="439.65" cy="53.53" r="2.4" fill="#fdb913" stroke="#fff" stroke-width="0.4"/>
<circle cx="449.85" cy="49.17" r="2.4" fill="#fdb913" stroke="#fff" stroke-width="0.4"/>
<circle cx="415.08" cy="77.14" r="2.4" fill="#fdb913" stroke="#fff" stroke-width="0.4"/>
<circle cx="427.92" cy="68.24" r="2.4" fill="#fdb913" stroke="#fff" stroke-width="0.4"/>
<circle cx="404.54" cy="77.15" r="2.4" fill="#fdb913" stroke="#fff" stroke-width="0.4"/>
<circle cx="444.24" cy="53.42" r="2.4" fill="#fdb913" stroke="#fff" stroke-width="0.4"/>
<circle cx="491.12" cy="51.09" r="2.4" fill="#fdb913" stroke="#fff" stroke-width="0.4"/>
<circle cx="500.04" cy="67.68" r="2.4" fill="#fdb913" stroke="#fff" stroke-width="0.4"/>
<circle cx="434.74" cy="55.86" r="2.4" fill="#fdb913" stroke="#fff" stroke-width="0.4"/>
<circle cx="440.96" cy="60.01" r="2.4" fill="#fdb913" stroke="#fff" stroke-width="0.4"/>
<circle cx="411.31" cy="76.38" r="2.4" fill="#fdb913" stroke="#fff" stroke-width="0.4"/>
<circle cx="420.02" cy="75.56" r="2.4" fill="#fdb913" stroke="#fff" stroke-width="0.4"/>
<circle cx="392.24" cy="84.36" r="2.4" fill="#fdb913" stroke="#fff" stroke-width="0.4"/>
<circle cx="488.01" cy="94.73" r="2.4" fill="#fdb913" stroke="#fff" stroke-width="0.4"/>
<circle cx="476.61" cy="94.11" r="2.4" fill="#fdb913" stroke="#fff" stroke-width="0.4"/>
<circle cx="481.79" cy="88.1" r="2.4" fill="#fdb913" stroke="#fff" stroke-width="0.4"/>
<circle cx="459.61" cy="112.76" r="2.4" fill="#fdb913" stroke="#fff" stroke-width="0.4"/>
<circle cx="452.77" cy="110.28" r="2.4" fill="#fdb913" stroke="#fff" stroke-width="0.4"/>
<circle cx="433.7" cy="109.86" r="2.4" fill="#fdb913" stroke="#fff" stroke-width="0.4"/>
<circle cx="508.74" cy="125.82" r="2.4" fill="#fdb913" stroke="#fff" stroke-width="0.4"/>
<circle cx="489.05" cy="76.07" r="2.4" fill="#fdb913" stroke="#fff" stroke-width="0.4"/>
<circle cx="486.98" cy="80.22" r="2.4" fill="#fdb913" stroke="#fff" stroke-width="0.4"/>
<circle cx="460.44" cy="78.45" r="2.4" fill="#fdb913" stroke="#fff" stroke-width="0.4"/>
<circle cx="454.05" cy="106.5" r="2.4" fill="#fdb913" stroke="#fff" stroke-width="0.4"/>
<circle cx="454.41" cy="72.05" r="2.4" fill="#fdb913" stroke="#fff" stroke-width="0.4"/>
<circle cx="439.62" cy="96.76" r="2.4" fill="#fdb913" stroke="#fff" stroke-width="0.4"/>
<circle cx="460.27" cy="91.7" r="2.4" fill="#fdb913" stroke="#fff" stroke-width="0.4"/>
<circle cx="411.96" cy="105.88" r="2.4" fill="#fdb913" stroke="#fff" stroke-width="0.4"/>
<circle cx="424.91" cy="101.51" r="2.4" fill="#fdb913" stroke="#fff" stroke-width="0.4"/>
<circle cx="467.74" cy="98.97" r="2.4" fill="#fdb913" stroke="#fff" stroke-width="0.4"/>
<circle cx="462.55" cy="61.08" r="2.4" fill="#fdb913" stroke="#fff" stroke-width="0.4"/>
<circle cx="453.4" cy="51.7" r="2.4" fill="#8c3a0c" stroke="#fff" stroke-width="0.4"/>
<circle cx="459.3" cy="47.8" r="2.4" fill="#8c3a0c" stroke="#fff" stroke-width="0.4"/>
<circle cx="465.3" cy="45.8" r="2.4" fill="#8c3a0c" stroke="#fff" stroke-width="0.4"/>
<circle cx="449.4" cy="63.7" r="2.4" fill="#8c3a0c" stroke="#fff" stroke-width="0.4"/>
<circle cx="455.3" cy="67.6" r="2.4" fill="#8c3a0c" stroke="#fff" stroke-width="0.4"/>
<circle cx="463.3" cy="67.6" r="2.4" fill="#8c3a0c" stroke="#fff" stroke-width="0.4"/>
<circle cx="445.4" cy="71.6" r="2.4" fill="#8c3a0c" stroke="#fff" stroke-width="0.4"/>
<circle cx="469.2" cy="75.6" r="2.4" fill="#8c3a0c" stroke="#fff" stroke-width="0.4"/>
<circle cx="459.3" cy="79.5" r="2.4" fill="#8c3a0c" stroke="#fff" stroke-width="0.4"/>
<circle cx="451.4" cy="79.5" r="2.4" fill="#8c3a0c" stroke="#fff" stroke-width="0.4"/>
<circle cx="441" cy="78" r="2.4" fill="#8c3a0c" stroke="#fff" stroke-width="0.4"/>
<circle cx="436" cy="85" r="2.4" fill="#8c3a0c" stroke="#fff" stroke-width="0.4"/>
<circle cx="474" cy="70" r="2.4" fill="#8c3a0c" stroke="#fff" stroke-width="0.4"/>
<circle cx="467" cy="60" r="2.4" fill="#8c3a0c" stroke="#fff" stroke-width="0.4"/>
<rect x="378.8" y="107.5" width="28.5" height="20.5" rx="1" fill="#eaeaf2" fill-opacity="0.8" stroke="#d8d8e2" stroke-opacity="0.7" stroke-width="0.4"/>
<circle cx="387.9" cy="113.2" r="1.35" fill="#8c3a0c"/>
<circle cx="387.9" cy="122.7" r="1.2" fill="#fdb913"/>
<text class="lg" x="400.4" y="115.1">1</text>
<text class="lg" x="400.4" y="124.7">2</text>
<rect x="543.5" y="22.1" width="139.9" height="108.8" fill="#eaeaf2"/>
<line x1="551" y1="22.1" x2="551" y2="130.9" stroke="#fff" stroke-opacity="0.2" stroke-width="0.6"/>
<text class="tk" x="551" y="138.5" text-anchor="middle">−2.0</text>
<line x1="599" y1="22.1" x2="599" y2="130.9" stroke="#fff" stroke-opacity="0.2" stroke-width="0.6"/>
<text class="tk" x="599" y="138.5" text-anchor="middle">−1.5</text>
<line x1="647" y1="22.1" x2="647" y2="130.9" stroke="#fff" stroke-opacity="0.2" stroke-width="0.6"/>
<text class="tk" x="647" y="138.5" text-anchor="middle">−1.0</text>
<line x1="543.5" y1="23.7" x2="683.4" y2="23.7" stroke="#fff" stroke-opacity="0.2" stroke-width="0.6"/>
<text class="tk" x="542.5" y="26.5" text-anchor="end">0.8</text>
<line x1="543.5" y1="50.6" x2="683.4" y2="50.6" stroke="#fff" stroke-opacity="0.2" stroke-width="0.6"/>
<text class="tk" x="542.5" y="53.4" text-anchor="end">0.6</text>
<line x1="543.5" y1="77.5" x2="683.4" y2="77.5" stroke="#fff" stroke-opacity="0.2" stroke-width="0.6"/>
<text class="tk" x="542.5" y="80.3" text-anchor="end">0.4</text>
<line x1="543.5" y1="104.4" x2="683.4" y2="104.4" stroke="#fff" stroke-opacity="0.2" stroke-width="0.6"/>
<text class="tk" x="542.5" y="107.2" text-anchor="end">0.2</text>
<text class="ax" x="614.05" y="147.6" text-anchor="middle">f<tspan class="sub" dy="1.6">1</tspan></text>
<text class="ax" transform="translate(527 76) rotate(-90)" text-anchor="middle">f<tspan class="sub" dy="1.6">2</tspan></text>
<circle cx="667.52" cy="30.03" r="2.4" fill="#fdb913" stroke="#fff" stroke-width="0.4"/>
<circle cx="636.07" cy="45.54" r="2.4" fill="#fdb913" stroke="#fff" stroke-width="0.4"/>
<circle cx="648.42" cy="45.43" r="2.4" fill="#fdb913" stroke="#fff" stroke-width="0.4"/>
<circle cx="627.76" cy="59.7" r="2.4" fill="#fdb913" stroke="#fff" stroke-width="0.4"/>
<circle cx="656.07" cy="53.09" r="2.4" fill="#fdb913" stroke="#fff" stroke-width="0.4"/>
<circle cx="642.97" cy="54.54" r="2.4" fill="#fdb913" stroke="#fff" stroke-width="0.4"/>
<circle cx="653.63" cy="43.03" r="2.4" fill="#fdb913" stroke="#fff" stroke-width="0.4"/>
<circle cx="623.72" cy="58.96" r="2.4" fill="#fdb913" stroke="#fff" stroke-width="0.4"/>
<circle cx="659.5" cy="35.14" r="2.4" fill="#fdb913" stroke="#fff" stroke-width="0.4"/>
<circle cx="655.5" cy="51.26" r="2.4" fill="#fdb913" stroke="#fff" stroke-width="0.4"/>
<circle cx="656.15" cy="58.47" r="2.4" fill="#fdb913" stroke="#fff" stroke-width="0.4"/>
<circle cx="660.83" cy="37.07" r="2.4" fill="#fdb913" stroke="#fff" stroke-width="0.4"/>
<circle cx="658.36" cy="69.49" r="2.4" fill="#fdb913" stroke="#fff" stroke-width="0.4"/>
<circle cx="652.51" cy="42" r="2.4" fill="#fdb913" stroke="#fff" stroke-width="0.4"/>
<circle cx="668.4" cy="46.5" r="2.4" fill="#fdb913" stroke="#fff" stroke-width="0.4"/>
<circle cx="659.28" cy="67.04" r="2.4" fill="#fdb913" stroke="#fff" stroke-width="0.4"/>
<circle cx="646.09" cy="45.04" r="2.4" fill="#fdb913" stroke="#fff" stroke-width="0.4"/>
<circle cx="646.64" cy="64.06" r="2.4" fill="#fdb913" stroke="#fff" stroke-width="0.4"/>
<circle cx="641.04" cy="37.09" r="2.4" fill="#fdb913" stroke="#fff" stroke-width="0.4"/>
<circle cx="608.9" cy="51.73" r="2.4" fill="#fdb913" stroke="#fff" stroke-width="0.4"/>
<circle cx="673.7" cy="29.8" r="2.4" fill="#fdb913" stroke="#fff" stroke-width="0.4"/>
<circle cx="632.93" cy="50.93" r="2.4" fill="#fdb913" stroke="#fff" stroke-width="0.4"/>
<circle cx="598.7" cy="51.8" r="2.4" fill="#fdb913" stroke="#fff" stroke-width="0.4"/>
<circle cx="623.37" cy="46.72" r="2.4" fill="#fdb913" stroke="#fff" stroke-width="0.4"/>
<circle cx="613.58" cy="62.05" r="2.4" fill="#fdb913" stroke="#fff" stroke-width="0.4"/>
<circle cx="588.95" cy="65.78" r="2.4" fill="#fdb913" stroke="#fff" stroke-width="0.4"/>
<circle cx="595.41" cy="57.28" r="2.4" fill="#fdb913" stroke="#fff" stroke-width="0.4"/>
<circle cx="647.33" cy="48.12" r="2.4" fill="#fdb913" stroke="#fff" stroke-width="0.4"/>
<circle cx="646.22" cy="50.81" r="2.4" fill="#fdb913" stroke="#fff" stroke-width="0.4"/>
<circle cx="583.14" cy="66.2" r="2.4" fill="#fdb913" stroke="#fff" stroke-width="0.4"/>
<circle cx="664.49" cy="48.92" r="2.4" fill="#fdb913" stroke="#fff" stroke-width="0.4"/>
<circle cx="655.43" cy="56.93" r="2.4" fill="#fdb913" stroke="#fff" stroke-width="0.4"/>
<circle cx="637.44" cy="39.52" r="2.4" fill="#fdb913" stroke="#fff" stroke-width="0.4"/>
<circle cx="624.11" cy="51.47" r="2.4" fill="#fdb913" stroke="#fff" stroke-width="0.4"/>
<circle cx="601.72" cy="65.09" r="2.4" fill="#fdb913" stroke="#fff" stroke-width="0.4"/>
<circle cx="633.35" cy="46.38" r="2.4" fill="#fdb913" stroke="#fff" stroke-width="0.4"/>
<circle cx="663.94" cy="38.04" r="2.4" fill="#fdb913" stroke="#fff" stroke-width="0.4"/>
<circle cx="583.56" cy="59.89" r="2.4" fill="#fdb913" stroke="#fff" stroke-width="0.4"/>
<circle cx="615.52" cy="57.21" r="2.4" fill="#fdb913" stroke="#fff" stroke-width="0.4"/>
<circle cx="669.55" cy="34.55" r="2.4" fill="#fdb913" stroke="#fff" stroke-width="0.4"/>
<circle cx="588.66" cy="59.6" r="2.4" fill="#fdb913" stroke="#fff" stroke-width="0.4"/>
<circle cx="660.11" cy="53.71" r="2.4" fill="#fdb913" stroke="#fff" stroke-width="0.4"/>
<circle cx="636" cy="41.13" r="2.4" fill="#fdb913" stroke="#fff" stroke-width="0.4"/>
<circle cx="663.8" cy="35.62" r="2.4" fill="#fdb913" stroke="#fff" stroke-width="0.4"/>
<circle cx="638.96" cy="50.54" r="2.4" fill="#fdb913" stroke="#fff" stroke-width="0.4"/>
<circle cx="664.02" cy="46.1" r="2.4" fill="#fdb913" stroke="#fff" stroke-width="0.4"/>
<circle cx="611.98" cy="55.92" r="2.4" fill="#fdb913" stroke="#fff" stroke-width="0.4"/>
<circle cx="652.06" cy="68.43" r="2.4" fill="#fdb913" stroke="#fff" stroke-width="0.4"/>
<circle cx="655.12" cy="64.12" r="2.4" fill="#fdb913" stroke="#fff" stroke-width="0.4"/>
<circle cx="649.9" cy="60.8" r="2.4" fill="#fdb913" stroke="#fff" stroke-width="0.4"/>
<circle cx="607.1" cy="56.81" r="2.4" fill="#fdb913" stroke="#fff" stroke-width="0.4"/>
<circle cx="639.32" cy="45.72" r="2.4" fill="#fdb913" stroke="#fff" stroke-width="0.4"/>
<circle cx="662.05" cy="44.07" r="2.4" fill="#fdb913" stroke="#fff" stroke-width="0.4"/>
<circle cx="648.3" cy="56.7" r="2.4" fill="#fdb913" stroke="#fff" stroke-width="0.4"/>
<circle cx="635.66" cy="49.68" r="2.4" fill="#fdb913" stroke="#fff" stroke-width="0.4"/>
<circle cx="589.33" cy="55.47" r="2.4" fill="#fdb913" stroke="#fff" stroke-width="0.4"/>
<circle cx="606.5" cy="54.52" r="2.4" fill="#fdb913" stroke="#fff" stroke-width="0.4"/>
<circle cx="652.63" cy="53.88" r="2.4" fill="#fdb913" stroke="#fff" stroke-width="0.4"/>
<circle cx="625.73" cy="51.12" r="2.4" fill="#fdb913" stroke="#fff" stroke-width="0.4"/>
<circle cx="656.87" cy="39.68" r="2.4" fill="#fdb913" stroke="#fff" stroke-width="0.4"/>
<circle cx="668.43" cy="33.2" r="2.4" fill="#fdb913" stroke="#fff" stroke-width="0.4"/>
<circle cx="585.69" cy="63.95" r="2.4" fill="#fdb913" stroke="#fff" stroke-width="0.4"/>
<circle cx="594.76" cy="59.74" r="2.4" fill="#fdb913" stroke="#fff" stroke-width="0.4"/>
<circle cx="658.84" cy="60.84" r="2.4" fill="#fdb913" stroke="#fff" stroke-width="0.4"/>
<circle cx="633.69" cy="52.3" r="2.4" fill="#fdb913" stroke="#fff" stroke-width="0.4"/>
<circle cx="657.63" cy="55.24" r="2.4" fill="#fdb913" stroke="#fff" stroke-width="0.4"/>
<circle cx="588.68" cy="62.56" r="2.4" fill="#fdb913" stroke="#fff" stroke-width="0.4"/>
<circle cx="611.14" cy="52.84" r="2.4" fill="#fdb913" stroke="#fff" stroke-width="0.4"/>
<circle cx="658.28" cy="62.5" r="2.4" fill="#fdb913" stroke="#fff" stroke-width="0.4"/>
<circle cx="627.16" cy="63.14" r="2.4" fill="#fdb913" stroke="#fff" stroke-width="0.4"/>
<circle cx="628.77" cy="50.7" r="2.4" fill="#fdb913" stroke="#fff" stroke-width="0.4"/>
<circle cx="657.88" cy="64.49" r="2.4" fill="#fdb913" stroke="#fff" stroke-width="0.4"/>
<circle cx="601.96" cy="53.59" r="2.4" fill="#fdb913" stroke="#fff" stroke-width="0.4"/>
<circle cx="660.26" cy="58.97" r="2.4" fill="#fdb913" stroke="#fff" stroke-width="0.4"/>
<circle cx="666.76" cy="47.17" r="2.4" fill="#fdb913" stroke="#fff" stroke-width="0.4"/>
<circle cx="655.32" cy="59.79" r="2.4" fill="#fdb913" stroke="#fff" stroke-width="0.4"/>
<circle cx="671.21" cy="38.33" r="2.4" fill="#fdb913" stroke="#fff" stroke-width="0.4"/>
<circle cx="651.4" cy="47.39" r="2.4" fill="#fdb913" stroke="#fff" stroke-width="0.4"/>
<circle cx="655.66" cy="41.62" r="2.4" fill="#fdb913" stroke="#fff" stroke-width="0.4"/>
<circle cx="624.35" cy="62.36" r="2.4" fill="#fdb913" stroke="#fff" stroke-width="0.4"/>
<circle cx="613.49" cy="59.63" r="2.4" fill="#fdb913" stroke="#fff" stroke-width="0.4"/>
<circle cx="592.33" cy="66.35" r="2.4" fill="#fdb913" stroke="#fff" stroke-width="0.4"/>
<circle cx="663.96" cy="61.7" r="2.4" fill="#fdb913" stroke="#fff" stroke-width="0.4"/>
<circle cx="670.93" cy="32.78" r="2.4" fill="#fdb913" stroke="#fff" stroke-width="0.4"/>
<circle cx="605.32" cy="50.38" r="2.4" fill="#fdb913" stroke="#fff" stroke-width="0.4"/>
<circle cx="640.67" cy="54.55" r="2.4" fill="#fdb913" stroke="#fff" stroke-width="0.4"/>
<circle cx="616.01" cy="59.94" r="2.4" fill="#fdb913" stroke="#fff" stroke-width="0.4"/>
<circle cx="624.92" cy="42.22" r="2.4" fill="#fdb913" stroke="#fff" stroke-width="0.4"/>
<circle cx="643.72" cy="64.85" r="2.4" fill="#fdb913" stroke="#fff" stroke-width="0.4"/>
<circle cx="666.86" cy="37.43" r="2.4" fill="#fdb913" stroke="#fff" stroke-width="0.4"/>
<circle cx="646.63" cy="37.9" r="2.4" fill="#fdb913" stroke="#fff" stroke-width="0.4"/>
<circle cx="677.02" cy="32.98" r="2.4" fill="#fdb913" stroke="#fff" stroke-width="0.4"/>
<circle cx="650.71" cy="41.7" r="2.4" fill="#fdb913" stroke="#fff" stroke-width="0.4"/>
<circle cx="630.97" cy="53.04" r="2.4" fill="#fdb913" stroke="#fff" stroke-width="0.4"/>
<circle cx="663.07" cy="28.57" r="2.4" fill="#fdb913" stroke="#fff" stroke-width="0.4"/>
<circle cx="656.96" cy="31.54" r="2.4" fill="#fdb913" stroke="#fff" stroke-width="0.4"/>
<circle cx="664.72" cy="42.42" r="2.4" fill="#fdb913" stroke="#fff" stroke-width="0.4"/>
<circle cx="650.86" cy="54.47" r="2.4" fill="#fdb913" stroke="#fff" stroke-width="0.4"/>
<circle cx="603.64" cy="49.23" r="2.4" fill="#fdb913" stroke="#fff" stroke-width="0.4"/>
<circle cx="654.94" cy="62" r="2.4" fill="#fdb913" stroke="#fff" stroke-width="0.4"/>
<circle cx="650.55" cy="64.67" r="2.4" fill="#fdb913" stroke="#fff" stroke-width="0.4"/>
<circle cx="660.41" cy="50.89" r="2.4" fill="#fdb913" stroke="#fff" stroke-width="0.4"/>
<circle cx="666.8" cy="56.19" r="2.4" fill="#fdb913" stroke="#fff" stroke-width="0.4"/>
<circle cx="666.01" cy="52.52" r="2.4" fill="#fdb913" stroke="#fff" stroke-width="0.4"/>
<circle cx="658.51" cy="37.89" r="2.4" fill="#fdb913" stroke="#fff" stroke-width="0.4"/>
<circle cx="592.94" cy="64.15" r="2.4" fill="#fdb913" stroke="#fff" stroke-width="0.4"/>
<circle cx="640.84" cy="39.63" r="2.4" fill="#fdb913" stroke="#fff" stroke-width="0.4"/>
<circle cx="669.55" cy="28.13" r="2.4" fill="#fdb913" stroke="#fff" stroke-width="0.4"/>
<circle cx="608.22" cy="48.3" r="2.4" fill="#fdb913" stroke="#fff" stroke-width="0.4"/>
<circle cx="654.92" cy="32.28" r="2.4" fill="#fdb913" stroke="#fff" stroke-width="0.4"/>
<circle cx="663.27" cy="50.32" r="2.4" fill="#fdb913" stroke="#fff" stroke-width="0.4"/>
<circle cx="626.07" cy="49.4" r="2.4" fill="#fdb913" stroke="#fff" stroke-width="0.4"/>
<circle cx="606.86" cy="52.68" r="2.4" fill="#fdb913" stroke="#fff" stroke-width="0.4"/>
<circle cx="662.43" cy="63.59" r="2.4" fill="#fdb913" stroke="#fff" stroke-width="0.4"/>
<circle cx="647.47" cy="40.57" r="2.4" fill="#fdb913" stroke="#fff" stroke-width="0.4"/>
<circle cx="606.8" cy="62.07" r="2.4" fill="#fdb913" stroke="#fff" stroke-width="0.4"/>
<circle cx="665.15" cy="44.31" r="2.4" fill="#fdb913" stroke="#fff" stroke-width="0.4"/>
<circle cx="668.58" cy="36.25" r="2.4" fill="#fdb913" stroke="#fff" stroke-width="0.4"/>
<circle cx="584.04" cy="62.96" r="2.4" fill="#fdb913" stroke="#fff" stroke-width="0.4"/>
<circle cx="590.68" cy="59.4" r="2.4" fill="#fdb913" stroke="#fff" stroke-width="0.4"/>
<circle cx="649.39" cy="34.81" r="2.4" fill="#fdb913" stroke="#fff" stroke-width="0.4"/>
<circle cx="659.34" cy="46.75" r="2.4" fill="#fdb913" stroke="#fff" stroke-width="0.4"/>
<circle cx="622.09" cy="55.58" r="2.4" fill="#fdb913" stroke="#fff" stroke-width="0.4"/>
<circle cx="609.61" cy="60.71" r="2.4" fill="#fdb913" stroke="#fff" stroke-width="0.4"/>
<circle cx="645.34" cy="41.25" r="2.4" fill="#fdb913" stroke="#fff" stroke-width="0.4"/>
<circle cx="666.51" cy="54.55" r="2.4" fill="#fdb913" stroke="#fff" stroke-width="0.4"/>
<circle cx="656.09" cy="43.25" r="2.4" fill="#fdb913" stroke="#fff" stroke-width="0.4"/>
<circle cx="672.69" cy="33.07" r="2.4" fill="#fdb913" stroke="#fff" stroke-width="0.4"/>
<circle cx="633.97" cy="49.14" r="2.4" fill="#fdb913" stroke="#fff" stroke-width="0.4"/>
<circle cx="586.99" cy="57.68" r="2.4" fill="#fdb913" stroke="#fff" stroke-width="0.4"/>
<circle cx="650.29" cy="43.97" r="2.4" fill="#fdb913" stroke="#fff" stroke-width="0.4"/>
<circle cx="669.19" cy="52.18" r="2.4" fill="#fdb913" stroke="#fff" stroke-width="0.4"/>
<circle cx="658.98" cy="41.9" r="2.4" fill="#fdb913" stroke="#fff" stroke-width="0.4"/>
<circle cx="614.05" cy="58.17" r="2.4" fill="#fdb913" stroke="#fff" stroke-width="0.4"/>
<circle cx="653.75" cy="57.81" r="2.4" fill="#fdb913" stroke="#fff" stroke-width="0.4"/>
<circle cx="586.27" cy="60.34" r="2.4" fill="#fdb913" stroke="#fff" stroke-width="0.4"/>
<circle cx="652.61" cy="62.97" r="2.4" fill="#fdb913" stroke="#fff" stroke-width="0.4"/>
<circle cx="635.98" cy="42.73" r="2.4" fill="#fdb913" stroke="#fff" stroke-width="0.4"/>
<circle cx="652.43" cy="36.9" r="2.4" fill="#fdb913" stroke="#fff" stroke-width="0.4"/>
<circle cx="598.72" cy="65.02" r="2.4" fill="#fdb913" stroke="#fff" stroke-width="0.4"/>
<circle cx="625.39" cy="59.82" r="2.4" fill="#fdb913" stroke="#fff" stroke-width="0.4"/>
<circle cx="664.94" cy="56.61" r="2.4" fill="#fdb913" stroke="#fff" stroke-width="0.4"/>
<circle cx="611.12" cy="63.94" r="2.4" fill="#fdb913" stroke="#fff" stroke-width="0.4"/>
<circle cx="601.99" cy="57.23" r="2.4" fill="#fdb913" stroke="#fff" stroke-width="0.4"/>
<circle cx="638.73" cy="41.07" r="2.4" fill="#fdb913" stroke="#fff" stroke-width="0.4"/>
<circle cx="613.19" cy="53.08" r="2.4" fill="#fdb913" stroke="#fff" stroke-width="0.4"/>
<circle cx="620.07" cy="58.67" r="2.4" fill="#fdb913" stroke="#fff" stroke-width="0.4"/>
<circle cx="642.03" cy="49.75" r="2.4" fill="#fdb913" stroke="#fff" stroke-width="0.4"/>
<circle cx="629.07" cy="46.54" r="2.4" fill="#fdb913" stroke="#fff" stroke-width="0.4"/>
<circle cx="616.16" cy="45.7" r="2.4" fill="#fdb913" stroke="#fff" stroke-width="0.4"/>
<circle cx="640.25" cy="42.86" r="2.4" fill="#fdb913" stroke="#fff" stroke-width="0.4"/>
<circle cx="660.5" cy="64.63" r="2.4" fill="#fdb913" stroke="#fff" stroke-width="0.4"/>
<circle cx="593.39" cy="61.97" r="2.4" fill="#fdb913" stroke="#fff" stroke-width="0.4"/>
<circle cx="630.74" cy="41.39" r="2.4" fill="#fdb913" stroke="#fff" stroke-width="0.4"/>
<circle cx="579.8" cy="68.68" r="2.4" fill="#fdb913" stroke="#fff" stroke-width="0.4"/>
<circle cx="675.81" cy="37.02" r="2.4" fill="#fdb913" stroke="#fff" stroke-width="0.4"/>
<circle cx="643.11" cy="52.9" r="2.4" fill="#fdb913" stroke="#fff" stroke-width="0.4"/>
<circle cx="600.12" cy="50.76" r="2.4" fill="#fdb913" stroke="#fff" stroke-width="0.4"/>
<circle cx="663.2" cy="40.93" r="2.4" fill="#fdb913" stroke="#fff" stroke-width="0.4"/>
<circle cx="665.37" cy="32.46" r="2.4" fill="#fdb913" stroke="#fff" stroke-width="0.4"/>
<circle cx="655.93" cy="65.69" r="2.4" fill="#fdb913" stroke="#fff" stroke-width="0.4"/>
<circle cx="598.37" cy="61" r="2.4" fill="#fdb913" stroke="#fff" stroke-width="0.4"/>
<circle cx="576.1" cy="68.48" r="2.4" fill="#fdb913" stroke="#fff" stroke-width="0.4"/>
<circle cx="639.64" cy="47.66" r="2.4" fill="#fdb913" stroke="#fff" stroke-width="0.4"/>
<circle cx="580.23" cy="66.58" r="2.4" fill="#fdb913" stroke="#fff" stroke-width="0.4"/>
<circle cx="624.67" cy="53.79" r="2.4" fill="#fdb913" stroke="#fff" stroke-width="0.4"/>
<circle cx="652.84" cy="34.38" r="2.4" fill="#fdb913" stroke="#fff" stroke-width="0.4"/>
<circle cx="656.05" cy="48.23" r="2.4" fill="#fdb913" stroke="#fff" stroke-width="0.4"/>
<circle cx="668.66" cy="49.05" r="2.4" fill="#fdb913" stroke="#fff" stroke-width="0.4"/>
<circle cx="640.71" cy="44.29" r="2.4" fill="#fdb913" stroke="#fff" stroke-width="0.4"/>
<circle cx="651.01" cy="50.65" r="2.4" fill="#fdb913" stroke="#fff" stroke-width="0.4"/>
<circle cx="659.34" cy="30.59" r="2.4" fill="#fdb913" stroke="#fff" stroke-width="0.4"/>
<circle cx="620.14" cy="50.4" r="2.4" fill="#fdb913" stroke="#fff" stroke-width="0.4"/>
<circle cx="642.36" cy="57.48" r="2.4" fill="#fdb913" stroke="#fff" stroke-width="0.4"/>
<circle cx="665.85" cy="29.1" r="2.4" fill="#fdb913" stroke="#fff" stroke-width="0.4"/>
<circle cx="587.56" cy="55.93" r="2.4" fill="#fdb913" stroke="#fff" stroke-width="0.4"/>
<circle cx="595.78" cy="52.83" r="2.4" fill="#fdb913" stroke="#fff" stroke-width="0.4"/>
<circle cx="647.97" cy="33.7" r="2.4" fill="#fdb913" stroke="#fff" stroke-width="0.4"/>
<circle cx="626.01" cy="44.22" r="2.4" fill="#fdb913" stroke="#fff" stroke-width="0.4"/>
<circle cx="626.89" cy="47.86" r="2.4" fill="#fdb913" stroke="#fff" stroke-width="0.4"/>
<circle cx="643.11" cy="37.18" r="2.4" fill="#fdb913" stroke="#fff" stroke-width="0.4"/>
<circle cx="599.4" cy="58.65" r="2.4" fill="#fdb913" stroke="#fff" stroke-width="0.4"/>
<circle cx="662.7" cy="32" r="2.4" fill="#fdb913" stroke="#fff" stroke-width="0.4"/>
<circle cx="621.9" cy="61.14" r="2.4" fill="#fdb913" stroke="#fff" stroke-width="0.4"/>
<circle cx="647.26" cy="61.61" r="2.4" fill="#fdb913" stroke="#fff" stroke-width="0.4"/>
<circle cx="577.41" cy="69.57" r="2.4" fill="#fdb913" stroke="#fff" stroke-width="0.4"/>
<circle cx="658.36" cy="43.74" r="2.4" fill="#fdb913" stroke="#fff" stroke-width="0.4"/>
<circle cx="592.02" cy="60.3" r="2.4" fill="#fdb913" stroke="#fff" stroke-width="0.4"/>
<circle cx="628.3" cy="48.73" r="2.4" fill="#fdb913" stroke="#fff" stroke-width="0.4"/>
<circle cx="589.62" cy="63.88" r="2.4" fill="#fdb913" stroke="#fff" stroke-width="0.4"/>
<circle cx="623.15" cy="57.13" r="2.4" fill="#fdb913" stroke="#fff" stroke-width="0.4"/>
<circle cx="576.13" cy="71.41" r="2.4" fill="#fdb913" stroke="#fff" stroke-width="0.4"/>
<circle cx="607.26" cy="50.33" r="2.4" fill="#fdb913" stroke="#fff" stroke-width="0.4"/>
<circle cx="653.14" cy="49.25" r="2.4" fill="#fdb913" stroke="#fff" stroke-width="0.4"/>
<circle cx="667.02" cy="42.69" r="2.4" fill="#fdb913" stroke="#fff" stroke-width="0.4"/>
<circle cx="669.54" cy="31.96" r="2.4" fill="#fdb913" stroke="#fff" stroke-width="0.4"/>
<circle cx="626.65" cy="57.9" r="2.4" fill="#fdb913" stroke="#fff" stroke-width="0.4"/>
<circle cx="622.72" cy="50.86" r="2.4" fill="#fdb913" stroke="#fff" stroke-width="0.4"/>
<circle cx="618.25" cy="54.87" r="2.4" fill="#fdb913" stroke="#fff" stroke-width="0.4"/>
<circle cx="654.36" cy="52.81" r="2.4" fill="#fdb913" stroke="#fff" stroke-width="0.4"/>
<circle cx="609.78" cy="56.05" r="2.4" fill="#fdb913" stroke="#fff" stroke-width="0.4"/>
<circle cx="629.05" cy="41.21" r="2.4" fill="#fdb913" stroke="#fff" stroke-width="0.4"/>
<circle cx="621.72" cy="45.59" r="2.4" fill="#fdb913" stroke="#fff" stroke-width="0.4"/>
<circle cx="624.19" cy="49.79" r="2.4" fill="#fdb913" stroke="#fff" stroke-width="0.4"/>
<circle cx="646.34" cy="59.03" r="2.4" fill="#fdb913" stroke="#fff" stroke-width="0.4"/>
<circle cx="666.03" cy="60.06" r="2.4" fill="#fdb913" stroke="#fff" stroke-width="0.4"/>
<circle cx="661" cy="40.96" r="2.4" fill="#fdb913" stroke="#fff" stroke-width="0.4"/>
<circle cx="639.8" cy="38.15" r="2.4" fill="#fdb913" stroke="#fff" stroke-width="0.4"/>
<circle cx="606.28" cy="58.85" r="2.4" fill="#fdb913" stroke="#fff" stroke-width="0.4"/>
<circle cx="609.53" cy="57.9" r="2.4" fill="#fdb913" stroke="#fff" stroke-width="0.4"/>
<circle cx="668.49" cy="43.85" r="2.4" fill="#fdb913" stroke="#fff" stroke-width="0.4"/>
<circle cx="602.08" cy="61.54" r="2.4" fill="#fdb913" stroke="#fff" stroke-width="0.4"/>
<circle cx="652.4" cy="56.44" r="2.4" fill="#fdb913" stroke="#fff" stroke-width="0.4"/>
<circle cx="611.81" cy="60.73" r="2.4" fill="#fdb913" stroke="#fff" stroke-width="0.4"/>
<circle cx="670.97" cy="44.72" r="2.4" fill="#fdb913" stroke="#fff" stroke-width="0.4"/>
<circle cx="644.64" cy="47.31" r="2.4" fill="#fdb913" stroke="#fff" stroke-width="0.4"/>
<circle cx="628.27" cy="57.38" r="2.4" fill="#fdb913" stroke="#fff" stroke-width="0.4"/>
<circle cx="604.37" cy="65.8" r="2.4" fill="#fdb913" stroke="#fff" stroke-width="0.4"/>
<circle cx="626.86" cy="61.04" r="2.4" fill="#fdb913" stroke="#fff" stroke-width="0.4"/>
<circle cx="651.26" cy="62.11" r="2.4" fill="#fdb913" stroke="#fff" stroke-width="0.4"/>
<circle cx="656.56" cy="50.19" r="2.4" fill="#fdb913" stroke="#fff" stroke-width="0.4"/>
<circle cx="674.94" cy="34.29" r="2.4" fill="#fdb913" stroke="#fff" stroke-width="0.4"/>
<circle cx="661.4" cy="66.35" r="2.4" fill="#fdb913" stroke="#fff" stroke-width="0.4"/>
<circle cx="593.34" cy="53.84" r="2.4" fill="#fdb913" stroke="#fff" stroke-width="0.4"/>
<circle cx="590.04" cy="57.33" r="2.4" fill="#fdb913" stroke="#fff" stroke-width="0.4"/>
<circle cx="616.88" cy="49.62" r="2.4" fill="#fdb913" stroke="#fff" stroke-width="0.4"/>
<circle cx="603.19" cy="56.33" r="2.4" fill="#fdb913" stroke="#fff" stroke-width="0.4"/>
<circle cx="638.09" cy="38.05" r="2.4" fill="#fdb913" stroke="#fff" stroke-width="0.4"/>
<circle cx="627.54" cy="53.26" r="2.4" fill="#fdb913" stroke="#fff" stroke-width="0.4"/>
<circle cx="617.31" cy="52.63" r="2.4" fill="#fdb913" stroke="#fff" stroke-width="0.4"/>
<circle cx="637.78" cy="49.55" r="2.4" fill="#fdb913" stroke="#fff" stroke-width="0.4"/>
<circle cx="661.94" cy="47.2" r="2.4" fill="#fdb913" stroke="#fff" stroke-width="0.4"/>
<circle cx="616.68" cy="55.8" r="2.4" fill="#fdb913" stroke="#fff" stroke-width="0.4"/>
<circle cx="650.95" cy="36.41" r="2.4" fill="#fdb913" stroke="#fff" stroke-width="0.4"/>
<circle cx="653.74" cy="65.26" r="2.4" fill="#fdb913" stroke="#fff" stroke-width="0.4"/>
<circle cx="650.5" cy="38.66" r="2.4" fill="#fdb913" stroke="#fff" stroke-width="0.4"/>
<circle cx="608.55" cy="53.97" r="2.4" fill="#fdb913" stroke="#fff" stroke-width="0.4"/>
<circle cx="631.53" cy="56.9" r="2.4" fill="#fdb913" stroke="#fff" stroke-width="0.4"/>
<circle cx="672.99" cy="37.46" r="2.4" fill="#fdb913" stroke="#fff" stroke-width="0.4"/>
<circle cx="643.08" cy="46.05" r="2.4" fill="#fdb913" stroke="#fff" stroke-width="0.4"/>
<circle cx="655.92" cy="67.64" r="2.4" fill="#fdb913" stroke="#fff" stroke-width="0.4"/>
<circle cx="620.21" cy="60.33" r="2.4" fill="#fdb913" stroke="#fff" stroke-width="0.4"/>
<circle cx="666.59" cy="57.7" r="2.4" fill="#fdb913" stroke="#fff" stroke-width="0.4"/>
<circle cx="609.95" cy="62.19" r="2.4" fill="#fdb913" stroke="#fff" stroke-width="0.4"/>
<circle cx="648.15" cy="36.11" r="2.4" fill="#fdb913" stroke="#fff" stroke-width="0.4"/>
<circle cx="654.36" cy="38.06" r="2.4" fill="#fdb913" stroke="#fff" stroke-width="0.4"/>
<circle cx="643.12" cy="43.17" r="2.4" fill="#fdb913" stroke="#fff" stroke-width="0.4"/>
<circle cx="604.52" cy="51.66" r="2.4" fill="#fdb913" stroke="#fff" stroke-width="0.4"/>
<circle cx="642.99" cy="61.3" r="2.4" fill="#fdb913" stroke="#fff" stroke-width="0.4"/>
<circle cx="659.07" cy="56.49" r="2.4" fill="#fdb913" stroke="#fff" stroke-width="0.4"/>
<circle cx="618.86" cy="57.37" r="2.4" fill="#fdb913" stroke="#fff" stroke-width="0.4"/>
<circle cx="582.79" cy="62.09" r="2.4" fill="#fdb913" stroke="#fff" stroke-width="0.4"/>
<circle cx="621.54" cy="57.67" r="2.4" fill="#fdb913" stroke="#fff" stroke-width="0.4"/>
<circle cx="676.97" cy="31.42" r="2.4" fill="#fdb913" stroke="#fff" stroke-width="0.4"/>
<circle cx="602.92" cy="58.44" r="2.4" fill="#fdb913" stroke="#fff" stroke-width="0.4"/>
<circle cx="603.42" cy="60.01" r="2.4" fill="#fdb913" stroke="#fff" stroke-width="0.4"/>
<circle cx="609.62" cy="46.98" r="2.4" fill="#fdb913" stroke="#fff" stroke-width="0.4"/>
<circle cx="644.36" cy="56.31" r="2.4" fill="#fdb913" stroke="#fff" stroke-width="0.4"/>
<circle cx="620.22" cy="46.18" r="2.4" fill="#fdb913" stroke="#fff" stroke-width="0.4"/>
<circle cx="672.65" cy="35.61" r="2.4" fill="#fdb913" stroke="#fff" stroke-width="0.4"/>
<circle cx="621.71" cy="53.73" r="2.4" fill="#fdb913" stroke="#fff" stroke-width="0.4"/>
<circle cx="619.77" cy="54.17" r="2.4" fill="#fdb913" stroke="#fff" stroke-width="0.4"/>
<circle cx="643.78" cy="40.6" r="2.4" fill="#fdb913" stroke="#fff" stroke-width="0.4"/>
<circle cx="657.6" cy="51.98" r="2.4" fill="#fdb913" stroke="#fff" stroke-width="0.4"/>
<circle cx="661.56" cy="60.88" r="2.4" fill="#fdb913" stroke="#fff" stroke-width="0.4"/>
<circle cx="663.14" cy="48.17" r="2.4" fill="#fdb913" stroke="#fff" stroke-width="0.4"/>
<circle cx="592.79" cy="58.07" r="2.4" fill="#fdb913" stroke="#fff" stroke-width="0.4"/>
<circle cx="580.44" cy="71" r="2.4" fill="#fdb913" stroke="#fff" stroke-width="0.4"/>
<circle cx="660.4" cy="31.72" r="2.4" fill="#fdb913" stroke="#fff" stroke-width="0.4"/>
<circle cx="630.33" cy="59.8" r="2.4" fill="#fdb913" stroke="#fff" stroke-width="0.4"/>
<circle cx="656.26" cy="34.91" r="2.4" fill="#fdb913" stroke="#fff" stroke-width="0.4"/>
<circle cx="669.14" cy="42.23" r="2.4" fill="#fdb913" stroke="#fff" stroke-width="0.4"/>
<circle cx="675.8" cy="28.61" r="2.4" fill="#fdb913" stroke="#fff" stroke-width="0.4"/>
<circle cx="634.34" cy="47.59" r="2.4" fill="#fdb913" stroke="#fff" stroke-width="0.4"/>
<circle cx="633.3" cy="53.94" r="2.4" fill="#fdb913" stroke="#fff" stroke-width="0.4"/>
<circle cx="587.33" cy="65.81" r="2.4" fill="#fdb913" stroke="#fff" stroke-width="0.4"/>
<circle cx="624.22" cy="45.26" r="2.4" fill="#fdb913" stroke="#fff" stroke-width="0.4"/>
<circle cx="665.39" cy="40.16" r="2.4" fill="#fdb913" stroke="#fff" stroke-width="0.4"/>
<circle cx="659.65" cy="52.27" r="2.4" fill="#fdb913" stroke="#fff" stroke-width="0.4"/>
<circle cx="631.28" cy="49.73" r="2.4" fill="#fdb913" stroke="#fff" stroke-width="0.4"/>
<circle cx="657.78" cy="30.11" r="2.4" fill="#fdb913" stroke="#fff" stroke-width="0.4"/>
<circle cx="621.3" cy="48.34" r="2.4" fill="#fdb913" stroke="#fff" stroke-width="0.4"/>
<circle cx="596.28" cy="55.8" r="2.4" fill="#fdb913" stroke="#fff" stroke-width="0.4"/>
<circle cx="666.37" cy="48.77" r="2.4" fill="#fdb913" stroke="#fff" stroke-width="0.4"/>
<circle cx="642.98" cy="67.49" r="2.4" fill="#fdb913" stroke="#fff" stroke-width="0.4"/>
<circle cx="585.16" cy="58.08" r="2.4" fill="#fdb913" stroke="#fff" stroke-width="0.4"/>
<circle cx="657.33" cy="67.04" r="2.4" fill="#fdb913" stroke="#fff" stroke-width="0.4"/>
<circle cx="648.77" cy="37.61" r="2.4" fill="#fdb913" stroke="#fff" stroke-width="0.4"/>
<circle cx="585.06" cy="70.4" r="2.4" fill="#fdb913" stroke="#fff" stroke-width="0.4"/>
<circle cx="613.25" cy="50.4" r="2.4" fill="#fdb913" stroke="#fff" stroke-width="0.4"/>
<circle cx="601.37" cy="49.78" r="2.4" fill="#fdb913" stroke="#fff" stroke-width="0.4"/>
<circle cx="666.62" cy="45.43" r="2.4" fill="#fdb913" stroke="#fff" stroke-width="0.4"/>
<circle cx="652.02" cy="65.67" r="2.4" fill="#fdb913" stroke="#fff" stroke-width="0.4"/>
<circle cx="577.83" cy="65.51" r="2.4" fill="#fdb913" stroke="#fff" stroke-width="0.4"/>
<circle cx="644.75" cy="60.78" r="2.4" fill="#fdb913" stroke="#fff" stroke-width="0.4"/>
<circle cx="630.51" cy="54.91" r="2.4" fill="#fdb913" stroke="#fff" stroke-width="0.4"/>
<circle cx="581.65" cy="68.4" r="2.4" fill="#fdb913" stroke="#fff" stroke-width="0.4"/>
<circle cx="591.31" cy="55.97" r="2.4" fill="#fdb913" stroke="#fff" stroke-width="0.4"/>
<circle cx="622.54" cy="42.59" r="2.4" fill="#fdb913" stroke="#fff" stroke-width="0.4"/>
<circle cx="650.06" cy="46.08" r="2.4" fill="#fdb913" stroke="#fff" stroke-width="0.4"/>
<circle cx="663.09" cy="54.77" r="2.4" fill="#fdb913" stroke="#fff" stroke-width="0.4"/>
<circle cx="628.53" cy="44.74" r="2.4" fill="#fdb913" stroke="#fff" stroke-width="0.4"/>
<circle cx="661.46" cy="29.15" r="2.4" fill="#fdb913" stroke="#fff" stroke-width="0.4"/>
<circle cx="676.09" cy="30.13" r="2.4" fill="#fdb913" stroke="#fff" stroke-width="0.4"/>
<circle cx="667.27" cy="51.08" r="2.4" fill="#fdb913" stroke="#fff" stroke-width="0.4"/>
<circle cx="623.44" cy="60.79" r="2.4" fill="#fdb913" stroke="#fff" stroke-width="0.4"/>
<circle cx="607.22" cy="64.06" r="2.4" fill="#fdb913" stroke="#fff" stroke-width="0.4"/>
<circle cx="605.45" cy="57.43" r="2.4" fill="#fdb913" stroke="#fff" stroke-width="0.4"/>
<circle cx="659.01" cy="33.65" r="2.4" fill="#fdb913" stroke="#fff" stroke-width="0.4"/>
<circle cx="662.26" cy="58.42" r="2.4" fill="#fdb913" stroke="#fff" stroke-width="0.4"/>
<circle cx="558.55" cy="69.34" r="2.4" fill="#fdb913" stroke="#fff" stroke-width="0.4"/>
<circle cx="566.84" cy="74.93" r="2.4" fill="#fdb913" stroke="#fff" stroke-width="0.4"/>
<circle cx="575.13" cy="60.42" r="2.4" fill="#fdb913" stroke="#fff" stroke-width="0.4"/>
<circle cx="674.01" cy="63.53" r="2.4" fill="#fdb913" stroke="#fff" stroke-width="0.4"/>
<circle cx="669.87" cy="75.56" r="2.4" fill="#fdb913" stroke="#fff" stroke-width="0.4"/>
<circle cx="655.98" cy="74.93" r="2.4" fill="#fdb913" stroke="#fff" stroke-width="0.4"/>
<circle cx="639.81" cy="74.31" r="2.4" fill="#fdb913" stroke="#fff" stroke-width="0.4"/>
<circle cx="585.5" cy="70.79" r="2.4" fill="#fdb913" stroke="#fff" stroke-width="0.4"/>
<circle cx="589.64" cy="74.93" r="2.4" fill="#fdb913" stroke="#fff" stroke-width="0.4"/>
<circle cx="593.79" cy="71.82" r="2.4" fill="#fdb913" stroke="#fff" stroke-width="0.4"/>
<circle cx="597.93" cy="75.56" r="2.4" fill="#fdb913" stroke="#fff" stroke-width="0.4"/>
<circle cx="576.17" cy="72.86" r="2.4" fill="#fdb913" stroke="#fff" stroke-width="0.4"/>
<circle cx="560.62" cy="84.36" r="2.4" fill="#fdb913" stroke="#fff" stroke-width="0.4"/>
<circle cx="594.2" cy="87.89" r="2.4" fill="#fdb913" stroke="#fff" stroke-width="0.4"/>
<circle cx="566.84" cy="75.04" r="2.4" fill="#fdb913" stroke="#fff" stroke-width="0.4"/>
<circle cx="579.28" cy="77.11" r="2.4" fill="#fdb913" stroke="#fff" stroke-width="0.4"/>
<circle cx="585.5" cy="75.04" r="2.4" fill="#fdb913" stroke="#fff" stroke-width="0.4"/>
<circle cx="592.75" cy="78.15" r="2.4" fill="#fdb913" stroke="#fff" stroke-width="0.4"/>
<circle cx="597.93" cy="75.04" r="2.4" fill="#fdb913" stroke="#fff" stroke-width="0.4"/>
<circle cx="600.63" cy="78.56" r="2.4" fill="#fdb913" stroke="#fff" stroke-width="0.4"/>
<circle cx="637.32" cy="79.8" r="2.4" fill="#fdb913" stroke="#fff" stroke-width="0.4"/>
<circle cx="639.39" cy="74.62" r="2.4" fill="#fdb913" stroke="#fff" stroke-width="0.4"/>
<circle cx="655.56" cy="75.04" r="2.4" fill="#fdb913" stroke="#fff" stroke-width="0.4"/>
<circle cx="669.87" cy="76.07" r="2.4" fill="#fdb913" stroke="#fff" stroke-width="0.4"/>
<circle cx="653.9" cy="103.44" r="2.4" fill="#fdb913" stroke="#fff" stroke-width="0.4"/>
<circle cx="606.27" cy="115.01" r="2.4" fill="#8c3a0c" stroke="#fff" stroke-width="0.4"/>
<circle cx="595.52" cy="95.89" r="2.4" fill="#8c3a0c" stroke="#fff" stroke-width="0.4"/>
<circle cx="596.47" cy="97.38" r="2.4" fill="#8c3a0c" stroke="#fff" stroke-width="0.4"/>
<circle cx="592.45" cy="97.95" r="2.4" fill="#8c3a0c" stroke="#fff" stroke-width="0.4"/>
<circle cx="627.24" cy="90.67" r="2.4" fill="#8c3a0c" stroke="#fff" stroke-width="0.4"/>
<circle cx="625.15" cy="85.37" r="2.4" fill="#8c3a0c" stroke="#fff" stroke-width="0.4"/>
<circle cx="632.06" cy="86.19" r="2.4" fill="#8c3a0c" stroke="#fff" stroke-width="0.4"/>
<circle cx="609.37" cy="86.35" r="2.4" fill="#8c3a0c" stroke="#fff" stroke-width="0.4"/>
<circle cx="588.98" cy="113.54" r="2.4" fill="#8c3a0c" stroke="#fff" stroke-width="0.4"/>
<circle cx="634.68" cy="103.04" r="2.4" fill="#8c3a0c" stroke="#fff" stroke-width="0.4"/>
<circle cx="600.77" cy="87.77" r="2.4" fill="#8c3a0c" stroke="#fff" stroke-width="0.4"/>
<circle cx="619.97" cy="107.17" r="2.4" fill="#8c3a0c" stroke="#fff" stroke-width="0.4"/>
<circle cx="638.97" cy="86.15" r="2.4" fill="#8c3a0c" stroke="#fff" stroke-width="0.4"/>
<circle cx="634.52" cy="105.28" r="2.4" fill="#8c3a0c" stroke="#fff" stroke-width="0.4"/>
<circle cx="580.01" cy="108.52" r="2.4" fill="#8c3a0c" stroke="#fff" stroke-width="0.4"/>
<circle cx="617.74" cy="97.22" r="2.4" fill="#8c3a0c" stroke="#fff" stroke-width="0.4"/>
<circle cx="601.02" cy="100.82" r="2.4" fill="#8c3a0c" stroke="#fff" stroke-width="0.4"/>
<circle cx="602.07" cy="95.73" r="2.4" fill="#8c3a0c" stroke="#fff" stroke-width="0.4"/>
<circle cx="630.7" cy="107.07" r="2.4" fill="#8c3a0c" stroke="#fff" stroke-width="0.4"/>
<circle cx="605.26" cy="106.82" r="2.4" fill="#8c3a0c" stroke="#fff" stroke-width="0.4"/>
<circle cx="608.26" cy="94.01" r="2.4" fill="#8c3a0c" stroke="#fff" stroke-width="0.4"/>
<circle cx="641" cy="89.26" r="2.4" fill="#8c3a0c" stroke="#fff" stroke-width="0.4"/>
<circle cx="625.55" cy="89.88" r="2.4" fill="#8c3a0c" stroke="#fff" stroke-width="0.4"/>
<circle cx="623.89" cy="113.98" r="2.4" fill="#8c3a0c" stroke="#fff" stroke-width="0.4"/>
<circle cx="616.34" cy="90.21" r="2.4" fill="#8c3a0c" stroke="#fff" stroke-width="0.4"/>
<circle cx="594.35" cy="99.64" r="2.4" fill="#8c3a0c" stroke="#fff" stroke-width="0.4"/>
<circle cx="601.15" cy="107.32" r="2.4" fill="#8c3a0c" stroke="#fff" stroke-width="0.4"/>
<circle cx="599.76" cy="104.08" r="2.4" fill="#8c3a0c" stroke="#fff" stroke-width="0.4"/>
<circle cx="611.34" cy="97.16" r="2.4" fill="#8c3a0c" stroke="#fff" stroke-width="0.4"/>
<circle cx="608.96" cy="96.31" r="2.4" fill="#8c3a0c" stroke="#fff" stroke-width="0.4"/>
<circle cx="633.29" cy="92.1" r="2.4" fill="#8c3a0c" stroke="#fff" stroke-width="0.4"/>
<circle cx="626.08" cy="81.02" r="2.4" fill="#8c3a0c" stroke="#fff" stroke-width="0.4"/>
<circle cx="598.37" cy="94.11" r="2.4" fill="#8c3a0c" stroke="#fff" stroke-width="0.4"/>
<circle cx="612.03" cy="111.01" r="2.4" fill="#8c3a0c" stroke="#fff" stroke-width="0.4"/>
<circle cx="618.87" cy="114.75" r="2.4" fill="#8c3a0c" stroke="#fff" stroke-width="0.4"/>
<circle cx="601.29" cy="93.43" r="2.4" fill="#8c3a0c" stroke="#fff" stroke-width="0.4"/>
<circle cx="628.47" cy="82.69" r="2.4" fill="#8c3a0c" stroke="#fff" stroke-width="0.4"/>
<circle cx="610.85" cy="105.44" r="2.4" fill="#8c3a0c" stroke="#fff" stroke-width="0.4"/>
<circle cx="605.71" cy="89.71" r="2.4" fill="#8c3a0c" stroke="#fff" stroke-width="0.4"/>
<circle cx="619.78" cy="92.47" r="2.4" fill="#8c3a0c" stroke="#fff" stroke-width="0.4"/>
<circle cx="603.43" cy="112.59" r="2.4" fill="#8c3a0c" stroke="#fff" stroke-width="0.4"/>
<circle cx="610.82" cy="88.28" r="2.4" fill="#8c3a0c" stroke="#fff" stroke-width="0.4"/>
<circle cx="607.15" cy="86.1" r="2.4" fill="#8c3a0c" stroke="#fff" stroke-width="0.4"/>
<circle cx="589.96" cy="101.04" r="2.4" fill="#8c3a0c" stroke="#fff" stroke-width="0.4"/>
<circle cx="594.46" cy="110.3" r="2.4" fill="#8c3a0c" stroke="#fff" stroke-width="0.4"/>
<circle cx="603.21" cy="93.8" r="2.4" fill="#8c3a0c" stroke="#fff" stroke-width="0.4"/>
<circle cx="584.64" cy="106.33" r="2.4" fill="#8c3a0c" stroke="#fff" stroke-width="0.4"/>
<circle cx="627.49" cy="88.21" r="2.4" fill="#8c3a0c" stroke="#fff" stroke-width="0.4"/>
<circle cx="622.3" cy="96.02" r="2.4" fill="#8c3a0c" stroke="#fff" stroke-width="0.4"/>
<circle cx="616.43" cy="104.67" r="2.4" fill="#8c3a0c" stroke="#fff" stroke-width="0.4"/>
<circle cx="618.18" cy="93.08" r="2.4" fill="#8c3a0c" stroke="#fff" stroke-width="0.4"/>
<circle cx="609.08" cy="116.73" r="2.4" fill="#8c3a0c" stroke="#fff" stroke-width="0.4"/>
<circle cx="631.68" cy="83.6" r="2.4" fill="#8c3a0c" stroke="#fff" stroke-width="0.4"/>
<circle cx="606.19" cy="95.66" r="2.4" fill="#8c3a0c" stroke="#fff" stroke-width="0.4"/>
<circle cx="612.57" cy="81.01" r="2.4" fill="#8c3a0c" stroke="#fff" stroke-width="0.4"/>
<circle cx="623.52" cy="101.26" r="2.4" fill="#8c3a0c" stroke="#fff" stroke-width="0.4"/>
<circle cx="622.4" cy="109.29" r="2.4" fill="#8c3a0c" stroke="#fff" stroke-width="0.4"/>
<circle cx="587.5" cy="96.67" r="2.4" fill="#8c3a0c" stroke="#fff" stroke-width="0.4"/>
<circle cx="587.25" cy="112.64" r="2.4" fill="#8c3a0c" stroke="#fff" stroke-width="0.4"/>
<circle cx="600.03" cy="108.97" r="2.4" fill="#8c3a0c" stroke="#fff" stroke-width="0.4"/>
<circle cx="607.65" cy="100.4" r="2.4" fill="#8c3a0c" stroke="#fff" stroke-width="0.4"/>
<circle cx="591.97" cy="114.5" r="2.4" fill="#8c3a0c" stroke="#fff" stroke-width="0.4"/>
<circle cx="577.85" cy="109.79" r="2.4" fill="#8c3a0c" stroke="#fff" stroke-width="0.4"/>
<circle cx="636.51" cy="103.79" r="2.4" fill="#8c3a0c" stroke="#fff" stroke-width="0.4"/>
<circle cx="634.91" cy="97.79" r="2.4" fill="#8c3a0c" stroke="#fff" stroke-width="0.4"/>
<circle cx="631.77" cy="108.75" r="2.4" fill="#8c3a0c" stroke="#fff" stroke-width="0.4"/>
<circle cx="612.83" cy="104.36" r="2.4" fill="#8c3a0c" stroke="#fff" stroke-width="0.4"/>
<circle cx="623.06" cy="105.79" r="2.4" fill="#8c3a0c" stroke="#fff" stroke-width="0.4"/>
<circle cx="594.45" cy="101.45" r="2.4" fill="#8c3a0c" stroke="#fff" stroke-width="0.4"/>
<circle cx="609.74" cy="91.47" r="2.4" fill="#8c3a0c" stroke="#fff" stroke-width="0.4"/>
<circle cx="581.19" cy="101.83" r="2.4" fill="#8c3a0c" stroke="#fff" stroke-width="0.4"/>
<circle cx="624.41" cy="102.86" r="2.4" fill="#8c3a0c" stroke="#fff" stroke-width="0.4"/>
<circle cx="620.69" cy="101.3" r="2.4" fill="#8c3a0c" stroke="#fff" stroke-width="0.4"/>
<circle cx="580.07" cy="112.98" r="2.4" fill="#8c3a0c" stroke="#fff" stroke-width="0.4"/>
<circle cx="619.55" cy="103.81" r="2.4" fill="#8c3a0c" stroke="#fff" stroke-width="0.4"/>
<circle cx="603.85" cy="84.51" r="2.4" fill="#8c3a0c" stroke="#fff" stroke-width="0.4"/>
<circle cx="628.68" cy="89.43" r="2.4" fill="#8c3a0c" stroke="#fff" stroke-width="0.4"/>
<circle cx="614.86" cy="81.77" r="2.4" fill="#8c3a0c" stroke="#fff" stroke-width="0.4"/>
<circle cx="617.32" cy="116.15" r="2.4" fill="#8c3a0c" stroke="#fff" stroke-width="0.4"/>
<circle cx="635.8" cy="92.28" r="2.4" fill="#8c3a0c" stroke="#fff" stroke-width="0.4"/>
<circle cx="631.47" cy="89.6" r="2.4" fill="#8c3a0c" stroke="#fff" stroke-width="0.4"/>
<circle cx="618.77" cy="84.45" r="2.4" fill="#8c3a0c" stroke="#fff" stroke-width="0.4"/>
<circle cx="603.78" cy="97.56" r="2.4" fill="#8c3a0c" stroke="#fff" stroke-width="0.4"/>
<circle cx="599.1" cy="96.11" r="2.4" fill="#8c3a0c" stroke="#fff" stroke-width="0.4"/>
<circle cx="626.68" cy="102.35" r="2.4" fill="#8c3a0c" stroke="#fff" stroke-width="0.4"/>
<circle cx="614.67" cy="113.9" r="2.4" fill="#8c3a0c" stroke="#fff" stroke-width="0.4"/>
<circle cx="628.55" cy="94.82" r="2.4" fill="#8c3a0c" stroke="#fff" stroke-width="0.4"/>
<circle cx="605.97" cy="93.83" r="2.4" fill="#8c3a0c" stroke="#fff" stroke-width="0.4"/>
<circle cx="603.51" cy="89.94" r="2.4" fill="#8c3a0c" stroke="#fff" stroke-width="0.4"/>
<circle cx="622.36" cy="98.52" r="2.4" fill="#8c3a0c" stroke="#fff" stroke-width="0.4"/>
<circle cx="589.05" cy="111.48" r="2.4" fill="#8c3a0c" stroke="#fff" stroke-width="0.4"/>
<circle cx="628.92" cy="111.5" r="2.4" fill="#8c3a0c" stroke="#fff" stroke-width="0.4"/>
<circle cx="583.65" cy="108.46" r="2.4" fill="#8c3a0c" stroke="#fff" stroke-width="0.4"/>
<circle cx="597.94" cy="110.03" r="2.4" fill="#8c3a0c" stroke="#fff" stroke-width="0.4"/>
<circle cx="579.42" cy="110.71" r="2.4" fill="#8c3a0c" stroke="#fff" stroke-width="0.4"/>
<circle cx="604.48" cy="116.24" r="2.4" fill="#8c3a0c" stroke="#fff" stroke-width="0.4"/>
<circle cx="582.18" cy="103.7" r="2.4" fill="#8c3a0c" stroke="#fff" stroke-width="0.4"/>
<circle cx="622.76" cy="85.93" r="2.4" fill="#8c3a0c" stroke="#fff" stroke-width="0.4"/>
<circle cx="593.23" cy="105.37" r="2.4" fill="#8c3a0c" stroke="#fff" stroke-width="0.4"/>
<circle cx="630.87" cy="95.2" r="2.4" fill="#8c3a0c" stroke="#fff" stroke-width="0.4"/>
<circle cx="587.48" cy="94.9" r="2.4" fill="#8c3a0c" stroke="#fff" stroke-width="0.4"/>
<circle cx="616.42" cy="99.3" r="2.4" fill="#8c3a0c" stroke="#fff" stroke-width="0.4"/>
<circle cx="617.25" cy="87.56" r="2.4" fill="#8c3a0c" stroke="#fff" stroke-width="0.4"/>
<circle cx="628.02" cy="109.65" r="2.4" fill="#8c3a0c" stroke="#fff" stroke-width="0.4"/>
<circle cx="601.81" cy="98.29" r="2.4" fill="#8c3a0c" stroke="#fff" stroke-width="0.4"/>
<circle cx="601.47" cy="114.45" r="2.4" fill="#8c3a0c" stroke="#fff" stroke-width="0.4"/>
<circle cx="636.83" cy="85.62" r="2.4" fill="#8c3a0c" stroke="#fff" stroke-width="0.4"/>
<circle cx="610.38" cy="114.11" r="2.4" fill="#8c3a0c" stroke="#fff" stroke-width="0.4"/>
<circle cx="620.62" cy="84.29" r="2.4" fill="#8c3a0c" stroke="#fff" stroke-width="0.4"/>
<circle cx="634.06" cy="89.79" r="2.4" fill="#8c3a0c" stroke="#fff" stroke-width="0.4"/>
<circle cx="634.09" cy="94.36" r="2.4" fill="#8c3a0c" stroke="#fff" stroke-width="0.4"/>
<circle cx="622.83" cy="88.85" r="2.4" fill="#8c3a0c" stroke="#fff" stroke-width="0.4"/>
<circle cx="597.15" cy="103.2" r="2.4" fill="#8c3a0c" stroke="#fff" stroke-width="0.4"/>
<circle cx="604.69" cy="103.71" r="2.4" fill="#8c3a0c" stroke="#fff" stroke-width="0.4"/>
<circle cx="633.31" cy="84.97" r="2.4" fill="#8c3a0c" stroke="#fff" stroke-width="0.4"/>
<circle cx="601.59" cy="90.02" r="2.4" fill="#8c3a0c" stroke="#fff" stroke-width="0.4"/>
<circle cx="611.09" cy="109.3" r="2.4" fill="#8c3a0c" stroke="#fff" stroke-width="0.4"/>
<circle cx="617.33" cy="111.61" r="2.4" fill="#8c3a0c" stroke="#fff" stroke-width="0.4"/>
<circle cx="630.81" cy="99.63" r="2.4" fill="#8c3a0c" stroke="#fff" stroke-width="0.4"/>
<circle cx="599.66" cy="116.16" r="2.4" fill="#8c3a0c" stroke="#fff" stroke-width="0.4"/>
<circle cx="627.88" cy="92.55" r="2.4" fill="#8c3a0c" stroke="#fff" stroke-width="0.4"/>
<circle cx="637.89" cy="102.38" r="2.4" fill="#8c3a0c" stroke="#fff" stroke-width="0.4"/>
<circle cx="603.52" cy="114.79" r="2.4" fill="#8c3a0c" stroke="#fff" stroke-width="0.4"/>
<circle cx="618.76" cy="86.78" r="2.4" fill="#8c3a0c" stroke="#fff" stroke-width="0.4"/>
<circle cx="593.69" cy="113.41" r="2.4" fill="#8c3a0c" stroke="#fff" stroke-width="0.4"/>
<circle cx="613.01" cy="112.77" r="2.4" fill="#8c3a0c" stroke="#fff" stroke-width="0.4"/>
<circle cx="590.94" cy="109.53" r="2.4" fill="#8c3a0c" stroke="#fff" stroke-width="0.4"/>
<circle cx="594.42" cy="91.71" r="2.4" fill="#8c3a0c" stroke="#fff" stroke-width="0.4"/>
<circle cx="612.4" cy="117.34" r="2.4" fill="#8c3a0c" stroke="#fff" stroke-width="0.4"/>
<circle cx="612.08" cy="99.76" r="2.4" fill="#8c3a0c" stroke="#fff" stroke-width="0.4"/>
<circle cx="606.55" cy="108.89" r="2.4" fill="#8c3a0c" stroke="#fff" stroke-width="0.4"/>
<circle cx="622.47" cy="111.29" r="2.4" fill="#8c3a0c" stroke="#fff" stroke-width="0.4"/>
<circle cx="601.88" cy="110.37" r="2.4" fill="#8c3a0c" stroke="#fff" stroke-width="0.4"/>
<circle cx="627.53" cy="104.9" r="2.4" fill="#8c3a0c" stroke="#fff" stroke-width="0.4"/>
<circle cx="598.37" cy="106.62" r="2.4" fill="#8c3a0c" stroke="#fff" stroke-width="0.4"/>
<circle cx="598.48" cy="111.73" r="2.4" fill="#8c3a0c" stroke="#fff" stroke-width="0.4"/>
<circle cx="606.05" cy="83.77" r="2.4" fill="#8c3a0c" stroke="#fff" stroke-width="0.4"/>
<circle cx="602.65" cy="103.71" r="2.4" fill="#8c3a0c" stroke="#fff" stroke-width="0.4"/>
<circle cx="627.01" cy="85.71" r="2.4" fill="#8c3a0c" stroke="#fff" stroke-width="0.4"/>
<circle cx="578.23" cy="112.91" r="2.4" fill="#8c3a0c" stroke="#fff" stroke-width="0.4"/>
<circle cx="606.14" cy="98.49" r="2.4" fill="#8c3a0c" stroke="#fff" stroke-width="0.4"/>
<circle cx="583.12" cy="101.44" r="2.4" fill="#8c3a0c" stroke="#fff" stroke-width="0.4"/>
<circle cx="578.7" cy="106.93" r="2.4" fill="#8c3a0c" stroke="#fff" stroke-width="0.4"/>
<circle cx="581.65" cy="109.91" r="2.4" fill="#8c3a0c" stroke="#fff" stroke-width="0.4"/>
<circle cx="639.85" cy="92.31" r="2.4" fill="#8c3a0c" stroke="#fff" stroke-width="0.4"/>
<circle cx="603.9" cy="105.69" r="2.4" fill="#8c3a0c" stroke="#fff" stroke-width="0.4"/>
<circle cx="597.99" cy="99.34" r="2.4" fill="#8c3a0c" stroke="#fff" stroke-width="0.4"/>
<circle cx="629.39" cy="100.91" r="2.4" fill="#8c3a0c" stroke="#fff" stroke-width="0.4"/>
<circle cx="619.79" cy="89.29" r="2.4" fill="#8c3a0c" stroke="#fff" stroke-width="0.4"/>
<circle cx="608.01" cy="82.98" r="2.4" fill="#8c3a0c" stroke="#fff" stroke-width="0.4"/>
<circle cx="624.07" cy="91.47" r="2.4" fill="#8c3a0c" stroke="#fff" stroke-width="0.4"/>
<circle cx="616.35" cy="85.45" r="2.4" fill="#8c3a0c" stroke="#fff" stroke-width="0.4"/>
<circle cx="603.02" cy="86.94" r="2.4" fill="#8c3a0c" stroke="#fff" stroke-width="0.4"/>
<circle cx="634.54" cy="82.85" r="2.4" fill="#8c3a0c" stroke="#fff" stroke-width="0.4"/>
<circle cx="639.02" cy="100.38" r="2.4" fill="#8c3a0c" stroke="#fff" stroke-width="0.4"/>
<circle cx="599.59" cy="90.04" r="2.4" fill="#8c3a0c" stroke="#fff" stroke-width="0.4"/>
<circle cx="616.97" cy="107.59" r="2.4" fill="#8c3a0c" stroke="#fff" stroke-width="0.4"/>
<circle cx="605.01" cy="86.08" r="2.4" fill="#8c3a0c" stroke="#fff" stroke-width="0.4"/>
<circle cx="615.45" cy="92.73" r="2.4" fill="#8c3a0c" stroke="#fff" stroke-width="0.4"/>
<circle cx="585.56" cy="99.17" r="2.4" fill="#8c3a0c" stroke="#fff" stroke-width="0.4"/>
<circle cx="629.1" cy="97.44" r="2.4" fill="#8c3a0c" stroke="#fff" stroke-width="0.4"/>
<circle cx="595.47" cy="112.92" r="2.4" fill="#8c3a0c" stroke="#fff" stroke-width="0.4"/>
<circle cx="639.51" cy="96.01" r="2.4" fill="#8c3a0c" stroke="#fff" stroke-width="0.4"/>
<circle cx="634.21" cy="99.47" r="2.4" fill="#8c3a0c" stroke="#fff" stroke-width="0.4"/>
<circle cx="590.51" cy="97.55" r="2.4" fill="#8c3a0c" stroke="#fff" stroke-width="0.4"/>
<circle cx="615.88" cy="110.34" r="2.4" fill="#8c3a0c" stroke="#fff" stroke-width="0.4"/>
<circle cx="582" cy="115.35" r="2.4" fill="#8c3a0c" stroke="#fff" stroke-width="0.4"/>
<circle cx="584.94" cy="112.49" r="2.4" fill="#8c3a0c" stroke="#fff" stroke-width="0.4"/>
<circle cx="611.8" cy="94.75" r="2.4" fill="#8c3a0c" stroke="#fff" stroke-width="0.4"/>
<circle cx="625.88" cy="113.4" r="2.4" fill="#8c3a0c" stroke="#fff" stroke-width="0.4"/>
<circle cx="620.8" cy="82.34" r="2.4" fill="#8c3a0c" stroke="#fff" stroke-width="0.4"/>
<circle cx="631.75" cy="102.28" r="2.4" fill="#8c3a0c" stroke="#fff" stroke-width="0.4"/>
<circle cx="619.33" cy="99.5" r="2.4" fill="#8c3a0c" stroke="#fff" stroke-width="0.4"/>
<circle cx="639.61" cy="98.55" r="2.4" fill="#8c3a0c" stroke="#fff" stroke-width="0.4"/>
<circle cx="615.12" cy="116.77" r="2.4" fill="#8c3a0c" stroke="#fff" stroke-width="0.4"/>
<circle cx="636.24" cy="100.85" r="2.4" fill="#8c3a0c" stroke="#fff" stroke-width="0.4"/>
<circle cx="592.07" cy="94.39" r="2.4" fill="#8c3a0c" stroke="#fff" stroke-width="0.4"/>
<circle cx="624.59" cy="83.19" r="2.4" fill="#8c3a0c" stroke="#fff" stroke-width="0.4"/>
<circle cx="590.97" cy="92.96" r="2.4" fill="#8c3a0c" stroke="#fff" stroke-width="0.4"/>
<circle cx="620.35" cy="95.49" r="2.4" fill="#8c3a0c" stroke="#fff" stroke-width="0.4"/>
<circle cx="589.8" cy="104.58" r="2.4" fill="#8c3a0c" stroke="#fff" stroke-width="0.4"/>
<circle cx="614.64" cy="97.5" r="2.4" fill="#8c3a0c" stroke="#fff" stroke-width="0.4"/>
<circle cx="612.37" cy="91.82" r="2.4" fill="#8c3a0c" stroke="#fff" stroke-width="0.4"/>
<circle cx="586.1" cy="100.91" r="2.4" fill="#8c3a0c" stroke="#fff" stroke-width="0.4"/>
<circle cx="596.12" cy="106.65" r="2.4" fill="#8c3a0c" stroke="#fff" stroke-width="0.4"/>
<circle cx="586.91" cy="114.52" r="2.4" fill="#8c3a0c" stroke="#fff" stroke-width="0.4"/>
<circle cx="581.17" cy="105.23" r="2.4" fill="#8c3a0c" stroke="#fff" stroke-width="0.4"/>
<circle cx="596.35" cy="111.2" r="2.4" fill="#8c3a0c" stroke="#fff" stroke-width="0.4"/>
<circle cx="623.5" cy="94.17" r="2.4" fill="#8c3a0c" stroke="#fff" stroke-width="0.4"/>
<circle cx="638.18" cy="94.35" r="2.4" fill="#8c3a0c" stroke="#fff" stroke-width="0.4"/>
<circle cx="606.64" cy="103.57" r="2.4" fill="#8c3a0c" stroke="#fff" stroke-width="0.4"/>
<circle cx="620.98" cy="86.68" r="2.4" fill="#8c3a0c" stroke="#fff" stroke-width="0.4"/>
<circle cx="637.53" cy="99.29" r="2.4" fill="#8c3a0c" stroke="#fff" stroke-width="0.4"/>
<circle cx="617.3" cy="102.06" r="2.4" fill="#8c3a0c" stroke="#fff" stroke-width="0.4"/>
<circle cx="616.91" cy="94.82" r="2.4" fill="#8c3a0c" stroke="#fff" stroke-width="0.4"/>
<circle cx="614.79" cy="86.8" r="2.4" fill="#8c3a0c" stroke="#fff" stroke-width="0.4"/>
<circle cx="625.72" cy="106.68" r="2.4" fill="#8c3a0c" stroke="#fff" stroke-width="0.4"/>
<circle cx="578.99" cy="103.26" r="2.4" fill="#8c3a0c" stroke="#fff" stroke-width="0.4"/>
<circle cx="604.02" cy="108.44" r="2.4" fill="#8c3a0c" stroke="#fff" stroke-width="0.4"/>
<circle cx="587.03" cy="109.64" r="2.4" fill="#8c3a0c" stroke="#fff" stroke-width="0.4"/>
<circle cx="634.66" cy="86.42" r="2.4" fill="#8c3a0c" stroke="#fff" stroke-width="0.4"/>
<circle cx="625.58" cy="111.45" r="2.4" fill="#8c3a0c" stroke="#fff" stroke-width="0.4"/>
<circle cx="620.23" cy="97.4" r="2.4" fill="#8c3a0c" stroke="#fff" stroke-width="0.4"/>
<circle cx="638.1" cy="92.22" r="2.4" fill="#8c3a0c" stroke="#fff" stroke-width="0.4"/>
<circle cx="598.91" cy="91.9" r="2.4" fill="#8c3a0c" stroke="#fff" stroke-width="0.4"/>
<circle cx="582.85" cy="105.62" r="2.4" fill="#8c3a0c" stroke="#fff" stroke-width="0.4"/>
<circle cx="620.45" cy="108.9" r="2.4" fill="#8c3a0c" stroke="#fff" stroke-width="0.4"/>
<circle cx="594.25" cy="107.88" r="2.4" fill="#8c3a0c" stroke="#fff" stroke-width="0.4"/>
<circle cx="613.54" cy="110.15" r="2.4" fill="#8c3a0c" stroke="#fff" stroke-width="0.4"/>
<circle cx="636.67" cy="90.79" r="2.4" fill="#8c3a0c" stroke="#fff" stroke-width="0.4"/>
<circle cx="637.08" cy="88.38" r="2.4" fill="#8c3a0c" stroke="#fff" stroke-width="0.4"/>
<circle cx="613.43" cy="83.14" r="2.4" fill="#8c3a0c" stroke="#fff" stroke-width="0.4"/>
<circle cx="614.01" cy="85.23" r="2.4" fill="#8c3a0c" stroke="#fff" stroke-width="0.4"/>
<circle cx="630.09" cy="91.49" r="2.4" fill="#8c3a0c" stroke="#fff" stroke-width="0.4"/>
<circle cx="590.97" cy="95.87" r="2.4" fill="#8c3a0c" stroke="#fff" stroke-width="0.4"/>
<circle cx="639.43" cy="90.05" r="2.4" fill="#8c3a0c" stroke="#fff" stroke-width="0.4"/>
<circle cx="637.94" cy="83.82" r="2.4" fill="#8c3a0c" stroke="#fff" stroke-width="0.4"/>
<circle cx="609.87" cy="82.01" r="2.4" fill="#8c3a0c" stroke="#fff" stroke-width="0.4"/>
<circle cx="591.57" cy="103.98" r="2.4" fill="#8c3a0c" stroke="#fff" stroke-width="0.4"/>
<circle cx="614.4" cy="99.62" r="2.4" fill="#8c3a0c" stroke="#fff" stroke-width="0.4"/>
<circle cx="608.77" cy="102.79" r="2.4" fill="#8c3a0c" stroke="#fff" stroke-width="0.4"/>
<circle cx="604.91" cy="91.77" r="2.4" fill="#8c3a0c" stroke="#fff" stroke-width="0.4"/>
<circle cx="584.17" cy="114.11" r="2.4" fill="#8c3a0c" stroke="#fff" stroke-width="0.4"/>
<circle cx="609.01" cy="89.07" r="2.4" fill="#8c3a0c" stroke="#fff" stroke-width="0.4"/>
<circle cx="632.86" cy="87.78" r="2.4" fill="#8c3a0c" stroke="#fff" stroke-width="0.4"/>
<circle cx="549.84" cy="90.58" r="2.4" fill="#8c3a0c" stroke="#fff" stroke-width="0.4"/>
<circle cx="567.25" cy="93.69" r="2.4" fill="#8c3a0c" stroke="#fff" stroke-width="0.4"/>
<circle cx="576.79" cy="90.17" r="2.4" fill="#8c3a0c" stroke="#fff" stroke-width="0.4"/>
<circle cx="557.1" cy="105.09" r="2.4" fill="#8c3a0c" stroke="#fff" stroke-width="0.4"/>
<circle cx="567.25" cy="78.15" r="2.4" fill="#8c3a0c" stroke="#fff" stroke-width="0.4"/>
<circle cx="585.08" cy="125.82" r="2.4" fill="#8c3a0c" stroke="#fff" stroke-width="0.4"/>
<circle cx="592.13" cy="83.33" r="2.4" fill="#8c3a0c" stroke="#fff" stroke-width="0.4"/>
<circle cx="623.43" cy="76.07" r="2.4" fill="#8c3a0c" stroke="#fff" stroke-width="0.4"/>
<circle cx="586.53" cy="91.62" r="2.4" fill="#8c3a0c" stroke="#fff" stroke-width="0.4"/>
<circle cx="600.01" cy="83.74" r="2.4" fill="#8c3a0c" stroke="#fff" stroke-width="0.4"/>
<circle cx="550.26" cy="114.84" r="2.4" fill="#8c3a0c" stroke="#fff" stroke-width="0.4"/>
<circle cx="621.36" cy="104.68" r="2.4" fill="#fdb913" stroke="#fff" stroke-width="0.4"/>
<circle cx="619.7" cy="115.87" r="2.4" fill="#fdb913" stroke="#fff" stroke-width="0.4"/>
<circle cx="633.17" cy="88.1" r="2.4" fill="#fdb913" stroke="#fff" stroke-width="0.4"/>
<rect x="547.1" y="107.5" width="28.5" height="20.5" rx="1" fill="#eaeaf2" fill-opacity="0.8" stroke="#d8d8e2" stroke-opacity="0.7" stroke-width="0.4"/>
<circle cx="556.2" cy="113.2" r="1.35" fill="#8c3a0c"/>
<circle cx="556.2" cy="122.7" r="1.2" fill="#fdb913"/>
<text class="lg" x="568.7" y="115.1">1</text>
<text class="lg" x="568.7" y="124.7">2</text>
<rect x="375.1" y="152.9" width="140" height="109" fill="#eaeaf2"/>
<line x1="396.2" y1="152.9" x2="396.2" y2="261.9" stroke="#fff" stroke-opacity="0.2" stroke-width="0.6"/>
<text class="tk" x="396.2" y="269.5" text-anchor="middle">−2.0</text>
<line x1="426.6" y1="152.9" x2="426.6" y2="261.9" stroke="#fff" stroke-opacity="0.2" stroke-width="0.6"/>
<text class="tk" x="426.6" y="269.5" text-anchor="middle">−1.5</text>
<line x1="457" y1="152.9" x2="457" y2="261.9" stroke="#fff" stroke-opacity="0.2" stroke-width="0.6"/>
<text class="tk" x="457" y="269.5" text-anchor="middle">−1.0</text>
<line x1="487.4" y1="152.9" x2="487.4" y2="261.9" stroke="#fff" stroke-opacity="0.2" stroke-width="0.6"/>
<text class="tk" x="487.4" y="269.5" text-anchor="middle">−0.5</text>
<line x1="375.1" y1="163.4" x2="515.1" y2="163.4" stroke="#fff" stroke-opacity="0.2" stroke-width="0.6"/>
<text class="tk" x="374.1" y="166.2" text-anchor="end">0.5</text>
<line x1="375.1" y1="196" x2="515.1" y2="196" stroke="#fff" stroke-opacity="0.2" stroke-width="0.6"/>
<text class="tk" x="374.1" y="198.8" text-anchor="end">0.0</text>
<line x1="375.1" y1="228.6" x2="515.1" y2="228.6" stroke="#fff" stroke-opacity="0.2" stroke-width="0.6"/>
<text class="tk" x="374.1" y="231.4" text-anchor="end">−0.5</text>
<line x1="375.1" y1="261.2" x2="515.1" y2="261.2" stroke="#fff" stroke-opacity="0.2" stroke-width="0.6"/>
<text class="tk" x="374.1" y="264" text-anchor="end">−1.0</text>
<text class="ax" x="445.7" y="278.6" text-anchor="middle">f<tspan class="sub" dy="1.6">1</tspan></text>
<text class="ax" transform="translate(352 207) rotate(-90)" text-anchor="middle">f<tspan class="sub" dy="1.6">2</tspan></text>
<circle cx="467.34" cy="201.77" r="2.4" fill="#fdb913" stroke="#fff" stroke-width="0.4"/>
<circle cx="485.69" cy="210.5" r="2.4" fill="#fdb913" stroke="#fff" stroke-width="0.4"/>
<circle cx="479.8" cy="209.62" r="2.4" fill="#fdb913" stroke="#fff" stroke-width="0.4"/>
<circle cx="501.47" cy="197.73" r="2.4" fill="#fdb913" stroke="#fff" stroke-width="0.4"/>
<circle cx="458.91" cy="194.47" r="2.4" fill="#fdb913" stroke="#fff" stroke-width="0.4"/>
<circle cx="423.31" cy="178.87" r="2.4" fill="#fdb913" stroke="#fff" stroke-width="0.4"/>
<circle cx="458.43" cy="198.99" r="2.4" fill="#fdb913" stroke="#fff" stroke-width="0.4"/>
<circle cx="436.99" cy="182.98" r="2.4" fill="#fdb913" stroke="#fff" stroke-width="0.4"/>
<circle cx="434.63" cy="190.43" r="2.4" fill="#fdb913" stroke="#fff" stroke-width="0.4"/>
<circle cx="480.85" cy="206.25" r="2.4" fill="#fdb913" stroke="#fff" stroke-width="0.4"/>
<circle cx="500.01" cy="210.48" r="2.4" fill="#fdb913" stroke="#fff" stroke-width="0.4"/>
<circle cx="437.68" cy="184.93" r="2.4" fill="#fdb913" stroke="#fff" stroke-width="0.4"/>
<circle cx="485.9" cy="206.9" r="2.4" fill="#fdb913" stroke="#fff" stroke-width="0.4"/>
<circle cx="409.33" cy="175.98" r="2.4" fill="#fdb913" stroke="#fff" stroke-width="0.4"/>
<circle cx="464.26" cy="205.44" r="2.4" fill="#fdb913" stroke="#fff" stroke-width="0.4"/>
<circle cx="449.53" cy="187.85" r="2.4" fill="#fdb913" stroke="#fff" stroke-width="0.4"/>
<circle cx="468.14" cy="203.78" r="2.4" fill="#fdb913" stroke="#fff" stroke-width="0.4"/>
<circle cx="432.4" cy="189.21" r="2.4" fill="#fdb913" stroke="#fff" stroke-width="0.4"/>
<circle cx="503.22" cy="196.77" r="2.4" fill="#fdb913" stroke="#fff" stroke-width="0.4"/>
<circle cx="410.49" cy="181.35" r="2.4" fill="#fdb913" stroke="#fff" stroke-width="0.4"/>
<circle cx="484.29" cy="207.23" r="2.4" fill="#fdb913" stroke="#fff" stroke-width="0.4"/>
<circle cx="483.53" cy="199.71" r="2.4" fill="#fdb913" stroke="#fff" stroke-width="0.4"/>
<circle cx="471.72" cy="202.54" r="2.4" fill="#fdb913" stroke="#fff" stroke-width="0.4"/>
<circle cx="430.91" cy="190.63" r="2.4" fill="#fdb913" stroke="#fff" stroke-width="0.4"/>
<circle cx="470.19" cy="194.76" r="2.4" fill="#fdb913" stroke="#fff" stroke-width="0.4"/>
<circle cx="469.95" cy="204.2" r="2.4" fill="#fdb913" stroke="#fff" stroke-width="0.4"/>
<circle cx="493.65" cy="199.44" r="2.4" fill="#fdb913" stroke="#fff" stroke-width="0.4"/>
<circle cx="456.18" cy="192.53" r="2.4" fill="#fdb913" stroke="#fff" stroke-width="0.4"/>
<circle cx="474.64" cy="200.81" r="2.4" fill="#fdb913" stroke="#fff" stroke-width="0.4"/>
<circle cx="484.11" cy="194.77" r="2.4" fill="#fdb913" stroke="#fff" stroke-width="0.4"/>
<circle cx="468.83" cy="200.84" r="2.4" fill="#fdb913" stroke="#fff" stroke-width="0.4"/>
<circle cx="403.94" cy="176.46" r="2.4" fill="#fdb913" stroke="#fff" stroke-width="0.4"/>
<circle cx="406.77" cy="175.31" r="2.4" fill="#fdb913" stroke="#fff" stroke-width="0.4"/>
<circle cx="450.56" cy="186.04" r="2.4" fill="#fdb913" stroke="#fff" stroke-width="0.4"/>
<circle cx="466.16" cy="195.17" r="2.4" fill="#fdb913" stroke="#fff" stroke-width="0.4"/>
<circle cx="430.66" cy="187.34" r="2.4" fill="#fdb913" stroke="#fff" stroke-width="0.4"/>
<circle cx="487.58" cy="197.44" r="2.4" fill="#fdb913" stroke="#fff" stroke-width="0.4"/>
<circle cx="464.47" cy="194.03" r="2.4" fill="#fdb913" stroke="#fff" stroke-width="0.4"/>
<circle cx="441.03" cy="188.28" r="2.4" fill="#fdb913" stroke="#fff" stroke-width="0.4"/>
<circle cx="425.1" cy="182.18" r="2.4" fill="#fdb913" stroke="#fff" stroke-width="0.4"/>
<circle cx="503.36" cy="209.25" r="2.4" fill="#fdb913" stroke="#fff" stroke-width="0.4"/>
<circle cx="445.25" cy="183.38" r="2.4" fill="#fdb913" stroke="#fff" stroke-width="0.4"/>
<circle cx="484.25" cy="205.47" r="2.4" fill="#fdb913" stroke="#fff" stroke-width="0.4"/>
<circle cx="465.76" cy="190.15" r="2.4" fill="#fdb913" stroke="#fff" stroke-width="0.4"/>
<circle cx="480.34" cy="195.2" r="2.4" fill="#fdb913" stroke="#fff" stroke-width="0.4"/>
<circle cx="495.57" cy="193.23" r="2.4" fill="#fdb913" stroke="#fff" stroke-width="0.4"/>
<circle cx="446.55" cy="194.54" r="2.4" fill="#fdb913" stroke="#fff" stroke-width="0.4"/>
<circle cx="476.42" cy="197" r="2.4" fill="#fdb913" stroke="#fff" stroke-width="0.4"/>
<circle cx="442.05" cy="186.55" r="2.4" fill="#fdb913" stroke="#fff" stroke-width="0.4"/>
<circle cx="451.95" cy="193.39" r="2.4" fill="#fdb913" stroke="#fff" stroke-width="0.4"/>
<circle cx="485.32" cy="198.37" r="2.4" fill="#fdb913" stroke="#fff" stroke-width="0.4"/>
<circle cx="408.67" cy="172" r="2.4" fill="#fdb913" stroke="#fff" stroke-width="0.4"/>
<circle cx="462.26" cy="201.79" r="2.4" fill="#fdb913" stroke="#fff" stroke-width="0.4"/>
<circle cx="460.1" cy="196.51" r="2.4" fill="#fdb913" stroke="#fff" stroke-width="0.4"/>
<circle cx="425.97" cy="185.65" r="2.4" fill="#fdb913" stroke="#fff" stroke-width="0.4"/>
<circle cx="410.71" cy="174.93" r="2.4" fill="#fdb913" stroke="#fff" stroke-width="0.4"/>
<circle cx="502.39" cy="199.13" r="2.4" fill="#fdb913" stroke="#fff" stroke-width="0.4"/>
<circle cx="504.59" cy="198.43" r="2.4" fill="#fdb913" stroke="#fff" stroke-width="0.4"/>
<circle cx="426.03" cy="184" r="2.4" fill="#fdb913" stroke="#fff" stroke-width="0.4"/>
<circle cx="489.51" cy="197.68" r="2.4" fill="#fdb913" stroke="#fff" stroke-width="0.4"/>
<circle cx="491.69" cy="192.01" r="2.4" fill="#fdb913" stroke="#fff" stroke-width="0.4"/>
<circle cx="466.97" cy="188.15" r="2.4" fill="#fdb913" stroke="#fff" stroke-width="0.4"/>
<circle cx="417.47" cy="176.42" r="2.4" fill="#fdb913" stroke="#fff" stroke-width="0.4"/>
<circle cx="428.06" cy="181.57" r="2.4" fill="#fdb913" stroke="#fff" stroke-width="0.4"/>
<circle cx="418.2" cy="181.99" r="2.4" fill="#fdb913" stroke="#fff" stroke-width="0.4"/>
<circle cx="474.24" cy="198.81" r="2.4" fill="#fdb913" stroke="#fff" stroke-width="0.4"/>
<circle cx="439.79" cy="183.07" r="2.4" fill="#fdb913" stroke="#fff" stroke-width="0.4"/>
<circle cx="479" cy="200.73" r="2.4" fill="#fdb913" stroke="#fff" stroke-width="0.4"/>
<circle cx="418.4" cy="179.96" r="2.4" fill="#fdb913" stroke="#fff" stroke-width="0.4"/>
<circle cx="469.79" cy="188.23" r="2.4" fill="#fdb913" stroke="#fff" stroke-width="0.4"/>
<circle cx="410.99" cy="172.6" r="2.4" fill="#fdb913" stroke="#fff" stroke-width="0.4"/>
<circle cx="428.2" cy="187.23" r="2.4" fill="#fdb913" stroke="#fff" stroke-width="0.4"/>
<circle cx="443.85" cy="192.61" r="2.4" fill="#fdb913" stroke="#fff" stroke-width="0.4"/>
<circle cx="499.12" cy="195.53" r="2.4" fill="#fdb913" stroke="#fff" stroke-width="0.4"/>
<circle cx="478.28" cy="209.22" r="2.4" fill="#fdb913" stroke="#fff" stroke-width="0.4"/>
<circle cx="413.32" cy="183.06" r="2.4" fill="#fdb913" stroke="#fff" stroke-width="0.4"/>
<circle cx="422.28" cy="181.94" r="2.4" fill="#fdb913" stroke="#fff" stroke-width="0.4"/>
<circle cx="481.12" cy="193.69" r="2.4" fill="#fdb913" stroke="#fff" stroke-width="0.4"/>
<circle cx="496.43" cy="197.95" r="2.4" fill="#fdb913" stroke="#fff" stroke-width="0.4"/>
<circle cx="408.02" cy="176.87" r="2.4" fill="#fdb913" stroke="#fff" stroke-width="0.4"/>
<circle cx="403.93" cy="171.7" r="2.4" fill="#fdb913" stroke="#fff" stroke-width="0.4"/>
<circle cx="492.57" cy="210.79" r="2.4" fill="#fdb913" stroke="#fff" stroke-width="0.4"/>
<circle cx="446.68" cy="185.26" r="2.4" fill="#fdb913" stroke="#fff" stroke-width="0.4"/>
<circle cx="500.95" cy="204.07" r="2.4" fill="#fdb913" stroke="#fff" stroke-width="0.4"/>
<circle cx="447.24" cy="188.7" r="2.4" fill="#fdb913" stroke="#fff" stroke-width="0.4"/>
<circle cx="482.74" cy="210.23" r="2.4" fill="#fdb913" stroke="#fff" stroke-width="0.4"/>
<circle cx="505.63" cy="206.05" r="2.4" fill="#fdb913" stroke="#fff" stroke-width="0.4"/>
<circle cx="491.51" cy="196.39" r="2.4" fill="#fdb913" stroke="#fff" stroke-width="0.4"/>
<circle cx="473.73" cy="207.05" r="2.4" fill="#fdb913" stroke="#fff" stroke-width="0.4"/>
<circle cx="455.5" cy="195.02" r="2.4" fill="#fdb913" stroke="#fff" stroke-width="0.4"/>
<circle cx="420.67" cy="186.43" r="2.4" fill="#fdb913" stroke="#fff" stroke-width="0.4"/>
<circle cx="434.24" cy="186.15" r="2.4" fill="#fdb913" stroke="#fff" stroke-width="0.4"/>
<circle cx="487.85" cy="209.69" r="2.4" fill="#fdb913" stroke="#fff" stroke-width="0.4"/>
<circle cx="473.36" cy="192.22" r="2.4" fill="#fdb913" stroke="#fff" stroke-width="0.4"/>
<circle cx="481.24" cy="198.64" r="2.4" fill="#fdb913" stroke="#fff" stroke-width="0.4"/>
<circle cx="470.55" cy="208.63" r="2.4" fill="#fdb913" stroke="#fff" stroke-width="0.4"/>
<circle cx="474.36" cy="193.57" r="2.4" fill="#fdb913" stroke="#fff" stroke-width="0.4"/>
<circle cx="433.54" cy="181.14" r="2.4" fill="#fdb913" stroke="#fff" stroke-width="0.4"/>
<circle cx="489.42" cy="207.72" r="2.4" fill="#fdb913" stroke="#fff" stroke-width="0.4"/>
<circle cx="446.3" cy="192.5" r="2.4" fill="#fdb913" stroke="#fff" stroke-width="0.4"/>
<circle cx="404.25" cy="174.53" r="2.4" fill="#fdb913" stroke="#fff" stroke-width="0.4"/>
<circle cx="420.58" cy="177.78" r="2.4" fill="#fdb913" stroke="#fff" stroke-width="0.4"/>
<circle cx="464.32" cy="197.62" r="2.4" fill="#fdb913" stroke="#fff" stroke-width="0.4"/>
<circle cx="489.89" cy="211.14" r="2.4" fill="#fdb913" stroke="#fff" stroke-width="0.4"/>
<circle cx="411.73" cy="177.92" r="2.4" fill="#fdb913" stroke="#fff" stroke-width="0.4"/>
<circle cx="479.41" cy="205.01" r="2.4" fill="#fdb913" stroke="#fff" stroke-width="0.4"/>
<circle cx="486.6" cy="200.52" r="2.4" fill="#fdb913" stroke="#fff" stroke-width="0.4"/>
<circle cx="412" cy="173.98" r="2.4" fill="#fdb913" stroke="#fff" stroke-width="0.4"/>
<circle cx="407.86" cy="178.48" r="2.4" fill="#fdb913" stroke="#fff" stroke-width="0.4"/>
<circle cx="473.47" cy="201.82" r="2.4" fill="#fdb913" stroke="#fff" stroke-width="0.4"/>
<circle cx="481.92" cy="200.87" r="2.4" fill="#fdb913" stroke="#fff" stroke-width="0.4"/>
<circle cx="452.01" cy="184.91" r="2.4" fill="#fdb913" stroke="#fff" stroke-width="0.4"/>
<circle cx="454.12" cy="199.81" r="2.4" fill="#fdb913" stroke="#fff" stroke-width="0.4"/>
<circle cx="432.52" cy="184.16" r="2.4" fill="#fdb913" stroke="#fff" stroke-width="0.4"/>
<circle cx="408.81" cy="181.29" r="2.4" fill="#fdb913" stroke="#fff" stroke-width="0.4"/>
<circle cx="448.14" cy="190.03" r="2.4" fill="#fdb913" stroke="#fff" stroke-width="0.4"/>
<circle cx="481.54" cy="208.29" r="2.4" fill="#fdb913" stroke="#fff" stroke-width="0.4"/>
<circle cx="496.57" cy="208.01" r="2.4" fill="#fdb913" stroke="#fff" stroke-width="0.4"/>
<circle cx="504.83" cy="200.04" r="2.4" fill="#fdb913" stroke="#fff" stroke-width="0.4"/>
<circle cx="440.27" cy="190.28" r="2.4" fill="#fdb913" stroke="#fff" stroke-width="0.4"/>
<circle cx="466.02" cy="203.99" r="2.4" fill="#fdb913" stroke="#fff" stroke-width="0.4"/>
<circle cx="440.45" cy="192.56" r="2.4" fill="#fdb913" stroke="#fff" stroke-width="0.4"/>
<circle cx="476.95" cy="210.27" r="2.4" fill="#fdb913" stroke="#fff" stroke-width="0.4"/>
<circle cx="457.31" cy="186.41" r="2.4" fill="#fdb913" stroke="#fff" stroke-width="0.4"/>
<circle cx="415.7" cy="184.77" r="2.4" fill="#fdb913" stroke="#fff" stroke-width="0.4"/>
<circle cx="453.64" cy="194.12" r="2.4" fill="#fdb913" stroke="#fff" stroke-width="0.4"/>
<circle cx="407.37" cy="173.32" r="2.4" fill="#fdb913" stroke="#fff" stroke-width="0.4"/>
<circle cx="488.76" cy="191.01" r="2.4" fill="#fdb913" stroke="#fff" stroke-width="0.4"/>
<circle cx="477.8" cy="196.09" r="2.4" fill="#fdb913" stroke="#fff" stroke-width="0.4"/>
<circle cx="450.02" cy="197.73" r="2.4" fill="#fdb913" stroke="#fff" stroke-width="0.4"/>
<circle cx="496.01" cy="200.86" r="2.4" fill="#fdb913" stroke="#fff" stroke-width="0.4"/>
<circle cx="481.75" cy="191.94" r="2.4" fill="#fdb913" stroke="#fff" stroke-width="0.4"/>
<circle cx="446.28" cy="196.54" r="2.4" fill="#fdb913" stroke="#fff" stroke-width="0.4"/>
<circle cx="474.19" cy="188.95" r="2.4" fill="#fdb913" stroke="#fff" stroke-width="0.4"/>
<circle cx="416.45" cy="181.15" r="2.4" fill="#fdb913" stroke="#fff" stroke-width="0.4"/>
<circle cx="428.61" cy="185.05" r="2.4" fill="#fdb913" stroke="#fff" stroke-width="0.4"/>
<circle cx="468.03" cy="197.37" r="2.4" fill="#fdb913" stroke="#fff" stroke-width="0.4"/>
<circle cx="490.92" cy="194.84" r="2.4" fill="#fdb913" stroke="#fff" stroke-width="0.4"/>
<circle cx="487.36" cy="192.51" r="2.4" fill="#fdb913" stroke="#fff" stroke-width="0.4"/>
<circle cx="462.13" cy="191.26" r="2.4" fill="#fdb913" stroke="#fff" stroke-width="0.4"/>
<circle cx="481.78" cy="195.81" r="2.4" fill="#fdb913" stroke="#fff" stroke-width="0.4"/>
<circle cx="415.29" cy="178.32" r="2.4" fill="#fdb913" stroke="#fff" stroke-width="0.4"/>
<circle cx="415.21" cy="176.8" r="2.4" fill="#fdb913" stroke="#fff" stroke-width="0.4"/>
<circle cx="466.99" cy="206.79" r="2.4" fill="#fdb913" stroke="#fff" stroke-width="0.4"/>
<circle cx="469.06" cy="190.76" r="2.4" fill="#fdb913" stroke="#fff" stroke-width="0.4"/>
<circle cx="494.05" cy="209.5" r="2.4" fill="#fdb913" stroke="#fff" stroke-width="0.4"/>
<circle cx="445.74" cy="187.54" r="2.4" fill="#fdb913" stroke="#fff" stroke-width="0.4"/>
<circle cx="491.85" cy="198.27" r="2.4" fill="#fdb913" stroke="#fff" stroke-width="0.4"/>
<circle cx="478.94" cy="191.47" r="2.4" fill="#fdb913" stroke="#fff" stroke-width="0.4"/>
<circle cx="485.22" cy="203.06" r="2.4" fill="#fdb913" stroke="#fff" stroke-width="0.4"/>
<circle cx="458" cy="190.32" r="2.4" fill="#fdb913" stroke="#fff" stroke-width="0.4"/>
<circle cx="413.73" cy="178.31" r="2.4" fill="#fdb913" stroke="#fff" stroke-width="0.4"/>
<circle cx="464.55" cy="202.46" r="2.4" fill="#fdb913" stroke="#fff" stroke-width="0.4"/>
<circle cx="410.5" cy="179.08" r="2.4" fill="#fdb913" stroke="#fff" stroke-width="0.4"/>
<circle cx="443.88" cy="189.12" r="2.4" fill="#fdb913" stroke="#fff" stroke-width="0.4"/>
<circle cx="471.26" cy="198.13" r="2.4" fill="#fdb913" stroke="#fff" stroke-width="0.4"/>
<circle cx="481.62" cy="190.28" r="2.4" fill="#fdb913" stroke="#fff" stroke-width="0.4"/>
<circle cx="455.65" cy="189.92" r="2.4" fill="#fdb913" stroke="#fff" stroke-width="0.4"/>
<circle cx="430.63" cy="189.05" r="2.4" fill="#fdb913" stroke="#fff" stroke-width="0.4"/>
<circle cx="431.42" cy="181" r="2.4" fill="#fdb913" stroke="#fff" stroke-width="0.4"/>
<circle cx="437.93" cy="191.55" r="2.4" fill="#fdb913" stroke="#fff" stroke-width="0.4"/>
<circle cx="418.22" cy="183.95" r="2.4" fill="#fdb913" stroke="#fff" stroke-width="0.4"/>
<circle cx="474.86" cy="191.69" r="2.4" fill="#fdb913" stroke="#fff" stroke-width="0.4"/>
<circle cx="491.89" cy="206.11" r="2.4" fill="#fdb913" stroke="#fff" stroke-width="0.4"/>
<circle cx="405.86" cy="179.25" r="2.4" fill="#fdb913" stroke="#fff" stroke-width="0.4"/>
<circle cx="506.33" cy="203.78" r="2.4" fill="#fdb913" stroke="#fff" stroke-width="0.4"/>
<circle cx="499.02" cy="205.85" r="2.4" fill="#fdb913" stroke="#fff" stroke-width="0.4"/>
<circle cx="498.1" cy="193.74" r="2.4" fill="#fdb913" stroke="#fff" stroke-width="0.4"/>
<circle cx="441.82" cy="194.43" r="2.4" fill="#fdb913" stroke="#fff" stroke-width="0.4"/>
<circle cx="428.69" cy="189.41" r="2.4" fill="#fdb913" stroke="#fff" stroke-width="0.4"/>
<circle cx="490.13" cy="201.88" r="2.4" fill="#fdb913" stroke="#fff" stroke-width="0.4"/>
<circle cx="442.82" cy="183.3" r="2.4" fill="#fdb913" stroke="#fff" stroke-width="0.4"/>
<circle cx="468.56" cy="206.69" r="2.4" fill="#fdb913" stroke="#fff" stroke-width="0.4"/>
<circle cx="425.33" cy="178.43" r="2.4" fill="#fdb913" stroke="#fff" stroke-width="0.4"/>
<circle cx="471.76" cy="194.92" r="2.4" fill="#fdb913" stroke="#fff" stroke-width="0.4"/>
<circle cx="476.07" cy="201.36" r="2.4" fill="#fdb913" stroke="#fff" stroke-width="0.4"/>
<circle cx="468" cy="199.55" r="2.4" fill="#fdb913" stroke="#fff" stroke-width="0.4"/>
<circle cx="409.42" cy="177.62" r="2.4" fill="#fdb913" stroke="#fff" stroke-width="0.4"/>
<circle cx="451.1" cy="195.64" r="2.4" fill="#fdb913" stroke="#fff" stroke-width="0.4"/>
<circle cx="448.51" cy="193.87" r="2.4" fill="#fdb913" stroke="#fff" stroke-width="0.4"/>
<circle cx="472.04" cy="200.86" r="2.4" fill="#fdb913" stroke="#fff" stroke-width="0.4"/>
<circle cx="454.79" cy="198.31" r="2.4" fill="#fdb913" stroke="#fff" stroke-width="0.4"/>
<circle cx="466.41" cy="198.65" r="2.4" fill="#fdb913" stroke="#fff" stroke-width="0.4"/>
<circle cx="499.56" cy="200.29" r="2.4" fill="#fdb913" stroke="#fff" stroke-width="0.4"/>
<circle cx="453.41" cy="192.28" r="2.4" fill="#fdb913" stroke="#fff" stroke-width="0.4"/>
<circle cx="477.92" cy="202.79" r="2.4" fill="#fdb913" stroke="#fff" stroke-width="0.4"/>
<circle cx="470.42" cy="192.98" r="2.4" fill="#fdb913" stroke="#fff" stroke-width="0.4"/>
<circle cx="503.08" cy="204.43" r="2.4" fill="#fdb913" stroke="#fff" stroke-width="0.4"/>
<circle cx="501.76" cy="202.39" r="2.4" fill="#fdb913" stroke="#fff" stroke-width="0.4"/>
<circle cx="405.51" cy="177.78" r="2.4" fill="#fdb913" stroke="#fff" stroke-width="0.4"/>
<circle cx="383.74" cy="159.29" r="2.4" fill="#fdb913" stroke="#fff" stroke-width="0.4"/>
<circle cx="393.9" cy="157.84" r="2.4" fill="#fdb913" stroke="#fff" stroke-width="0.4"/>
<circle cx="382.08" cy="163.44" r="2.4" fill="#fdb913" stroke="#fff" stroke-width="0.4"/>
<circle cx="386.65" cy="165.93" r="2.4" fill="#fdb913" stroke="#fff" stroke-width="0.4"/>
<circle cx="392.45" cy="163.02" r="2.4" fill="#fdb913" stroke="#fff" stroke-width="0.4"/>
<circle cx="394.94" cy="167.58" r="2.4" fill="#fdb913" stroke="#fff" stroke-width="0.4"/>
<circle cx="399.08" cy="171.73" r="2.4" fill="#fdb913" stroke="#fff" stroke-width="0.4"/>
<circle cx="401.36" cy="167.58" r="2.4" fill="#fdb913" stroke="#fff" stroke-width="0.4"/>
<circle cx="408" cy="168" r="2.4" fill="#fdb913" stroke="#fff" stroke-width="0.4"/>
<circle cx="499.41" cy="206.56" r="2.4" fill="#fdb913" stroke="#fff" stroke-width="0.4"/>
<circle cx="446.55" cy="208.01" r="2.4" fill="#fdb913" stroke="#fff" stroke-width="0.4"/>
<circle cx="446.97" cy="209.77" r="2.4" fill="#fdb913" stroke="#fff" stroke-width="0.4"/>
<circle cx="454.85" cy="207.69" r="2.4" fill="#fdb913" stroke="#fff" stroke-width="0.4"/>
<circle cx="458.99" cy="211.63" r="2.4" fill="#fdb913" stroke="#fff" stroke-width="0.4"/>
<circle cx="467.28" cy="208.73" r="2.4" fill="#fdb913" stroke="#fff" stroke-width="0.4"/>
<circle cx="470.39" cy="214.95" r="2.4" fill="#fdb913" stroke="#fff" stroke-width="0.4"/>
<circle cx="473.5" cy="213.29" r="2.4" fill="#fdb913" stroke="#fff" stroke-width="0.4"/>
<circle cx="477.65" cy="207.07" r="2.4" fill="#fdb913" stroke="#fff" stroke-width="0.4"/>
<circle cx="483.87" cy="213.71" r="2.4" fill="#fdb913" stroke="#fff" stroke-width="0.4"/>
<circle cx="489.05" cy="215.36" r="2.4" fill="#fdb913" stroke="#fff" stroke-width="0.4"/>
<circle cx="491.74" cy="219.93" r="2.4" fill="#fdb913" stroke="#fff" stroke-width="0.4"/>
<circle cx="484.9" cy="225.11" r="2.4" fill="#fdb913" stroke="#fff" stroke-width="0.4"/>
<circle cx="480.76" cy="222.62" r="2.4" fill="#fdb913" stroke="#fff" stroke-width="0.4"/>
<circle cx="477.65" cy="219.93" r="2.4" fill="#fdb913" stroke="#fff" stroke-width="0.4"/>
<circle cx="490.09" cy="224.69" r="2.4" fill="#fdb913" stroke="#fff" stroke-width="0.4"/>
<circle cx="499.83" cy="222" r="2.4" fill="#fdb913" stroke="#fff" stroke-width="0.4"/>
<circle cx="499.41" cy="207.07" r="2.4" fill="#fdb913" stroke="#fff" stroke-width="0.4"/>
<circle cx="509.16" cy="212.88" r="2.4" fill="#fdb913" stroke="#fff" stroke-width="0.4"/>
<circle cx="473.09" cy="227.8" r="2.4" fill="#fdb913" stroke="#fff" stroke-width="0.4"/>
<circle cx="481.79" cy="209.15" r="2.4" fill="#fdb913" stroke="#fff" stroke-width="0.4"/>
<circle cx="486.98" cy="208.11" r="2.4" fill="#fdb913" stroke="#fff" stroke-width="0.4"/>
<circle cx="492.16" cy="207.49" r="2.4" fill="#fdb913" stroke="#fff" stroke-width="0.4"/>
<circle cx="475.58" cy="210.18" r="2.4" fill="#fdb913" stroke="#fff" stroke-width="0.4"/>
<circle cx="485.94" cy="211.22" r="2.4" fill="#fdb913" stroke="#fff" stroke-width="0.4"/>
<circle cx="479" cy="216" r="2.4" fill="#fdb913" stroke="#fff" stroke-width="0.4"/>
<circle cx="486.5" cy="221" r="2.4" fill="#fdb913" stroke="#fff" stroke-width="0.4"/>
<circle cx="494" cy="218.5" r="2.4" fill="#fdb913" stroke="#fff" stroke-width="0.4"/>
<circle cx="471.5" cy="233.5" r="2.4" fill="#fdb913" stroke="#fff" stroke-width="0.4"/>
<circle cx="481.5" cy="231" r="2.4" fill="#fdb913" stroke="#fff" stroke-width="0.4"/>
<circle cx="491.5" cy="231" r="2.4" fill="#fdb913" stroke="#fff" stroke-width="0.4"/>
<circle cx="501.5" cy="228.5" r="2.4" fill="#fdb913" stroke="#fff" stroke-width="0.4"/>
<circle cx="509" cy="213.5" r="2.4" fill="#fdb913" stroke="#fff" stroke-width="0.4"/>
<circle cx="446.5" cy="208.5" r="2.4" fill="#fdb913" stroke="#fff" stroke-width="0.4"/>
<circle cx="454" cy="206" r="2.4" fill="#fdb913" stroke="#fff" stroke-width="0.4"/>
<circle cx="499" cy="221" r="2.4" fill="#fdb913" stroke="#fff" stroke-width="0.4"/>
<circle cx="489" cy="225" r="2.4" fill="#fdb913" stroke="#fff" stroke-width="0.4"/>
<circle cx="476.5" cy="223.5" r="2.4" fill="#fdb913" stroke="#fff" stroke-width="0.4"/>
<circle cx="504" cy="217" r="2.4" fill="#fdb913" stroke="#fff" stroke-width="0.4"/>
<circle cx="461.52" cy="235.83" r="2.4" fill="#8c3a0c" stroke="#fff" stroke-width="0.4"/>
<circle cx="445.3" cy="237.1" r="2.4" fill="#8c3a0c" stroke="#fff" stroke-width="0.4"/>
<circle cx="452.39" cy="232.99" r="2.4" fill="#8c3a0c" stroke="#fff" stroke-width="0.4"/>
<circle cx="480.93" cy="253.2" r="2.4" fill="#8c3a0c" stroke="#fff" stroke-width="0.4"/>
<circle cx="457.79" cy="242.74" r="2.4" fill="#8c3a0c" stroke="#fff" stroke-width="0.4"/>
<circle cx="459.78" cy="235.18" r="2.4" fill="#8c3a0c" stroke="#fff" stroke-width="0.4"/>
<circle cx="476.08" cy="242.77" r="2.4" fill="#8c3a0c" stroke="#fff" stroke-width="0.4"/>
<circle cx="428.19" cy="228.35" r="2.4" fill="#8c3a0c" stroke="#fff" stroke-width="0.4"/>
<circle cx="443.4" cy="235.29" r="2.4" fill="#8c3a0c" stroke="#fff" stroke-width="0.4"/>
<circle cx="431.11" cy="227.07" r="2.4" fill="#8c3a0c" stroke="#fff" stroke-width="0.4"/>
<circle cx="441.57" cy="232.44" r="2.4" fill="#8c3a0c" stroke="#fff" stroke-width="0.4"/>
<circle cx="492.72" cy="256.43" r="2.4" fill="#8c3a0c" stroke="#fff" stroke-width="0.4"/>
<circle cx="494.86" cy="254.14" r="2.4" fill="#8c3a0c" stroke="#fff" stroke-width="0.4"/>
<circle cx="451.9" cy="236.42" r="2.4" fill="#8c3a0c" stroke="#fff" stroke-width="0.4"/>
<circle cx="438.75" cy="232.1" r="2.4" fill="#8c3a0c" stroke="#fff" stroke-width="0.4"/>
<circle cx="464.45" cy="237.42" r="2.4" fill="#8c3a0c" stroke="#fff" stroke-width="0.4"/>
<circle cx="445.89" cy="238.83" r="2.4" fill="#8c3a0c" stroke="#fff" stroke-width="0.4"/>
<circle cx="433.09" cy="231.07" r="2.4" fill="#8c3a0c" stroke="#fff" stroke-width="0.4"/>
<circle cx="481.08" cy="251.11" r="2.4" fill="#8c3a0c" stroke="#fff" stroke-width="0.4"/>
<circle cx="471.8" cy="241.14" r="2.4" fill="#8c3a0c" stroke="#fff" stroke-width="0.4"/>
<circle cx="496.92" cy="258.21" r="2.4" fill="#8c3a0c" stroke="#fff" stroke-width="0.4"/>
<circle cx="451.97" cy="238.85" r="2.4" fill="#8c3a0c" stroke="#fff" stroke-width="0.4"/>
<circle cx="452.72" cy="234.72" r="2.4" fill="#8c3a0c" stroke="#fff" stroke-width="0.4"/>
<circle cx="463.49" cy="241.56" r="2.4" fill="#8c3a0c" stroke="#fff" stroke-width="0.4"/>
<circle cx="472.32" cy="245.22" r="2.4" fill="#8c3a0c" stroke="#fff" stroke-width="0.4"/>
<circle cx="484.83" cy="249.63" r="2.4" fill="#8c3a0c" stroke="#fff" stroke-width="0.4"/>
<circle cx="469.27" cy="247.18" r="2.4" fill="#8c3a0c" stroke="#fff" stroke-width="0.4"/>
<circle cx="471.44" cy="249.56" r="2.4" fill="#8c3a0c" stroke="#fff" stroke-width="0.4"/>
<circle cx="461.11" cy="244.23" r="2.4" fill="#8c3a0c" stroke="#fff" stroke-width="0.4"/>
<circle cx="469.37" cy="245.55" r="2.4" fill="#8c3a0c" stroke="#fff" stroke-width="0.4"/>
<circle cx="462.98" cy="239.18" r="2.4" fill="#8c3a0c" stroke="#fff" stroke-width="0.4"/>
<circle cx="461.1" cy="237.38" r="2.4" fill="#8c3a0c" stroke="#fff" stroke-width="0.4"/>
<circle cx="466.78" cy="245.19" r="2.4" fill="#8c3a0c" stroke="#fff" stroke-width="0.4"/>
<circle cx="486.75" cy="250.93" r="2.4" fill="#8c3a0c" stroke="#fff" stroke-width="0.4"/>
<circle cx="474.49" cy="246.61" r="2.4" fill="#8c3a0c" stroke="#fff" stroke-width="0.4"/>
<circle cx="456.39" cy="233.6" r="2.4" fill="#8c3a0c" stroke="#fff" stroke-width="0.4"/>
<circle cx="474.88" cy="241.65" r="2.4" fill="#8c3a0c" stroke="#fff" stroke-width="0.4"/>
<circle cx="437.13" cy="231.29" r="2.4" fill="#8c3a0c" stroke="#fff" stroke-width="0.4"/>
<circle cx="469.34" cy="242.98" r="2.4" fill="#8c3a0c" stroke="#fff" stroke-width="0.4"/>
<circle cx="473.54" cy="244.29" r="2.4" fill="#8c3a0c" stroke="#fff" stroke-width="0.4"/>
<circle cx="489.78" cy="249.24" r="2.4" fill="#8c3a0c" stroke="#fff" stroke-width="0.4"/>
<circle cx="482.97" cy="249.56" r="2.4" fill="#8c3a0c" stroke="#fff" stroke-width="0.4"/>
<circle cx="466.64" cy="239.4" r="2.4" fill="#8c3a0c" stroke="#fff" stroke-width="0.4"/>
<circle cx="447.67" cy="233.17" r="2.4" fill="#8c3a0c" stroke="#fff" stroke-width="0.4"/>
<circle cx="436.6" cy="228.12" r="2.4" fill="#8c3a0c" stroke="#fff" stroke-width="0.4"/>
<circle cx="477.31" cy="248.71" r="2.4" fill="#8c3a0c" stroke="#fff" stroke-width="0.4"/>
<circle cx="440.39" cy="230.01" r="2.4" fill="#8c3a0c" stroke="#fff" stroke-width="0.4"/>
<circle cx="457.5" cy="237.67" r="2.4" fill="#8c3a0c" stroke="#fff" stroke-width="0.4"/>
<circle cx="460.2" cy="239.12" r="2.4" fill="#8c3a0c" stroke="#fff" stroke-width="0.4"/>
<circle cx="446.72" cy="236.39" r="2.4" fill="#8c3a0c" stroke="#fff" stroke-width="0.4"/>
<circle cx="466.26" cy="241.9" r="2.4" fill="#8c3a0c" stroke="#fff" stroke-width="0.4"/>
<circle cx="450.51" cy="232.59" r="2.4" fill="#8c3a0c" stroke="#fff" stroke-width="0.4"/>
<circle cx="482.86" cy="252.13" r="2.4" fill="#8c3a0c" stroke="#fff" stroke-width="0.4"/>
<circle cx="476.92" cy="246.15" r="2.4" fill="#8c3a0c" stroke="#fff" stroke-width="0.4"/>
<circle cx="448.14" cy="230.18" r="2.4" fill="#8c3a0c" stroke="#fff" stroke-width="0.4"/>
<circle cx="491.7" cy="254.64" r="2.4" fill="#8c3a0c" stroke="#fff" stroke-width="0.4"/>
<circle cx="434.9" cy="229.2" r="2.4" fill="#8c3a0c" stroke="#fff" stroke-width="0.4"/>
<circle cx="494.2" cy="258.61" r="2.4" fill="#8c3a0c" stroke="#fff" stroke-width="0.4"/>
<circle cx="477.54" cy="251.03" r="2.4" fill="#8c3a0c" stroke="#fff" stroke-width="0.4"/>
<circle cx="449.05" cy="239.85" r="2.4" fill="#8c3a0c" stroke="#fff" stroke-width="0.4"/>
<circle cx="448.56" cy="237.87" r="2.4" fill="#8c3a0c" stroke="#fff" stroke-width="0.4"/>
<circle cx="444.27" cy="231.14" r="2.4" fill="#8c3a0c" stroke="#fff" stroke-width="0.4"/>
<circle cx="435.32" cy="232.12" r="2.4" fill="#8c3a0c" stroke="#fff" stroke-width="0.4"/>
<circle cx="483.51" cy="245.96" r="2.4" fill="#8c3a0c" stroke="#fff" stroke-width="0.4"/>
<circle cx="492.07" cy="252.16" r="2.4" fill="#8c3a0c" stroke="#fff" stroke-width="0.4"/>
<circle cx="480.04" cy="249.88" r="2.4" fill="#8c3a0c" stroke="#fff" stroke-width="0.4"/>
<circle cx="445.86" cy="231.37" r="2.4" fill="#8c3a0c" stroke="#fff" stroke-width="0.4"/>
<circle cx="486.72" cy="254.02" r="2.4" fill="#8c3a0c" stroke="#fff" stroke-width="0.4"/>
<circle cx="467.9" cy="248.82" r="2.4" fill="#8c3a0c" stroke="#fff" stroke-width="0.4"/>
<circle cx="461.71" cy="246.14" r="2.4" fill="#8c3a0c" stroke="#fff" stroke-width="0.4"/>
<circle cx="440.13" cy="235.4" r="2.4" fill="#8c3a0c" stroke="#fff" stroke-width="0.4"/>
<circle cx="465.48" cy="243.95" r="2.4" fill="#8c3a0c" stroke="#fff" stroke-width="0.4"/>
<circle cx="473.42" cy="241.28" r="2.4" fill="#8c3a0c" stroke="#fff" stroke-width="0.4"/>
<circle cx="428.59" cy="225.19" r="2.4" fill="#8c3a0c" stroke="#fff" stroke-width="0.4"/>
<circle cx="458.67" cy="236.31" r="2.4" fill="#8c3a0c" stroke="#fff" stroke-width="0.4"/>
<circle cx="488.92" cy="254.02" r="2.4" fill="#8c3a0c" stroke="#fff" stroke-width="0.4"/>
<circle cx="488.1" cy="250.04" r="2.4" fill="#8c3a0c" stroke="#fff" stroke-width="0.4"/>
<circle cx="445.73" cy="233.03" r="2.4" fill="#8c3a0c" stroke="#fff" stroke-width="0.4"/>
<circle cx="459.71" cy="243.12" r="2.4" fill="#8c3a0c" stroke="#fff" stroke-width="0.4"/>
<circle cx="478.45" cy="244.38" r="2.4" fill="#8c3a0c" stroke="#fff" stroke-width="0.4"/>
<circle cx="473.83" cy="250.57" r="2.4" fill="#8c3a0c" stroke="#fff" stroke-width="0.4"/>
<circle cx="442.82" cy="231.5" r="2.4" fill="#8c3a0c" stroke="#fff" stroke-width="0.4"/>
<circle cx="449.13" cy="231.77" r="2.4" fill="#8c3a0c" stroke="#fff" stroke-width="0.4"/>
<circle cx="485.37" cy="254.54" r="2.4" fill="#8c3a0c" stroke="#fff" stroke-width="0.4"/>
<circle cx="450.61" cy="237.25" r="2.4" fill="#8c3a0c" stroke="#fff" stroke-width="0.4"/>
<circle cx="468.9" cy="241.06" r="2.4" fill="#8c3a0c" stroke="#fff" stroke-width="0.4"/>
<circle cx="468.18" cy="239.11" r="2.4" fill="#8c3a0c" stroke="#fff" stroke-width="0.4"/>
<circle cx="482.66" cy="247.1" r="2.4" fill="#8c3a0c" stroke="#fff" stroke-width="0.4"/>
<circle cx="475.78" cy="244.82" r="2.4" fill="#8c3a0c" stroke="#fff" stroke-width="0.4"/>
<circle cx="440.55" cy="227.84" r="2.4" fill="#8c3a0c" stroke="#fff" stroke-width="0.4"/>
<circle cx="443.64" cy="229.38" r="2.4" fill="#8c3a0c" stroke="#fff" stroke-width="0.4"/>
<circle cx="459.1" cy="244.52" r="2.4" fill="#8c3a0c" stroke="#fff" stroke-width="0.4"/>
<circle cx="465.82" cy="238" r="2.4" fill="#8c3a0c" stroke="#fff" stroke-width="0.4"/>
<circle cx="455.8" cy="237.74" r="2.4" fill="#8c3a0c" stroke="#fff" stroke-width="0.4"/>
<circle cx="496.62" cy="255.35" r="2.4" fill="#8c3a0c" stroke="#fff" stroke-width="0.4"/>
<circle cx="433.97" cy="226.67" r="2.4" fill="#8c3a0c" stroke="#fff" stroke-width="0.4"/>
<circle cx="499.11" cy="256.03" r="2.4" fill="#8c3a0c" stroke="#fff" stroke-width="0.4"/>
<circle cx="471.88" cy="247.12" r="2.4" fill="#8c3a0c" stroke="#fff" stroke-width="0.4"/>
<circle cx="480.54" cy="246.6" r="2.4" fill="#8c3a0c" stroke="#fff" stroke-width="0.4"/>
<circle cx="471.11" cy="239.86" r="2.4" fill="#8c3a0c" stroke="#fff" stroke-width="0.4"/>
<circle cx="470.93" cy="245.76" r="2.4" fill="#8c3a0c" stroke="#fff" stroke-width="0.4"/>
<circle cx="499.08" cy="258.28" r="2.4" fill="#8c3a0c" stroke="#fff" stroke-width="0.4"/>
<circle cx="490.94" cy="250.57" r="2.4" fill="#8c3a0c" stroke="#fff" stroke-width="0.4"/>
<circle cx="475.91" cy="250.77" r="2.4" fill="#8c3a0c" stroke="#fff" stroke-width="0.4"/>
<circle cx="439.01" cy="227.9" r="2.4" fill="#8c3a0c" stroke="#fff" stroke-width="0.4"/>
<circle cx="461.03" cy="242.63" r="2.4" fill="#8c3a0c" stroke="#fff" stroke-width="0.4"/>
<circle cx="456.64" cy="239.1" r="2.4" fill="#8c3a0c" stroke="#fff" stroke-width="0.4"/>
<circle cx="484.89" cy="252.76" r="2.4" fill="#8c3a0c" stroke="#fff" stroke-width="0.4"/>
<circle cx="464.14" cy="246.28" r="2.4" fill="#8c3a0c" stroke="#fff" stroke-width="0.4"/>
<circle cx="432.19" cy="228" r="2.4" fill="#8c3a0c" stroke="#fff" stroke-width="0.4"/>
<circle cx="437.8" cy="226.98" r="2.4" fill="#8c3a0c" stroke="#fff" stroke-width="0.4"/>
<circle cx="465.15" cy="240.5" r="2.4" fill="#8c3a0c" stroke="#fff" stroke-width="0.4"/>
<circle cx="453.4" cy="242.19" r="2.4" fill="#8c3a0c" stroke="#fff" stroke-width="0.4"/>
<circle cx="458.76" cy="240.84" r="2.4" fill="#8c3a0c" stroke="#fff" stroke-width="0.4"/>
<circle cx="431.46" cy="229.78" r="2.4" fill="#8c3a0c" stroke="#fff" stroke-width="0.4"/>
<circle cx="442.13" cy="236.37" r="2.4" fill="#8c3a0c" stroke="#fff" stroke-width="0.4"/>
<circle cx="497.39" cy="259.78" r="2.4" fill="#8c3a0c" stroke="#fff" stroke-width="0.4"/>
<circle cx="457.85" cy="234.33" r="2.4" fill="#8c3a0c" stroke="#fff" stroke-width="0.4"/>
<circle cx="475.26" cy="248.43" r="2.4" fill="#8c3a0c" stroke="#fff" stroke-width="0.4"/>
<circle cx="439.06" cy="234.28" r="2.4" fill="#8c3a0c" stroke="#fff" stroke-width="0.4"/>
<circle cx="449.14" cy="235.25" r="2.4" fill="#8c3a0c" stroke="#fff" stroke-width="0.4"/>
<circle cx="427.99" cy="226.71" r="2.4" fill="#8c3a0c" stroke="#fff" stroke-width="0.4"/>
<circle cx="453.92" cy="232.82" r="2.4" fill="#8c3a0c" stroke="#fff" stroke-width="0.4"/>
<circle cx="480.02" cy="244.69" r="2.4" fill="#8c3a0c" stroke="#fff" stroke-width="0.4"/>
<circle cx="437.69" cy="229.58" r="2.4" fill="#8c3a0c" stroke="#fff" stroke-width="0.4"/>
<circle cx="488.13" cy="251.67" r="2.4" fill="#8c3a0c" stroke="#fff" stroke-width="0.4"/>
<circle cx="460.3" cy="240.59" r="2.4" fill="#8c3a0c" stroke="#fff" stroke-width="0.4"/>
<circle cx="447.19" cy="235.05" r="2.4" fill="#8c3a0c" stroke="#fff" stroke-width="0.4"/>
<circle cx="442.95" cy="233.92" r="2.4" fill="#8c3a0c" stroke="#fff" stroke-width="0.4"/>
<circle cx="471.05" cy="243.43" r="2.4" fill="#8c3a0c" stroke="#fff" stroke-width="0.4"/>
<circle cx="405.09" cy="213.71" r="2.4" fill="#8c3a0c" stroke="#fff" stroke-width="0.4"/>
<circle cx="411.31" cy="219.51" r="2.4" fill="#8c3a0c" stroke="#fff" stroke-width="0.4"/>
<circle cx="413.8" cy="217.85" r="2.4" fill="#8c3a0c" stroke="#fff" stroke-width="0.4"/>
<circle cx="417.95" cy="219.51" r="2.4" fill="#8c3a0c" stroke="#fff" stroke-width="0.4"/>
<circle cx="422.71" cy="214.95" r="2.4" fill="#8c3a0c" stroke="#fff" stroke-width="0.4"/>
<circle cx="427.28" cy="217.02" r="2.4" fill="#8c3a0c" stroke="#fff" stroke-width="0.4"/>
<circle cx="423.13" cy="225.11" r="2.4" fill="#8c3a0c" stroke="#fff" stroke-width="0.4"/>
<circle cx="427.9" cy="224.69" r="2.4" fill="#8c3a0c" stroke="#fff" stroke-width="0.4"/>
<circle cx="429.97" cy="222.62" r="2.4" fill="#8c3a0c" stroke="#fff" stroke-width="0.4"/>
<circle cx="433.08" cy="225.73" r="2.4" fill="#8c3a0c" stroke="#fff" stroke-width="0.4"/>
<circle cx="475.58" cy="223.24" r="2.4" fill="#8c3a0c" stroke="#fff" stroke-width="0.4"/>
<circle cx="460.65" cy="205.62" r="2.4" fill="#8c3a0c" stroke="#fff" stroke-width="0.4"/>
<circle cx="469.77" cy="234.02" r="2.4" fill="#fdb913" stroke="#fff" stroke-width="0.4"/>
<circle cx="481.38" cy="239.2" r="2.4" fill="#fdb913" stroke="#fff" stroke-width="0.4"/>
<circle cx="485.94" cy="240.66" r="2.4" fill="#fdb913" stroke="#fff" stroke-width="0.4"/>
<circle cx="495.27" cy="247.5" r="2.4" fill="#fdb913" stroke="#fff" stroke-width="0.4"/>
<rect x="379.6" y="237.5" width="28.5" height="20.5" rx="1" fill="#eaeaf2" fill-opacity="0.8" stroke="#d8d8e2" stroke-opacity="0.7" stroke-width="0.4"/>
<circle cx="388.7" cy="243.2" r="1.35" fill="#8c3a0c"/>
<circle cx="388.7" cy="252.7" r="1.2" fill="#fdb913"/>
<text class="lg" x="401.2" y="245.1">1</text>
<text class="lg" x="401.2" y="254.7">2</text>
<rect x="543.5" y="152.9" width="139.9" height="109" fill="#eaeaf2"/>
<line x1="570" y1="152.9" x2="570" y2="261.9" stroke="#fff" stroke-opacity="0.2" stroke-width="0.6"/>
<text class="tk" x="570" y="269.5" text-anchor="middle">−2</text>
<line x1="606.3" y1="152.9" x2="606.3" y2="261.9" stroke="#fff" stroke-opacity="0.2" stroke-width="0.6"/>
<text class="tk" x="606.3" y="269.5" text-anchor="middle">−1</text>
<line x1="642.6" y1="152.9" x2="642.6" y2="261.9" stroke="#fff" stroke-opacity="0.2" stroke-width="0.6"/>
<text class="tk" x="642.6" y="269.5" text-anchor="middle">0</text>
<line x1="678.9" y1="152.9" x2="678.9" y2="261.9" stroke="#fff" stroke-opacity="0.2" stroke-width="0.6"/>
<text class="tk" x="678.9" y="269.5" text-anchor="middle">1</text>
<line x1="543.5" y1="162.7" x2="683.4" y2="162.7" stroke="#fff" stroke-opacity="0.2" stroke-width="0.6"/>
<text class="tk" x="542.5" y="165.5" text-anchor="end">0.5</text>
<line x1="543.5" y1="183.7" x2="683.4" y2="183.7" stroke="#fff" stroke-opacity="0.2" stroke-width="0.6"/>
<text class="tk" x="542.5" y="186.5" text-anchor="end">0.0</text>
<line x1="543.5" y1="204.7" x2="683.4" y2="204.7" stroke="#fff" stroke-opacity="0.2" stroke-width="0.6"/>
<text class="tk" x="542.5" y="207.5" text-anchor="end">−0.5</text>
<line x1="543.5" y1="225.7" x2="683.4" y2="225.7" stroke="#fff" stroke-opacity="0.2" stroke-width="0.6"/>
<text class="tk" x="542.5" y="228.5" text-anchor="end">−1.0</text>
<line x1="543.5" y1="246.7" x2="683.4" y2="246.7" stroke="#fff" stroke-opacity="0.2" stroke-width="0.6"/>
<text class="tk" x="542.5" y="249.5" text-anchor="end">−1.5</text>
<text class="ax" x="614.05" y="278.6" text-anchor="middle">f<tspan class="sub" dy="1.6">1</tspan></text>
<text class="ax" transform="translate(521 207) rotate(-90)" text-anchor="middle">f<tspan class="sub" dy="1.6">2</tspan></text>
<circle cx="592.89" cy="173.21" r="2.4" fill="#fdb913" stroke="#fff" stroke-width="0.4"/>
<circle cx="562.29" cy="194.89" r="2.4" fill="#fdb913" stroke="#fff" stroke-width="0.4"/>
<circle cx="633.95" cy="160.36" r="2.4" fill="#fdb913" stroke="#fff" stroke-width="0.4"/>
<circle cx="617.61" cy="163.71" r="2.4" fill="#fdb913" stroke="#fff" stroke-width="0.4"/>
<circle cx="575.74" cy="192.38" r="2.4" fill="#fdb913" stroke="#fff" stroke-width="0.4"/>
<circle cx="632.16" cy="159.21" r="2.4" fill="#fdb913" stroke="#fff" stroke-width="0.4"/>
<circle cx="584.95" cy="178.41" r="2.4" fill="#fdb913" stroke="#fff" stroke-width="0.4"/>
<circle cx="634.71" cy="161.73" r="2.4" fill="#fdb913" stroke="#fff" stroke-width="0.4"/>
<circle cx="557.09" cy="180.53" r="2.4" fill="#fdb913" stroke="#fff" stroke-width="0.4"/>
<circle cx="588.84" cy="174.3" r="2.4" fill="#fdb913" stroke="#fff" stroke-width="0.4"/>
<circle cx="603.91" cy="164.39" r="2.4" fill="#fdb913" stroke="#fff" stroke-width="0.4"/>
<circle cx="606.41" cy="163.37" r="2.4" fill="#fdb913" stroke="#fff" stroke-width="0.4"/>
<circle cx="571.55" cy="183.66" r="2.4" fill="#fdb913" stroke="#fff" stroke-width="0.4"/>
<circle cx="622.28" cy="160.62" r="2.4" fill="#fdb913" stroke="#fff" stroke-width="0.4"/>
<circle cx="604.32" cy="176.64" r="2.4" fill="#fdb913" stroke="#fff" stroke-width="0.4"/>
<circle cx="624.62" cy="171.25" r="2.4" fill="#fdb913" stroke="#fff" stroke-width="0.4"/>
<circle cx="591.1" cy="171.07" r="2.4" fill="#fdb913" stroke="#fff" stroke-width="0.4"/>
<circle cx="557.6" cy="184.47" r="2.4" fill="#fdb913" stroke="#fff" stroke-width="0.4"/>
<circle cx="558.94" cy="191.26" r="2.4" fill="#fdb913" stroke="#fff" stroke-width="0.4"/>
<circle cx="551.61" cy="191.11" r="2.4" fill="#fdb913" stroke="#fff" stroke-width="0.4"/>
<circle cx="616.13" cy="167.71" r="2.4" fill="#fdb913" stroke="#fff" stroke-width="0.4"/>
<circle cx="587.03" cy="173.2" r="2.4" fill="#fdb913" stroke="#fff" stroke-width="0.4"/>
<circle cx="630.32" cy="173.04" r="2.4" fill="#fdb913" stroke="#fff" stroke-width="0.4"/>
<circle cx="612.18" cy="164.32" r="2.4" fill="#fdb913" stroke="#fff" stroke-width="0.4"/>
<circle cx="628.76" cy="168.18" r="2.4" fill="#fdb913" stroke="#fff" stroke-width="0.4"/>
<circle cx="565.51" cy="198.4" r="2.4" fill="#fdb913" stroke="#fff" stroke-width="0.4"/>
<circle cx="568.89" cy="173.89" r="2.4" fill="#fdb913" stroke="#fff" stroke-width="0.4"/>
<circle cx="621.3" cy="173.64" r="2.4" fill="#fdb913" stroke="#fff" stroke-width="0.4"/>
<circle cx="632.9" cy="164.23" r="2.4" fill="#fdb913" stroke="#fff" stroke-width="0.4"/>
<circle cx="632.24" cy="178.53" r="2.4" fill="#fdb913" stroke="#fff" stroke-width="0.4"/>
<circle cx="622.8" cy="166.58" r="2.4" fill="#fdb913" stroke="#fff" stroke-width="0.4"/>
<circle cx="592.29" cy="181.38" r="2.4" fill="#fdb913" stroke="#fff" stroke-width="0.4"/>
<circle cx="633.07" cy="180.73" r="2.4" fill="#fdb913" stroke="#fff" stroke-width="0.4"/>
<circle cx="598.6" cy="180.41" r="2.4" fill="#fdb913" stroke="#fff" stroke-width="0.4"/>
<circle cx="577.54" cy="188.66" r="2.4" fill="#fdb913" stroke="#fff" stroke-width="0.4"/>
<circle cx="617.19" cy="161.34" r="2.4" fill="#fdb913" stroke="#fff" stroke-width="0.4"/>
<circle cx="554.21" cy="183.3" r="2.4" fill="#fdb913" stroke="#fff" stroke-width="0.4"/>
<circle cx="613.17" cy="174.68" r="2.4" fill="#fdb913" stroke="#fff" stroke-width="0.4"/>
<circle cx="593.57" cy="180.34" r="2.4" fill="#fdb913" stroke="#fff" stroke-width="0.4"/>
<circle cx="571.04" cy="191.08" r="2.4" fill="#fdb913" stroke="#fff" stroke-width="0.4"/>
<circle cx="584.07" cy="184.7" r="2.4" fill="#fdb913" stroke="#fff" stroke-width="0.4"/>
<circle cx="598.06" cy="165.48" r="2.4" fill="#fdb913" stroke="#fff" stroke-width="0.4"/>
<circle cx="624.67" cy="159.34" r="2.4" fill="#fdb913" stroke="#fff" stroke-width="0.4"/>
<circle cx="606.31" cy="166.5" r="2.4" fill="#fdb913" stroke="#fff" stroke-width="0.4"/>
<circle cx="606.2" cy="178.41" r="2.4" fill="#fdb913" stroke="#fff" stroke-width="0.4"/>
<circle cx="575.29" cy="177.1" r="2.4" fill="#fdb913" stroke="#fff" stroke-width="0.4"/>
<circle cx="587.15" cy="171.09" r="2.4" fill="#fdb913" stroke="#fff" stroke-width="0.4"/>
<circle cx="565.31" cy="180.71" r="2.4" fill="#fdb913" stroke="#fff" stroke-width="0.4"/>
<circle cx="567" cy="188.08" r="2.4" fill="#fdb913" stroke="#fff" stroke-width="0.4"/>
<circle cx="611.35" cy="162.86" r="2.4" fill="#fdb913" stroke="#fff" stroke-width="0.4"/>
<circle cx="608.2" cy="171.65" r="2.4" fill="#fdb913" stroke="#fff" stroke-width="0.4"/>
<circle cx="591.39" cy="183.46" r="2.4" fill="#fdb913" stroke="#fff" stroke-width="0.4"/>
<circle cx="618.41" cy="166.09" r="2.4" fill="#fdb913" stroke="#fff" stroke-width="0.4"/>
<circle cx="600.33" cy="171.54" r="2.4" fill="#fdb913" stroke="#fff" stroke-width="0.4"/>
<circle cx="616.84" cy="169.31" r="2.4" fill="#fdb913" stroke="#fff" stroke-width="0.4"/>
<circle cx="610.45" cy="174.18" r="2.4" fill="#fdb913" stroke="#fff" stroke-width="0.4"/>
<circle cx="561.94" cy="187.14" r="2.4" fill="#fdb913" stroke="#fff" stroke-width="0.4"/>
<circle cx="579.44" cy="173.73" r="2.4" fill="#fdb913" stroke="#fff" stroke-width="0.4"/>
<circle cx="566.43" cy="183.72" r="2.4" fill="#fdb913" stroke="#fff" stroke-width="0.4"/>
<circle cx="619.78" cy="172.08" r="2.4" fill="#fdb913" stroke="#fff" stroke-width="0.4"/>
<circle cx="566.8" cy="191.02" r="2.4" fill="#fdb913" stroke="#fff" stroke-width="0.4"/>
<circle cx="612.33" cy="161.05" r="2.4" fill="#fdb913" stroke="#fff" stroke-width="0.4"/>
<circle cx="640.63" cy="164.99" r="2.4" fill="#fdb913" stroke="#fff" stroke-width="0.4"/>
<circle cx="554.55" cy="194.33" r="2.4" fill="#fdb913" stroke="#fff" stroke-width="0.4"/>
<circle cx="639.8" cy="174.24" r="2.4" fill="#fdb913" stroke="#fff" stroke-width="0.4"/>
<circle cx="566.28" cy="194.09" r="2.4" fill="#fdb913" stroke="#fff" stroke-width="0.4"/>
<circle cx="573.15" cy="183.73" r="2.4" fill="#fdb913" stroke="#fff" stroke-width="0.4"/>
<circle cx="638.78" cy="172.05" r="2.4" fill="#fdb913" stroke="#fff" stroke-width="0.4"/>
<circle cx="637.52" cy="173.07" r="2.4" fill="#fdb913" stroke="#fff" stroke-width="0.4"/>
<circle cx="635.53" cy="181.1" r="2.4" fill="#fdb913" stroke="#fff" stroke-width="0.4"/>
<circle cx="551.98" cy="189.41" r="2.4" fill="#fdb913" stroke="#fff" stroke-width="0.4"/>
<circle cx="551.05" cy="193.73" r="2.4" fill="#fdb913" stroke="#fff" stroke-width="0.4"/>
<circle cx="616.17" cy="172.54" r="2.4" fill="#fdb913" stroke="#fff" stroke-width="0.4"/>
<circle cx="556.34" cy="187.82" r="2.4" fill="#fdb913" stroke="#fff" stroke-width="0.4"/>
<circle cx="633.83" cy="172.13" r="2.4" fill="#fdb913" stroke="#fff" stroke-width="0.4"/>
<circle cx="578.74" cy="176.9" r="2.4" fill="#fdb913" stroke="#fff" stroke-width="0.4"/>
<circle cx="559.01" cy="195.5" r="2.4" fill="#fdb913" stroke="#fff" stroke-width="0.4"/>
<circle cx="606.82" cy="173.53" r="2.4" fill="#fdb913" stroke="#fff" stroke-width="0.4"/>
<circle cx="566.79" cy="195.58" r="2.4" fill="#fdb913" stroke="#fff" stroke-width="0.4"/>
<circle cx="562.8" cy="189.54" r="2.4" fill="#fdb913" stroke="#fff" stroke-width="0.4"/>
<circle cx="609.99" cy="170.6" r="2.4" fill="#fdb913" stroke="#fff" stroke-width="0.4"/>
<circle cx="592.93" cy="182.75" r="2.4" fill="#fdb913" stroke="#fff" stroke-width="0.4"/>
<circle cx="609.08" cy="177.76" r="2.4" fill="#fdb913" stroke="#fff" stroke-width="0.4"/>
<circle cx="604.65" cy="180.22" r="2.4" fill="#fdb913" stroke="#fff" stroke-width="0.4"/>
<circle cx="563.35" cy="185.23" r="2.4" fill="#fdb913" stroke="#fff" stroke-width="0.4"/>
<circle cx="615.44" cy="160.31" r="2.4" fill="#fdb913" stroke="#fff" stroke-width="0.4"/>
<circle cx="621.37" cy="164.27" r="2.4" fill="#fdb913" stroke="#fff" stroke-width="0.4"/>
<circle cx="597.42" cy="176.23" r="2.4" fill="#fdb913" stroke="#fff" stroke-width="0.4"/>
<circle cx="564.49" cy="199.89" r="2.4" fill="#fdb913" stroke="#fff" stroke-width="0.4"/>
<circle cx="614.85" cy="170.8" r="2.4" fill="#fdb913" stroke="#fff" stroke-width="0.4"/>
<circle cx="579.93" cy="187.52" r="2.4" fill="#fdb913" stroke="#fff" stroke-width="0.4"/>
<circle cx="573.34" cy="191.73" r="2.4" fill="#fdb913" stroke="#fff" stroke-width="0.4"/>
<circle cx="556.74" cy="190.78" r="2.4" fill="#fdb913" stroke="#fff" stroke-width="0.4"/>
<circle cx="630.92" cy="169.42" r="2.4" fill="#fdb913" stroke="#fff" stroke-width="0.4"/>
<circle cx="594.67" cy="169.58" r="2.4" fill="#fdb913" stroke="#fff" stroke-width="0.4"/>
<circle cx="554.26" cy="189.06" r="2.4" fill="#fdb913" stroke="#fff" stroke-width="0.4"/>
<circle cx="572.87" cy="173.16" r="2.4" fill="#fdb913" stroke="#fff" stroke-width="0.4"/>
<circle cx="570.25" cy="187.92" r="2.4" fill="#fdb913" stroke="#fff" stroke-width="0.4"/>
<circle cx="595.72" cy="180.42" r="2.4" fill="#fdb913" stroke="#fff" stroke-width="0.4"/>
<circle cx="625.49" cy="172.54" r="2.4" fill="#fdb913" stroke="#fff" stroke-width="0.4"/>
<circle cx="636.97" cy="160.5" r="2.4" fill="#fdb913" stroke="#fff" stroke-width="0.4"/>
<circle cx="570.02" cy="176.48" r="2.4" fill="#fdb913" stroke="#fff" stroke-width="0.4"/>
<circle cx="608.27" cy="168.08" r="2.4" fill="#fdb913" stroke="#fff" stroke-width="0.4"/>
<circle cx="555.14" cy="191.74" r="2.4" fill="#fdb913" stroke="#fff" stroke-width="0.4"/>
<circle cx="626.54" cy="162.18" r="2.4" fill="#fdb913" stroke="#fff" stroke-width="0.4"/>
<circle cx="588.43" cy="169.16" r="2.4" fill="#fdb913" stroke="#fff" stroke-width="0.4"/>
<circle cx="627.57" cy="164.93" r="2.4" fill="#fdb913" stroke="#fff" stroke-width="0.4"/>
<circle cx="603.28" cy="168.86" r="2.4" fill="#fdb913" stroke="#fff" stroke-width="0.4"/>
<circle cx="601.03" cy="168.54" r="2.4" fill="#fdb913" stroke="#fff" stroke-width="0.4"/>
<circle cx="619.49" cy="163.12" r="2.4" fill="#fdb913" stroke="#fff" stroke-width="0.4"/>
<circle cx="553.07" cy="187.34" r="2.4" fill="#fdb913" stroke="#fff" stroke-width="0.4"/>
<circle cx="565.94" cy="182.26" r="2.4" fill="#fdb913" stroke="#fff" stroke-width="0.4"/>
<circle cx="591.47" cy="177.49" r="2.4" fill="#fdb913" stroke="#fff" stroke-width="0.4"/>
<circle cx="580.81" cy="184.18" r="2.4" fill="#fdb913" stroke="#fff" stroke-width="0.4"/>
<circle cx="626.84" cy="159.88" r="2.4" fill="#fdb913" stroke="#fff" stroke-width="0.4"/>
<circle cx="597.7" cy="170.63" r="2.4" fill="#fdb913" stroke="#fff" stroke-width="0.4"/>
<circle cx="555.56" cy="197.96" r="2.4" fill="#fdb913" stroke="#fff" stroke-width="0.4"/>
<circle cx="635.2" cy="174.27" r="2.4" fill="#fdb913" stroke="#fff" stroke-width="0.4"/>
<circle cx="582.89" cy="181.18" r="2.4" fill="#fdb913" stroke="#fff" stroke-width="0.4"/>
<circle cx="582.58" cy="173.91" r="2.4" fill="#fdb913" stroke="#fff" stroke-width="0.4"/>
<circle cx="631.98" cy="161.84" r="2.4" fill="#fdb913" stroke="#fff" stroke-width="0.4"/>
<circle cx="576.53" cy="175.46" r="2.4" fill="#fdb913" stroke="#fff" stroke-width="0.4"/>
<circle cx="636.03" cy="164.18" r="2.4" fill="#fdb913" stroke="#fff" stroke-width="0.4"/>
<circle cx="639.5" cy="170.32" r="2.4" fill="#fdb913" stroke="#fff" stroke-width="0.4"/>
<circle cx="570.56" cy="172.77" r="2.4" fill="#fdb913" stroke="#fff" stroke-width="0.4"/>
<circle cx="610.73" cy="172.71" r="2.4" fill="#fdb913" stroke="#fff" stroke-width="0.4"/>
<circle cx="629.21" cy="161.37" r="2.4" fill="#fdb913" stroke="#fff" stroke-width="0.4"/>
<circle cx="630.96" cy="167.65" r="2.4" fill="#fdb913" stroke="#fff" stroke-width="0.4"/>
<circle cx="599.64" cy="178.81" r="2.4" fill="#fdb913" stroke="#fff" stroke-width="0.4"/>
<circle cx="628.44" cy="170.68" r="2.4" fill="#fdb913" stroke="#fff" stroke-width="0.4"/>
<circle cx="560.67" cy="188.9" r="2.4" fill="#fdb913" stroke="#fff" stroke-width="0.4"/>
<circle cx="630.05" cy="160.08" r="2.4" fill="#fdb913" stroke="#fff" stroke-width="0.4"/>
<circle cx="580.49" cy="172.62" r="2.4" fill="#fdb913" stroke="#fff" stroke-width="0.4"/>
<circle cx="579.18" cy="184.29" r="2.4" fill="#fdb913" stroke="#fff" stroke-width="0.4"/>
<circle cx="563.14" cy="199.06" r="2.4" fill="#fdb913" stroke="#fff" stroke-width="0.4"/>
<circle cx="624.7" cy="163.3" r="2.4" fill="#fdb913" stroke="#fff" stroke-width="0.4"/>
<circle cx="574.82" cy="180.23" r="2.4" fill="#fdb913" stroke="#fff" stroke-width="0.4"/>
<circle cx="624.21" cy="167.17" r="2.4" fill="#fdb913" stroke="#fff" stroke-width="0.4"/>
<circle cx="580.76" cy="176.69" r="2.4" fill="#fdb913" stroke="#fff" stroke-width="0.4"/>
<circle cx="552.32" cy="195.66" r="2.4" fill="#fdb913" stroke="#fff" stroke-width="0.4"/>
<circle cx="577.29" cy="185.46" r="2.4" fill="#fdb913" stroke="#fff" stroke-width="0.4"/>
<circle cx="631.58" cy="157.16" r="2.4" fill="#fdb913" stroke="#fff" stroke-width="0.4"/>
<circle cx="557.82" cy="196.71" r="2.4" fill="#fdb913" stroke="#fff" stroke-width="0.4"/>
<circle cx="612.92" cy="168.73" r="2.4" fill="#fdb913" stroke="#fff" stroke-width="0.4"/>
<circle cx="636.98" cy="175.3" r="2.4" fill="#fdb913" stroke="#fff" stroke-width="0.4"/>
<circle cx="593.08" cy="167.1" r="2.4" fill="#fdb913" stroke="#fff" stroke-width="0.4"/>
<circle cx="629.93" cy="174.65" r="2.4" fill="#fdb913" stroke="#fff" stroke-width="0.4"/>
<circle cx="586.44" cy="186.4" r="2.4" fill="#fdb913" stroke="#fff" stroke-width="0.4"/>
<circle cx="567.59" cy="178.99" r="2.4" fill="#fdb913" stroke="#fff" stroke-width="0.4"/>
<circle cx="606.32" cy="170.17" r="2.4" fill="#fdb913" stroke="#fff" stroke-width="0.4"/>
<circle cx="638.07" cy="163.19" r="2.4" fill="#fdb913" stroke="#fff" stroke-width="0.4"/>
<circle cx="579.49" cy="181.8" r="2.4" fill="#fdb913" stroke="#fff" stroke-width="0.4"/>
<circle cx="588.79" cy="184.92" r="2.4" fill="#fdb913" stroke="#fff" stroke-width="0.4"/>
<circle cx="597.22" cy="168.26" r="2.4" fill="#fdb913" stroke="#fff" stroke-width="0.4"/>
<circle cx="608.72" cy="174.1" r="2.4" fill="#fdb913" stroke="#fff" stroke-width="0.4"/>
<circle cx="603.1" cy="172.97" r="2.4" fill="#fdb913" stroke="#fff" stroke-width="0.4"/>
<circle cx="571.82" cy="181.71" r="2.4" fill="#fdb913" stroke="#fff" stroke-width="0.4"/>
<circle cx="561.49" cy="180.73" r="2.4" fill="#fdb913" stroke="#fff" stroke-width="0.4"/>
<circle cx="641.83" cy="173.31" r="2.4" fill="#fdb913" stroke="#fff" stroke-width="0.4"/>
<circle cx="624.55" cy="164.96" r="2.4" fill="#fdb913" stroke="#fff" stroke-width="0.4"/>
<circle cx="563.74" cy="195.86" r="2.4" fill="#fdb913" stroke="#fff" stroke-width="0.4"/>
<circle cx="630.59" cy="164.65" r="2.4" fill="#fdb913" stroke="#fff" stroke-width="0.4"/>
<circle cx="590.75" cy="180.54" r="2.4" fill="#fdb913" stroke="#fff" stroke-width="0.4"/>
<circle cx="583.16" cy="186.01" r="2.4" fill="#fdb913" stroke="#fff" stroke-width="0.4"/>
<circle cx="573.33" cy="182.1" r="2.4" fill="#fdb913" stroke="#fff" stroke-width="0.4"/>
<circle cx="591.11" cy="167.74" r="2.4" fill="#fdb913" stroke="#fff" stroke-width="0.4"/>
<circle cx="612.45" cy="176.44" r="2.4" fill="#fdb913" stroke="#fff" stroke-width="0.4"/>
<circle cx="575.25" cy="188.87" r="2.4" fill="#fdb913" stroke="#fff" stroke-width="0.4"/>
<circle cx="614.66" cy="166.23" r="2.4" fill="#fdb913" stroke="#fff" stroke-width="0.4"/>
<circle cx="632.05" cy="173.04" r="2.4" fill="#fdb913" stroke="#fff" stroke-width="0.4"/>
<circle cx="593.57" cy="176.38" r="2.4" fill="#fdb913" stroke="#fff" stroke-width="0.4"/>
<circle cx="634.41" cy="167.28" r="2.4" fill="#fdb913" stroke="#fff" stroke-width="0.4"/>
<circle cx="564.23" cy="174.46" r="2.4" fill="#fdb913" stroke="#fff" stroke-width="0.4"/>
<circle cx="574.75" cy="190.96" r="2.4" fill="#fdb913" stroke="#fff" stroke-width="0.4"/>
<circle cx="600.36" cy="180.58" r="2.4" fill="#fdb913" stroke="#fff" stroke-width="0.4"/>
<circle cx="622.9" cy="163.98" r="2.4" fill="#fdb913" stroke="#fff" stroke-width="0.4"/>
<circle cx="626.72" cy="170.69" r="2.4" fill="#fdb913" stroke="#fff" stroke-width="0.4"/>
<circle cx="559.61" cy="183.29" r="2.4" fill="#fdb913" stroke="#fff" stroke-width="0.4"/>
<circle cx="557.86" cy="187.31" r="2.4" fill="#fdb913" stroke="#fff" stroke-width="0.4"/>
<circle cx="609.9" cy="161.68" r="2.4" fill="#fdb913" stroke="#fff" stroke-width="0.4"/>
<circle cx="551.99" cy="184.39" r="2.4" fill="#fdb913" stroke="#fff" stroke-width="0.4"/>
<circle cx="574.99" cy="173.33" r="2.4" fill="#fdb913" stroke="#fff" stroke-width="0.4"/>
<circle cx="581.4" cy="185.99" r="2.4" fill="#fdb913" stroke="#fff" stroke-width="0.4"/>
<circle cx="595.69" cy="172.84" r="2.4" fill="#fdb913" stroke="#fff" stroke-width="0.4"/>
<circle cx="582.71" cy="177.88" r="2.4" fill="#fdb913" stroke="#fff" stroke-width="0.4"/>
<circle cx="634.91" cy="176.3" r="2.4" fill="#fdb913" stroke="#fff" stroke-width="0.4"/>
<circle cx="631.55" cy="166.14" r="2.4" fill="#fdb913" stroke="#fff" stroke-width="0.4"/>
<circle cx="630.62" cy="176.75" r="2.4" fill="#fdb913" stroke="#fff" stroke-width="0.4"/>
<circle cx="633.19" cy="176.79" r="2.4" fill="#fdb913" stroke="#fff" stroke-width="0.4"/>
<circle cx="594.24" cy="177.92" r="2.4" fill="#fdb913" stroke="#fff" stroke-width="0.4"/>
<circle cx="599.23" cy="169.42" r="2.4" fill="#fdb913" stroke="#fff" stroke-width="0.4"/>
<circle cx="564.2" cy="188.01" r="2.4" fill="#fdb913" stroke="#fff" stroke-width="0.4"/>
<circle cx="620.19" cy="161.03" r="2.4" fill="#fdb913" stroke="#fff" stroke-width="0.4"/>
<circle cx="572.46" cy="188.06" r="2.4" fill="#fdb913" stroke="#fff" stroke-width="0.4"/>
<circle cx="637.47" cy="177.2" r="2.4" fill="#fdb913" stroke="#fff" stroke-width="0.4"/>
<circle cx="561.07" cy="190.7" r="2.4" fill="#fdb913" stroke="#fff" stroke-width="0.4"/>
<circle cx="593.25" cy="170.98" r="2.4" fill="#fdb913" stroke="#fff" stroke-width="0.4"/>
<circle cx="564.93" cy="176.44" r="2.4" fill="#fdb913" stroke="#fff" stroke-width="0.4"/>
<circle cx="589.4" cy="179.14" r="2.4" fill="#fdb913" stroke="#fff" stroke-width="0.4"/>
<circle cx="561.11" cy="192.76" r="2.4" fill="#fdb913" stroke="#fff" stroke-width="0.4"/>
<circle cx="641.21" cy="167.96" r="2.4" fill="#fdb913" stroke="#fff" stroke-width="0.4"/>
<circle cx="578.08" cy="174.38" r="2.4" fill="#fdb913" stroke="#fff" stroke-width="0.4"/>
<circle cx="616.47" cy="166.1" r="2.4" fill="#fdb913" stroke="#fff" stroke-width="0.4"/>
<circle cx="601.44" cy="175.59" r="2.4" fill="#fdb913" stroke="#fff" stroke-width="0.4"/>
<circle cx="581.58" cy="170.5" r="2.4" fill="#fdb913" stroke="#fff" stroke-width="0.4"/>
<circle cx="566.85" cy="185.97" r="2.4" fill="#fdb913" stroke="#fff" stroke-width="0.4"/>
<circle cx="619.06" cy="167.63" r="2.4" fill="#fdb913" stroke="#fff" stroke-width="0.4"/>
<circle cx="582.73" cy="183.95" r="2.4" fill="#fdb913" stroke="#fff" stroke-width="0.4"/>
<circle cx="621.55" cy="169.38" r="2.4" fill="#fdb913" stroke="#fff" stroke-width="0.4"/>
<circle cx="608.65" cy="165.88" r="2.4" fill="#fdb913" stroke="#fff" stroke-width="0.4"/>
<circle cx="560.06" cy="198.74" r="2.4" fill="#fdb913" stroke="#fff" stroke-width="0.4"/>
<circle cx="586.92" cy="179.57" r="2.4" fill="#fdb913" stroke="#fff" stroke-width="0.4"/>
<circle cx="618.97" cy="170.01" r="2.4" fill="#fdb913" stroke="#fff" stroke-width="0.4"/>
<circle cx="637.98" cy="170.43" r="2.4" fill="#fdb913" stroke="#fff" stroke-width="0.4"/>
<circle cx="604.73" cy="174.09" r="2.4" fill="#fdb913" stroke="#fff" stroke-width="0.4"/>
<circle cx="557.85" cy="192.33" r="2.4" fill="#fdb913" stroke="#fff" stroke-width="0.4"/>
<circle cx="569.32" cy="184.04" r="2.4" fill="#fdb913" stroke="#fff" stroke-width="0.4"/>
<circle cx="627.62" cy="166.89" r="2.4" fill="#fdb913" stroke="#fff" stroke-width="0.4"/>
<circle cx="577.7" cy="179.63" r="2.4" fill="#fdb913" stroke="#fff" stroke-width="0.4"/>
<circle cx="568.49" cy="181.85" r="2.4" fill="#fdb913" stroke="#fff" stroke-width="0.4"/>
<circle cx="605.8" cy="176.21" r="2.4" fill="#fdb913" stroke="#fff" stroke-width="0.4"/>
<circle cx="564.92" cy="193.44" r="2.4" fill="#fdb913" stroke="#fff" stroke-width="0.4"/>
<circle cx="560.89" cy="178.61" r="2.4" fill="#fdb913" stroke="#fff" stroke-width="0.4"/>
<circle cx="627.45" cy="169.18" r="2.4" fill="#fdb913" stroke="#fff" stroke-width="0.4"/>
<circle cx="586.11" cy="174.72" r="2.4" fill="#fdb913" stroke="#fff" stroke-width="0.4"/>
<circle cx="587.69" cy="178.13" r="2.4" fill="#fdb913" stroke="#fff" stroke-width="0.4"/>
<circle cx="561.66" cy="176.87" r="2.4" fill="#fdb913" stroke="#fff" stroke-width="0.4"/>
<circle cx="585.08" cy="176.26" r="2.4" fill="#fdb913" stroke="#fff" stroke-width="0.4"/>
<circle cx="623.2" cy="172.2" r="2.4" fill="#fdb913" stroke="#fff" stroke-width="0.4"/>
<circle cx="601.51" cy="167.09" r="2.4" fill="#fdb913" stroke="#fff" stroke-width="0.4"/>
<circle cx="615.84" cy="164.53" r="2.4" fill="#fdb913" stroke="#fff" stroke-width="0.4"/>
<circle cx="638.67" cy="175.37" r="2.4" fill="#fdb913" stroke="#fff" stroke-width="0.4"/>
<circle cx="614.5" cy="169.07" r="2.4" fill="#fdb913" stroke="#fff" stroke-width="0.4"/>
<circle cx="556.88" cy="189.28" r="2.4" fill="#fdb913" stroke="#fff" stroke-width="0.4"/>
<circle cx="639.31" cy="162.26" r="2.4" fill="#fdb913" stroke="#fff" stroke-width="0.4"/>
<circle cx="569.01" cy="186.73" r="2.4" fill="#fdb913" stroke="#fff" stroke-width="0.4"/>
<circle cx="567.21" cy="180.91" r="2.4" fill="#fdb913" stroke="#fff" stroke-width="0.4"/>
<circle cx="571.54" cy="186.17" r="2.4" fill="#fdb913" stroke="#fff" stroke-width="0.4"/>
<circle cx="567.88" cy="189.35" r="2.4" fill="#fdb913" stroke="#fff" stroke-width="0.4"/>
<circle cx="555.83" cy="195.2" r="2.4" fill="#fdb913" stroke="#fff" stroke-width="0.4"/>
<circle cx="602.47" cy="178.24" r="2.4" fill="#fdb913" stroke="#fff" stroke-width="0.4"/>
<circle cx="574.91" cy="175.35" r="2.4" fill="#fdb913" stroke="#fff" stroke-width="0.4"/>
<circle cx="621.8" cy="171.55" r="2.4" fill="#fdb913" stroke="#fff" stroke-width="0.4"/>
<circle cx="578.06" cy="171.23" r="2.4" fill="#fdb913" stroke="#fff" stroke-width="0.4"/>
<circle cx="561.52" cy="199.31" r="2.4" fill="#fdb913" stroke="#fff" stroke-width="0.4"/>
<circle cx="576.58" cy="182.92" r="2.4" fill="#fdb913" stroke="#fff" stroke-width="0.4"/>
<circle cx="635.71" cy="159.61" r="2.4" fill="#fdb913" stroke="#fff" stroke-width="0.4"/>
<circle cx="583.45" cy="176.17" r="2.4" fill="#fdb913" stroke="#fff" stroke-width="0.4"/>
<circle cx="634.09" cy="170.01" r="2.4" fill="#fdb913" stroke="#fff" stroke-width="0.4"/>
<circle cx="604.92" cy="172.22" r="2.4" fill="#fdb913" stroke="#fff" stroke-width="0.4"/>
<circle cx="630.74" cy="179.2" r="2.4" fill="#fdb913" stroke="#fff" stroke-width="0.4"/>
<circle cx="597.33" cy="172.76" r="2.4" fill="#fdb913" stroke="#fff" stroke-width="0.4"/>
<circle cx="571.3" cy="180.13" r="2.4" fill="#fdb913" stroke="#fff" stroke-width="0.4"/>
<circle cx="614.71" cy="162.79" r="2.4" fill="#fdb913" stroke="#fff" stroke-width="0.4"/>
<circle cx="561.05" cy="184.59" r="2.4" fill="#fdb913" stroke="#fff" stroke-width="0.4"/>
<circle cx="563.61" cy="179.03" r="2.4" fill="#fdb913" stroke="#fff" stroke-width="0.4"/>
<circle cx="585.55" cy="170.01" r="2.4" fill="#fdb913" stroke="#fff" stroke-width="0.4"/>
<circle cx="583.8" cy="182.81" r="2.4" fill="#fdb913" stroke="#fff" stroke-width="0.4"/>
<circle cx="584.13" cy="170.76" r="2.4" fill="#fdb913" stroke="#fff" stroke-width="0.4"/>
<circle cx="636.79" cy="171.43" r="2.4" fill="#fdb913" stroke="#fff" stroke-width="0.4"/>
<circle cx="562.23" cy="182.81" r="2.4" fill="#fdb913" stroke="#fff" stroke-width="0.4"/>
<circle cx="572.26" cy="176.23" r="2.4" fill="#fdb913" stroke="#fff" stroke-width="0.4"/>
<circle cx="623.5" cy="170.24" r="2.4" fill="#fdb913" stroke="#fff" stroke-width="0.4"/>
<circle cx="619.77" cy="173.85" r="2.4" fill="#fdb913" stroke="#fff" stroke-width="0.4"/>
<circle cx="639.04" cy="167.31" r="2.4" fill="#fdb913" stroke="#fff" stroke-width="0.4"/>
<circle cx="612.75" cy="170.66" r="2.4" fill="#fdb913" stroke="#fff" stroke-width="0.4"/>
<circle cx="590.38" cy="174.25" r="2.4" fill="#fdb913" stroke="#fff" stroke-width="0.4"/>
<circle cx="592.06" cy="175.22" r="2.4" fill="#fdb913" stroke="#fff" stroke-width="0.4"/>
<circle cx="566.03" cy="178.33" r="2.4" fill="#fdb913" stroke="#fff" stroke-width="0.4"/>
<circle cx="555.94" cy="184.31" r="2.4" fill="#fdb913" stroke="#fff" stroke-width="0.4"/>
<circle cx="584.47" cy="173.95" r="2.4" fill="#fdb913" stroke="#fff" stroke-width="0.4"/>
<circle cx="608.14" cy="175.65" r="2.4" fill="#fdb913" stroke="#fff" stroke-width="0.4"/>
<circle cx="617.49" cy="159.85" r="2.4" fill="#fdb913" stroke="#fff" stroke-width="0.4"/>
<circle cx="612.62" cy="167.03" r="2.4" fill="#fdb913" stroke="#fff" stroke-width="0.4"/>
<circle cx="594.27" cy="173.82" r="2.4" fill="#fdb913" stroke="#fff" stroke-width="0.4"/>
<circle cx="635.61" cy="169.5" r="2.4" fill="#fdb913" stroke="#fff" stroke-width="0.4"/>
<circle cx="563.73" cy="190.83" r="2.4" fill="#fdb913" stroke="#fff" stroke-width="0.4"/>
<circle cx="609.79" cy="167.16" r="2.4" fill="#fdb913" stroke="#fff" stroke-width="0.4"/>
<circle cx="573.49" cy="186.45" r="2.4" fill="#fdb913" stroke="#fff" stroke-width="0.4"/>
<circle cx="619.83" cy="159.53" r="2.4" fill="#fdb913" stroke="#fff" stroke-width="0.4"/>
<circle cx="579.9" cy="165.51" r="2.4" fill="#fdb913" stroke="#fff" stroke-width="0.4"/>
<circle cx="596.9" cy="190.8" r="2.4" fill="#fdb913" stroke="#fff" stroke-width="0.4"/>
<circle cx="602.08" cy="186.24" r="2.4" fill="#fdb913" stroke="#fff" stroke-width="0.4"/>
<circle cx="620.74" cy="183.13" r="2.4" fill="#fdb913" stroke="#fff" stroke-width="0.4"/>
<circle cx="617.63" cy="191.42" r="2.4" fill="#fdb913" stroke="#fff" stroke-width="0.4"/>
<circle cx="649.76" cy="176.29" r="2.4" fill="#fdb913" stroke="#fff" stroke-width="0.4"/>
<circle cx="655.98" cy="180.02" r="2.4" fill="#fdb913" stroke="#fff" stroke-width="0.4"/>
<circle cx="660.12" cy="180.02" r="2.4" fill="#fdb913" stroke="#fff" stroke-width="0.4"/>
<circle cx="644.58" cy="195.57" r="2.4" fill="#fdb913" stroke="#fff" stroke-width="0.4"/>
<circle cx="638.77" cy="214.74" r="2.4" fill="#fdb913" stroke="#fff" stroke-width="0.4"/>
<circle cx="639.81" cy="217.44" r="2.4" fill="#fdb913" stroke="#fff" stroke-width="0.4"/>
<circle cx="663.85" cy="238.58" r="2.4" fill="#fdb913" stroke="#fff" stroke-width="0.4"/>
<circle cx="665.72" cy="243.97" r="2.4" fill="#fdb913" stroke="#fff" stroke-width="0.4"/>
<circle cx="592.75" cy="240.66" r="2.4" fill="#8c3a0c" stroke="#fff" stroke-width="0.4"/>
<circle cx="600.42" cy="243.35" r="2.4" fill="#8c3a0c" stroke="#fff" stroke-width="0.4"/>
<circle cx="605.19" cy="245.42" r="2.4" fill="#8c3a0c" stroke="#fff" stroke-width="0.4"/>
<circle cx="609.33" cy="244.8" r="2.4" fill="#8c3a0c" stroke="#fff" stroke-width="0.4"/>
<circle cx="614.1" cy="247.08" r="2.4" fill="#8c3a0c" stroke="#fff" stroke-width="0.4"/>
<circle cx="619.7" cy="248.95" r="2.4" fill="#8c3a0c" stroke="#fff" stroke-width="0.4"/>
<circle cx="625.92" cy="250.19" r="2.4" fill="#8c3a0c" stroke="#fff" stroke-width="0.4"/>
<circle cx="630.06" cy="251.64" r="2.4" fill="#8c3a0c" stroke="#fff" stroke-width="0.4"/>
<circle cx="636.28" cy="253.71" r="2.4" fill="#8c3a0c" stroke="#fff" stroke-width="0.4"/>
<circle cx="639.39" cy="252.68" r="2.4" fill="#8c3a0c" stroke="#fff" stroke-width="0.4"/>
<circle cx="644.58" cy="253.71" r="2.4" fill="#8c3a0c" stroke="#fff" stroke-width="0.4"/>
<circle cx="650.79" cy="254.75" r="2.4" fill="#8c3a0c" stroke="#fff" stroke-width="0.4"/>
<circle cx="657.01" cy="255.17" r="2.4" fill="#8c3a0c" stroke="#fff" stroke-width="0.4"/>
<circle cx="662.2" cy="255.17" r="2.4" fill="#8c3a0c" stroke="#fff" stroke-width="0.4"/>
<circle cx="667.38" cy="254.13" r="2.4" fill="#8c3a0c" stroke="#fff" stroke-width="0.4"/>
<circle cx="673.6" cy="253.71" r="2.4" fill="#8c3a0c" stroke="#fff" stroke-width="0.4"/>
<circle cx="677.74" cy="252.68" r="2.4" fill="#8c3a0c" stroke="#fff" stroke-width="0.4"/>
<circle cx="659.82" cy="254.99" r="2.4" fill="#8c3a0c" stroke="#fff" stroke-width="0.4"/>
<circle cx="652.59" cy="255.28" r="2.4" fill="#8c3a0c" stroke="#fff" stroke-width="0.4"/>
<circle cx="629.48" cy="250.5" r="2.4" fill="#8c3a0c" stroke="#fff" stroke-width="0.4"/>
<circle cx="656.44" cy="254.89" r="2.4" fill="#8c3a0c" stroke="#fff" stroke-width="0.4"/>
<circle cx="653.08" cy="254.42" r="2.4" fill="#8c3a0c" stroke="#fff" stroke-width="0.4"/>
<circle cx="630.41" cy="251.48" r="2.4" fill="#8c3a0c" stroke="#fff" stroke-width="0.4"/>
<circle cx="646.2" cy="254.17" r="2.4" fill="#8c3a0c" stroke="#fff" stroke-width="0.4"/>
<circle cx="636.56" cy="251.87" r="2.4" fill="#8c3a0c" stroke="#fff" stroke-width="0.4"/>
<circle cx="668.9" cy="253.69" r="2.4" fill="#8c3a0c" stroke="#fff" stroke-width="0.4"/>
<circle cx="672.27" cy="252.93" r="2.4" fill="#8c3a0c" stroke="#fff" stroke-width="0.4"/>
<circle cx="643.71" cy="252.97" r="2.4" fill="#8c3a0c" stroke="#fff" stroke-width="0.4"/>
<circle cx="672.33" cy="253.7" r="2.4" fill="#8c3a0c" stroke="#fff" stroke-width="0.4"/>
<circle cx="648.1" cy="254.31" r="2.4" fill="#8c3a0c" stroke="#fff" stroke-width="0.4"/>
<circle cx="645.43" cy="253.55" r="2.4" fill="#8c3a0c" stroke="#fff" stroke-width="0.4"/>
<circle cx="637.16" cy="252.93" r="2.4" fill="#8c3a0c" stroke="#fff" stroke-width="0.4"/>
<circle cx="645.26" cy="254.19" r="2.4" fill="#8c3a0c" stroke="#fff" stroke-width="0.4"/>
<circle cx="648.05" cy="253.61" r="2.4" fill="#8c3a0c" stroke="#fff" stroke-width="0.4"/>
<circle cx="648.36" cy="253.58" r="2.4" fill="#8c3a0c" stroke="#fff" stroke-width="0.4"/>
<circle cx="628.61" cy="250.35" r="2.4" fill="#8c3a0c" stroke="#fff" stroke-width="0.4"/>
<circle cx="677.63" cy="253.47" r="2.4" fill="#8c3a0c" stroke="#fff" stroke-width="0.4"/>
<circle cx="646.9" cy="253.31" r="2.4" fill="#8c3a0c" stroke="#fff" stroke-width="0.4"/>
<circle cx="639.01" cy="252.85" r="2.4" fill="#8c3a0c" stroke="#fff" stroke-width="0.4"/>
<circle cx="672.66" cy="253.36" r="2.4" fill="#8c3a0c" stroke="#fff" stroke-width="0.4"/>
<circle cx="664.77" cy="254.9" r="2.4" fill="#8c3a0c" stroke="#fff" stroke-width="0.4"/>
<circle cx="645.47" cy="253.33" r="2.4" fill="#8c3a0c" stroke="#fff" stroke-width="0.4"/>
<circle cx="634.06" cy="251.36" r="2.4" fill="#8c3a0c" stroke="#fff" stroke-width="0.4"/>
<circle cx="629.56" cy="250.23" r="2.4" fill="#8c3a0c" stroke="#fff" stroke-width="0.4"/>
<circle cx="657.15" cy="254.37" r="2.4" fill="#8c3a0c" stroke="#fff" stroke-width="0.4"/>
<circle cx="675.11" cy="253.48" r="2.4" fill="#8c3a0c" stroke="#fff" stroke-width="0.4"/>
<circle cx="656.16" cy="254.25" r="2.4" fill="#8c3a0c" stroke="#fff" stroke-width="0.4"/>
<circle cx="657.98" cy="255.28" r="2.4" fill="#8c3a0c" stroke="#fff" stroke-width="0.4"/>
<circle cx="661.54" cy="254.96" r="2.4" fill="#8c3a0c" stroke="#fff" stroke-width="0.4"/>
<circle cx="641.52" cy="253.66" r="2.4" fill="#8c3a0c" stroke="#fff" stroke-width="0.4"/>
<circle cx="662.09" cy="255.18" r="2.4" fill="#8c3a0c" stroke="#fff" stroke-width="0.4"/>
<circle cx="631.04" cy="251.66" r="2.4" fill="#8c3a0c" stroke="#fff" stroke-width="0.4"/>
<circle cx="627.52" cy="250.58" r="2.4" fill="#8c3a0c" stroke="#fff" stroke-width="0.4"/>
<circle cx="636.88" cy="252.91" r="2.4" fill="#8c3a0c" stroke="#fff" stroke-width="0.4"/>
<circle cx="664.46" cy="255.62" r="2.4" fill="#8c3a0c" stroke="#fff" stroke-width="0.4"/>
<circle cx="630.9" cy="251.77" r="2.4" fill="#8c3a0c" stroke="#fff" stroke-width="0.4"/>
<circle cx="644.46" cy="253.57" r="2.4" fill="#8c3a0c" stroke="#fff" stroke-width="0.4"/>
<circle cx="663.06" cy="255.15" r="2.4" fill="#8c3a0c" stroke="#fff" stroke-width="0.4"/>
<circle cx="630.17" cy="251.48" r="2.4" fill="#8c3a0c" stroke="#fff" stroke-width="0.4"/>
<circle cx="662.51" cy="255.7" r="2.4" fill="#8c3a0c" stroke="#fff" stroke-width="0.4"/>
<circle cx="656.97" cy="254.98" r="2.4" fill="#8c3a0c" stroke="#fff" stroke-width="0.4"/>
<circle cx="651.47" cy="254.21" r="2.4" fill="#8c3a0c" stroke="#fff" stroke-width="0.4"/>
<circle cx="665.18" cy="254.61" r="2.4" fill="#8c3a0c" stroke="#fff" stroke-width="0.4"/>
<circle cx="668.9" cy="254.54" r="2.4" fill="#8c3a0c" stroke="#fff" stroke-width="0.4"/>
<circle cx="636.45" cy="252.57" r="2.4" fill="#8c3a0c" stroke="#fff" stroke-width="0.4"/>
<circle cx="669.09" cy="254.71" r="2.4" fill="#8c3a0c" stroke="#fff" stroke-width="0.4"/>
<circle cx="657.25" cy="254.63" r="2.4" fill="#8c3a0c" stroke="#fff" stroke-width="0.4"/>
<circle cx="674.32" cy="253.55" r="2.4" fill="#8c3a0c" stroke="#fff" stroke-width="0.4"/>
<circle cx="663.36" cy="255.48" r="2.4" fill="#8c3a0c" stroke="#fff" stroke-width="0.4"/>
<circle cx="674.85" cy="253.79" r="2.4" fill="#8c3a0c" stroke="#fff" stroke-width="0.4"/>
<circle cx="672.13" cy="253.26" r="2.4" fill="#8c3a0c" stroke="#fff" stroke-width="0.4"/>
<circle cx="657.31" cy="254.35" r="2.4" fill="#8c3a0c" stroke="#fff" stroke-width="0.4"/>
<circle cx="658.11" cy="255.13" r="2.4" fill="#8c3a0c" stroke="#fff" stroke-width="0.4"/>
<circle cx="626.42" cy="249.5" r="2.4" fill="#8c3a0c" stroke="#fff" stroke-width="0.4"/>
<circle cx="666.58" cy="254.39" r="2.4" fill="#8c3a0c" stroke="#fff" stroke-width="0.4"/>
<circle cx="676.54" cy="253.56" r="2.4" fill="#8c3a0c" stroke="#fff" stroke-width="0.4"/>
<circle cx="653.33" cy="254.72" r="2.4" fill="#8c3a0c" stroke="#fff" stroke-width="0.4"/>
<circle cx="672.12" cy="253.15" r="2.4" fill="#8c3a0c" stroke="#fff" stroke-width="0.4"/>
<circle cx="628.26" cy="251.24" r="2.4" fill="#8c3a0c" stroke="#fff" stroke-width="0.4"/>
<circle cx="650.97" cy="253.99" r="2.4" fill="#8c3a0c" stroke="#fff" stroke-width="0.4"/>
<circle cx="650.83" cy="255.14" r="2.4" fill="#8c3a0c" stroke="#fff" stroke-width="0.4"/>
<circle cx="664.81" cy="254.92" r="2.4" fill="#8c3a0c" stroke="#fff" stroke-width="0.4"/>
<circle cx="643.18" cy="252.76" r="2.4" fill="#8c3a0c" stroke="#fff" stroke-width="0.4"/>
<circle cx="653.12" cy="254.61" r="2.4" fill="#8c3a0c" stroke="#fff" stroke-width="0.4"/>
<circle cx="638.33" cy="252.79" r="2.4" fill="#8c3a0c" stroke="#fff" stroke-width="0.4"/>
<circle cx="675.24" cy="253.52" r="2.4" fill="#8c3a0c" stroke="#fff" stroke-width="0.4"/>
<circle cx="671.31" cy="253.67" r="2.4" fill="#8c3a0c" stroke="#fff" stroke-width="0.4"/>
<circle cx="646.65" cy="237.13" r="2.4" fill="#8c3a0c" stroke="#fff" stroke-width="0.4"/>
<circle cx="614.1" cy="203.86" r="2.4" fill="#8c3a0c" stroke="#fff" stroke-width="0.4"/>
<rect x="547.1" y="237.5" width="28.5" height="20.5" rx="1" fill="#eaeaf2" fill-opacity="0.8" stroke="#d8d8e2" stroke-opacity="0.7" stroke-width="0.4"/>
<circle cx="556.2" cy="243.2" r="1.35" fill="#8c3a0c"/>
<circle cx="556.2" cy="252.7" r="1.2" fill="#fdb913"/>
<text class="lg" x="568.7" y="245.1">1</text>
<text class="lg" x="568.7" y="254.7">2</text>
</svg>
</body></html>
